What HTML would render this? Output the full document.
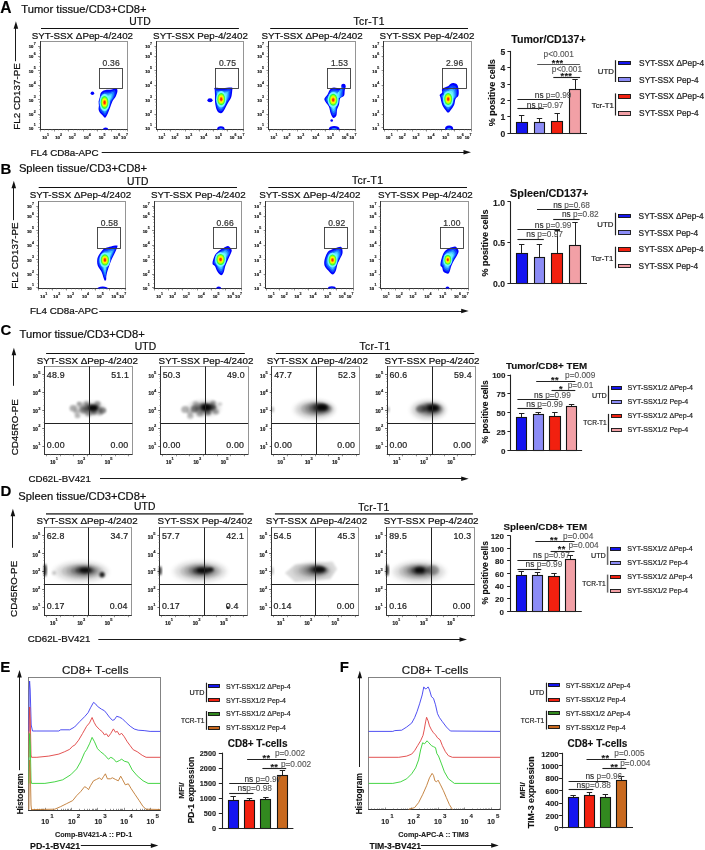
<!DOCTYPE html><html><head><meta charset="utf-8"><title>Figure</title><style>html,body{margin:0;padding:0;background:#fff;width:705px;height:850px;overflow:hidden;}svg{display:block;font-family:"Liberation Sans", sans-serif;will-change:transform;}</style></head><body><svg width="705" height="850" viewBox="0 0 705 850" font-family='"Liberation Sans", sans-serif' fill="#111"><defs><filter id="bl1" x="-20%" y="-20%" width="140%" height="140%"><feGaussianBlur stdDeviation="0.45"/></filter><filter id="bl2" x="-50%" y="-50%" width="200%" height="200%"><feGaussianBlur stdDeviation="1.2"/></filter><filter id="bl3" x="-50%" y="-50%" width="200%" height="200%"><feGaussianBlur stdDeviation="2.2"/></filter><filter id="bl4" x="-50%" y="-50%" width="200%" height="200%"><feGaussianBlur stdDeviation="0.8"/></filter><clipPath id="cA0"><rect x="40" y="41.5" width="87.5" height="88"/></clipPath><clipPath id="cA1"><rect x="156.4" y="41.5" width="87.5" height="88"/></clipPath><clipPath id="cA2"><rect x="268.4" y="41.5" width="87.5" height="88"/></clipPath><clipPath id="cA3"><rect x="383.6" y="41.5" width="87.5" height="88"/></clipPath><clipPath id="cB0"><rect x="38.2" y="201.5" width="87.7" height="87"/></clipPath><clipPath id="cB1"><rect x="154" y="201.5" width="87.7" height="87"/></clipPath><clipPath id="cB2"><rect x="265.6" y="201.5" width="87.7" height="87"/></clipPath><clipPath id="cB3"><rect x="380.7" y="201.5" width="87.7" height="87"/></clipPath></defs><text x="0.2" y="12.8" font-size="15.6" font-weight="bold" fill="#000" stroke="#000" stroke-width="0.13">A</text>
<text x="21.3" y="12.5" font-size="11.2" stroke="#111" stroke-width="0.22">Tumor tissue/CD3+CD8+</text>
<text x="139.95" y="25.4" font-size="10.3" text-anchor="middle" stroke="#111" stroke-width="0.22" letter-spacing="0.15">UTD</text>
<text x="369.1" y="25.4" font-size="10.3" text-anchor="middle" stroke="#111" stroke-width="0.22" letter-spacing="0.35">Tcr-T1</text>
<line x1="41" y1="28.5" x2="238.9" y2="28.5" stroke="#111" stroke-width="1.1"/>
<line x1="270.2" y1="28.5" x2="468" y2="28.5" stroke="#111" stroke-width="1.1"/>
<text x="82.4" y="38.5" font-size="9.8" text-anchor="middle" stroke="#111" stroke-width="0.22">SYT-SSX ΔPep-4/2402</text>
<text x="200.5" y="38.5" font-size="9.8" text-anchor="middle" stroke="#111" stroke-width="0.22">SYT-SSX Pep-4/2402</text>
<text x="312.1" y="38.5" font-size="9.8" text-anchor="middle" stroke="#111" stroke-width="0.22">SYT-SSX ΔPep-4/2402</text>
<text x="427" y="38.5" font-size="9.8" text-anchor="middle" stroke="#111" stroke-width="0.22">SYT-SSX Pep-4/2402</text>
<rect x="40.5" y="41.5" width="87" height="88" fill="none" stroke="#8a8a8a" stroke-width="0.9"/>
<line x1="40.5" y1="41.1" x2="40.5" y2="129.9" stroke="#333" stroke-width="1"/>
<line x1="39.6" y1="129.5" x2="127.5" y2="129.5" stroke="#333" stroke-width="1"/>
<line x1="38" y1="127.5" x2="40" y2="127.5" stroke="#444" stroke-width="0.6"/>
<text x="31.1" y="129.67" font-size="4.2" text-anchor="middle" font-weight="bold" fill="#1a1a1a" stroke="#1a1a1a" stroke-width="0.22">10</text>
<text x="33.7" y="126.31" font-size="3.57" font-weight="bold" fill="#1a1a1a" stroke="#1a1a1a" stroke-width="0.15">1</text>
<line x1="39" y1="123.5" x2="40" y2="123.5" stroke="#777" stroke-width="0.5"/>
<line x1="39" y1="119.5" x2="40" y2="119.5" stroke="#777" stroke-width="0.5"/>
<line x1="39" y1="117.5" x2="40" y2="117.5" stroke="#777" stroke-width="0.5"/>
<line x1="39" y1="115.5" x2="40" y2="115.5" stroke="#777" stroke-width="0.5"/>
<line x1="38" y1="114.5" x2="40" y2="114.5" stroke="#444" stroke-width="0.6"/>
<text x="31.1" y="116.07" font-size="4.2" text-anchor="middle" font-weight="bold" fill="#1a1a1a" stroke="#1a1a1a" stroke-width="0.22">10</text>
<text x="33.7" y="112.71" font-size="3.57" font-weight="bold" fill="#1a1a1a" stroke="#1a1a1a" stroke-width="0.15">2</text>
<line x1="39" y1="109.5" x2="40" y2="109.5" stroke="#777" stroke-width="0.5"/>
<line x1="39" y1="105.5" x2="40" y2="105.5" stroke="#777" stroke-width="0.5"/>
<line x1="39" y1="102.5" x2="40" y2="102.5" stroke="#777" stroke-width="0.5"/>
<line x1="39" y1="101.5" x2="40" y2="101.5" stroke="#777" stroke-width="0.5"/>
<line x1="38" y1="99.5" x2="40" y2="99.5" stroke="#444" stroke-width="0.6"/>
<text x="31.1" y="101.67" font-size="4.2" text-anchor="middle" font-weight="bold" fill="#1a1a1a" stroke="#1a1a1a" stroke-width="0.22">10</text>
<text x="33.7" y="98.31" font-size="3.57" font-weight="bold" fill="#1a1a1a" stroke="#1a1a1a" stroke-width="0.15">3</text>
<line x1="39" y1="95.5" x2="40" y2="95.5" stroke="#777" stroke-width="0.5"/>
<line x1="39" y1="91.5" x2="40" y2="91.5" stroke="#777" stroke-width="0.5"/>
<line x1="39" y1="88.5" x2="40" y2="88.5" stroke="#777" stroke-width="0.5"/>
<line x1="39" y1="86.5" x2="40" y2="86.5" stroke="#777" stroke-width="0.5"/>
<line x1="38" y1="85.5" x2="40" y2="85.5" stroke="#444" stroke-width="0.6"/>
<text x="31.1" y="87.27" font-size="4.2" text-anchor="middle" font-weight="bold" fill="#1a1a1a" stroke="#1a1a1a" stroke-width="0.22">10</text>
<text x="33.7" y="83.91" font-size="3.57" font-weight="bold" fill="#1a1a1a" stroke="#1a1a1a" stroke-width="0.15">4</text>
<line x1="39" y1="80.5" x2="40" y2="80.5" stroke="#777" stroke-width="0.5"/>
<line x1="39" y1="76.5" x2="40" y2="76.5" stroke="#777" stroke-width="0.5"/>
<line x1="39" y1="73.5" x2="40" y2="73.5" stroke="#777" stroke-width="0.5"/>
<line x1="39" y1="72.5" x2="40" y2="72.5" stroke="#777" stroke-width="0.5"/>
<line x1="38" y1="70.5" x2="40" y2="70.5" stroke="#444" stroke-width="0.6"/>
<text x="31.1" y="72.67" font-size="4.2" text-anchor="middle" font-weight="bold" fill="#1a1a1a" stroke="#1a1a1a" stroke-width="0.22">10</text>
<text x="33.7" y="69.31" font-size="3.57" font-weight="bold" fill="#1a1a1a" stroke="#1a1a1a" stroke-width="0.15">5</text>
<line x1="39" y1="66.5" x2="40" y2="66.5" stroke="#777" stroke-width="0.5"/>
<line x1="39" y1="62.5" x2="40" y2="62.5" stroke="#777" stroke-width="0.5"/>
<line x1="39" y1="59.5" x2="40" y2="59.5" stroke="#777" stroke-width="0.5"/>
<line x1="39" y1="57.5" x2="40" y2="57.5" stroke="#777" stroke-width="0.5"/>
<line x1="38" y1="56.5" x2="40" y2="56.5" stroke="#444" stroke-width="0.6"/>
<text x="31.1" y="58.27" font-size="4.2" text-anchor="middle" font-weight="bold" fill="#1a1a1a" stroke="#1a1a1a" stroke-width="0.22">10</text>
<text x="33.7" y="54.91" font-size="3.57" font-weight="bold" fill="#1a1a1a" stroke="#1a1a1a" stroke-width="0.15">6</text>
<line x1="39" y1="53.5" x2="40" y2="53.5" stroke="#777" stroke-width="0.5"/>
<line x1="39" y1="50.5" x2="40" y2="50.5" stroke="#777" stroke-width="0.5"/>
<line x1="39" y1="48.5" x2="40" y2="48.5" stroke="#777" stroke-width="0.5"/>
<line x1="39" y1="47.5" x2="40" y2="47.5" stroke="#777" stroke-width="0.5"/>
<line x1="38" y1="46.5" x2="40" y2="46.5" stroke="#444" stroke-width="0.6"/>
<text x="31.1" y="48.47" font-size="4.2" text-anchor="middle" font-weight="bold" fill="#1a1a1a" stroke="#1a1a1a" stroke-width="0.22">10</text>
<text x="33.7" y="45.11" font-size="3.57" font-weight="bold" fill="#1a1a1a" stroke="#1a1a1a" stroke-width="0.15">7</text>
<text x="44.5" y="138.87" font-size="4.2" text-anchor="middle" font-weight="bold" fill="#1a1a1a" stroke="#1a1a1a" stroke-width="0.22">10</text>
<text x="47.1" y="135.51" font-size="3.57" font-weight="bold" fill="#1a1a1a" stroke="#1a1a1a" stroke-width="0.15">1</text>
<text x="57.5" y="138.87" font-size="4.2" text-anchor="middle" font-weight="bold" fill="#1a1a1a" stroke="#1a1a1a" stroke-width="0.22">10</text>
<text x="60.1" y="135.51" font-size="3.57" font-weight="bold" fill="#1a1a1a" stroke="#1a1a1a" stroke-width="0.15">2</text>
<text x="71.2" y="138.87" font-size="4.2" text-anchor="middle" font-weight="bold" fill="#1a1a1a" stroke="#1a1a1a" stroke-width="0.22">10</text>
<text x="73.8" y="135.51" font-size="3.57" font-weight="bold" fill="#1a1a1a" stroke="#1a1a1a" stroke-width="0.15">3</text>
<text x="86.2" y="138.87" font-size="4.2" text-anchor="middle" font-weight="bold" fill="#1a1a1a" stroke="#1a1a1a" stroke-width="0.22">10</text>
<text x="88.8" y="135.51" font-size="3.57" font-weight="bold" fill="#1a1a1a" stroke="#1a1a1a" stroke-width="0.15">4</text>
<text x="101" y="138.87" font-size="4.2" text-anchor="middle" font-weight="bold" fill="#1a1a1a" stroke="#1a1a1a" stroke-width="0.22">10</text>
<text x="103.6" y="135.51" font-size="3.57" font-weight="bold" fill="#1a1a1a" stroke="#1a1a1a" stroke-width="0.15">5</text>
<text x="115.6" y="138.87" font-size="4.2" text-anchor="middle" font-weight="bold" fill="#1a1a1a" stroke="#1a1a1a" stroke-width="0.22">10</text>
<text x="118.2" y="135.51" font-size="3.57" font-weight="bold" fill="#1a1a1a" stroke="#1a1a1a" stroke-width="0.15">6</text>
<text x="123.4" y="138.87" font-size="4.2" text-anchor="middle" font-weight="bold" fill="#1a1a1a" stroke="#1a1a1a" stroke-width="0.22">10</text>
<text x="126" y="135.51" font-size="3.57" font-weight="bold" fill="#1a1a1a" stroke="#1a1a1a" stroke-width="0.15">7</text>
<line x1="40.5" y1="129.5" x2="40.5" y2="131.5" stroke="#444" stroke-width="0.6"/>
<line x1="44.5" y1="129.5" x2="44.5" y2="130.5" stroke="#777" stroke-width="0.5"/>
<line x1="48.5" y1="129.5" x2="48.5" y2="130.5" stroke="#777" stroke-width="0.5"/>
<line x1="51.5" y1="129.5" x2="51.5" y2="130.5" stroke="#777" stroke-width="0.5"/>
<line x1="52.5" y1="129.5" x2="52.5" y2="130.5" stroke="#777" stroke-width="0.5"/>
<line x1="54.5" y1="129.5" x2="54.5" y2="131.5" stroke="#444" stroke-width="0.6"/>
<line x1="58.5" y1="129.5" x2="58.5" y2="130.5" stroke="#777" stroke-width="0.5"/>
<line x1="62.5" y1="129.5" x2="62.5" y2="130.5" stroke="#777" stroke-width="0.5"/>
<line x1="65.5" y1="129.5" x2="65.5" y2="130.5" stroke="#777" stroke-width="0.5"/>
<line x1="67.5" y1="129.5" x2="67.5" y2="130.5" stroke="#777" stroke-width="0.5"/>
<line x1="68.5" y1="129.5" x2="68.5" y2="131.5" stroke="#444" stroke-width="0.6"/>
<line x1="73.5" y1="129.5" x2="73.5" y2="130.5" stroke="#777" stroke-width="0.5"/>
<line x1="77.5" y1="129.5" x2="77.5" y2="130.5" stroke="#777" stroke-width="0.5"/>
<line x1="79.5" y1="129.5" x2="79.5" y2="130.5" stroke="#777" stroke-width="0.5"/>
<line x1="81.5" y1="129.5" x2="81.5" y2="130.5" stroke="#777" stroke-width="0.5"/>
<line x1="83.5" y1="129.5" x2="83.5" y2="131.5" stroke="#444" stroke-width="0.6"/>
<line x1="87.5" y1="129.5" x2="87.5" y2="130.5" stroke="#777" stroke-width="0.5"/>
<line x1="91.5" y1="129.5" x2="91.5" y2="130.5" stroke="#777" stroke-width="0.5"/>
<line x1="94.5" y1="129.5" x2="94.5" y2="130.5" stroke="#777" stroke-width="0.5"/>
<line x1="96.5" y1="129.5" x2="96.5" y2="130.5" stroke="#777" stroke-width="0.5"/>
<line x1="97.5" y1="129.5" x2="97.5" y2="131.5" stroke="#444" stroke-width="0.6"/>
<line x1="101.5" y1="129.5" x2="101.5" y2="130.5" stroke="#777" stroke-width="0.5"/>
<line x1="105.5" y1="129.5" x2="105.5" y2="130.5" stroke="#777" stroke-width="0.5"/>
<line x1="108.5" y1="129.5" x2="108.5" y2="130.5" stroke="#777" stroke-width="0.5"/>
<line x1="109.5" y1="129.5" x2="109.5" y2="130.5" stroke="#777" stroke-width="0.5"/>
<line x1="111.5" y1="129.5" x2="111.5" y2="131.5" stroke="#444" stroke-width="0.6"/>
<line x1="116.5" y1="129.5" x2="116.5" y2="130.5" stroke="#777" stroke-width="0.5"/>
<line x1="120.5" y1="129.5" x2="120.5" y2="130.5" stroke="#777" stroke-width="0.5"/>
<line x1="123.5" y1="129.5" x2="123.5" y2="130.5" stroke="#777" stroke-width="0.5"/>
<line x1="125.5" y1="129.5" x2="125.5" y2="130.5" stroke="#777" stroke-width="0.5"/>
<line x1="127.5" y1="129.5" x2="127.5" y2="131.5" stroke="#444" stroke-width="0.6"/>
<g filter="url(#bl1)" clip-path="url(#cA0)">
<ellipse cx="92.4" cy="93.2" rx="1.8" ry="1.7" fill="#0000ff"/>
<ellipse cx="105.6" cy="129.2" rx="2.6" ry="1.8" fill="#0000ff"/>
<path d="M116.8 88.5 C117.2 89.02 117.6 90.03 117.4 91.4 C117.2 92.77 116.38 95.13 115.6 96.7 C114.82 98.27 113.57 99.13 112.7 100.8 C111.83 102.47 111.08 104.93 110.4 106.7 C109.72 108.47 109.2 109.93 108.6 111.4 C108 112.87 107.4 114.45 106.8 115.5 C106.2 116.55 105.68 117.7 105 117.7 C104.32 117.7 103.57 116.35 102.7 115.5 C101.83 114.65 100.48 113.58 99.8 112.6 C99.12 111.62 98.75 110.78 98.6 109.6 C98.45 108.42 98.9 106.87 98.9 105.5 C98.9 104.13 98.45 102.77 98.6 101.4 C98.75 100.03 99.5 98.57 99.8 97.3 C100.1 96.03 100.02 94.78 100.4 93.8 C100.78 92.82 101.23 92.03 102.1 91.4 C102.97 90.77 104.03 90.3 105.6 90 C107.17 89.7 109.93 89.88 111.5 89.6 C113.07 89.32 114.12 88.48 115 88.3 C115.88 88.12 116.4 87.98 116.8 88.5Z" fill="#0000ff"/>
<path d="M115.09 90.45 C115.44 90.89 115.78 91.76 115.61 92.94 C115.44 94.12 114.73 96.15 114.06 97.5 C113.39 98.85 112.31 99.59 111.57 101.02 C110.82 102.46 110.18 104.58 109.59 106.1 C109 107.62 108.56 108.88 108.04 110.14 C107.52 111.4 107.01 112.76 106.49 113.67 C105.98 114.57 105.53 115.56 104.94 115.56 C104.36 115.56 103.71 114.4 102.97 113.67 C102.22 112.94 101.06 112.02 100.47 111.17 C99.88 110.33 99.57 109.61 99.44 108.59 C99.31 107.57 99.7 106.24 99.7 105.07 C99.7 103.89 99.31 102.72 99.44 101.54 C99.57 100.36 100.21 99.1 100.47 98.01 C100.73 96.92 100.66 95.85 100.99 95 C101.32 94.16 101.7 93.48 102.45 92.94 C103.2 92.4 104.11 91.99 105.46 91.74 C106.81 91.48 109.19 91.64 110.53 91.39 C111.88 91.15 112.78 90.43 113.54 90.27 C114.3 90.12 114.75 90 115.09 90.45Z" fill="#0a40ff"/>
<path d="M113.51 92.25 C113.8 92.63 114.09 93.37 113.94 94.37 C113.8 95.37 113.2 97.1 112.63 98.24 C112.06 99.38 111.15 100.02 110.51 101.23 C109.88 102.45 109.33 104.25 108.83 105.54 C108.34 106.83 107.96 107.9 107.52 108.97 C107.08 110.04 106.64 111.2 106.21 111.96 C105.77 112.73 105.39 113.57 104.89 113.57 C104.39 113.57 103.85 112.58 103.21 111.96 C102.58 111.34 101.59 110.56 101.1 109.85 C100.6 109.13 100.33 108.52 100.22 107.66 C100.11 106.79 100.44 105.66 100.44 104.66 C100.44 103.67 100.11 102.67 100.22 101.67 C100.33 100.67 100.88 99.6 101.1 98.68 C101.31 97.75 101.25 96.84 101.53 96.12 C101.81 95.4 102.14 94.83 102.77 94.37 C103.41 93.91 104.19 93.57 105.33 93.35 C106.47 93.13 108.49 93.26 109.64 93.06 C110.78 92.85 111.55 92.24 112.19 92.11 C112.84 91.97 113.21 91.88 113.51 92.25Z" fill="#2088ff"/>
<path d="M112.04 93.92 C112.29 94.24 112.53 94.86 112.41 95.69 C112.29 96.52 111.79 97.97 111.31 98.92 C110.83 99.88 110.07 100.41 109.54 101.42 C109.01 102.44 108.55 103.95 108.14 105.02 C107.72 106.1 107.41 107 107.04 107.89 C106.67 108.78 106.31 109.75 105.94 110.39 C105.58 111.03 105.26 111.73 104.84 111.73 C104.43 111.73 103.97 110.91 103.44 110.39 C102.91 109.87 102.09 109.22 101.67 108.62 C101.26 108.02 101.03 107.51 100.94 106.79 C100.85 106.07 101.12 105.12 101.12 104.29 C101.12 103.46 100.85 102.62 100.94 101.79 C101.03 100.96 101.49 100.06 101.67 99.29 C101.85 98.52 101.8 97.75 102.04 97.15 C102.27 96.55 102.55 96.08 103.07 95.69 C103.6 95.3 104.25 95.02 105.21 94.84 C106.17 94.65 107.85 94.76 108.81 94.59 C109.76 94.42 110.41 93.91 110.94 93.8 C111.48 93.69 111.8 93.61 112.04 93.92Z" fill="#40c4ff"/>
<path d="M110.7 95.45 C110.9 95.71 111.1 96.22 111 96.9 C110.9 97.58 110.49 98.77 110.1 99.55 C109.71 100.33 109.08 100.77 108.65 101.6 C108.22 102.43 107.84 103.67 107.5 104.55 C107.16 105.43 106.9 106.17 106.6 106.9 C106.3 107.63 106 108.42 105.7 108.95 C105.4 109.48 105.14 110.05 104.8 110.05 C104.46 110.05 104.08 109.38 103.65 108.95 C103.22 108.53 102.54 107.99 102.2 107.5 C101.86 107.01 101.67 106.59 101.6 106 C101.52 105.41 101.75 104.63 101.75 103.95 C101.75 103.27 101.52 102.58 101.6 101.9 C101.67 101.22 102.05 100.48 102.2 99.85 C102.35 99.22 102.31 98.59 102.5 98.1 C102.69 97.61 102.92 97.22 103.35 96.9 C103.78 96.58 104.32 96.35 105.1 96.2 C105.88 96.05 107.27 96.14 108.05 96 C108.83 95.86 109.36 95.44 109.8 95.35 C110.24 95.26 110.5 95.19 110.7 95.45Z" fill="#64ecff"/>
<ellipse cx="104.6" cy="102.4" rx="5.08" ry="8.58" fill="#74f4ff"/>
<ellipse cx="104.6" cy="102.4" rx="3.85" ry="6.5" fill="#28ff3c"/>
<ellipse cx="104.6" cy="102.4" rx="3.08" ry="5.2" fill="#a4ff10"/>
<ellipse cx="104.6" cy="102.4" rx="2.31" ry="3.9" fill="#ffff00"/>
<ellipse cx="104.6" cy="102.4" rx="1.62" ry="2.73" fill="#ffa400"/>
<ellipse cx="104.6" cy="102.4" rx="1.04" ry="1.76" fill="#ff2800"/>
</g>
<rect x="99.5" y="68.5" width="23" height="20" fill="none" stroke="#3a3a3a" stroke-width="0.9"/>
<text x="111.15" y="66.3" font-size="8.5" text-anchor="middle" fill="#333" stroke="#333" stroke-width="0.22" letter-spacing="0.2">0.36</text>
<rect x="156.5" y="41.5" width="87" height="88" fill="none" stroke="#8a8a8a" stroke-width="0.9"/>
<line x1="156.5" y1="41.1" x2="156.5" y2="129.9" stroke="#333" stroke-width="1"/>
<line x1="156" y1="129.5" x2="243.9" y2="129.5" stroke="#333" stroke-width="1"/>
<line x1="154.4" y1="127.5" x2="156.4" y2="127.5" stroke="#444" stroke-width="0.6"/>
<text x="147.5" y="129.67" font-size="4.2" text-anchor="middle" font-weight="bold" fill="#1a1a1a" stroke="#1a1a1a" stroke-width="0.22">10</text>
<text x="150.1" y="126.31" font-size="3.57" font-weight="bold" fill="#1a1a1a" stroke="#1a1a1a" stroke-width="0.15">1</text>
<line x1="155.4" y1="123.5" x2="156.4" y2="123.5" stroke="#777" stroke-width="0.5"/>
<line x1="155.4" y1="119.5" x2="156.4" y2="119.5" stroke="#777" stroke-width="0.5"/>
<line x1="155.4" y1="117.5" x2="156.4" y2="117.5" stroke="#777" stroke-width="0.5"/>
<line x1="155.4" y1="115.5" x2="156.4" y2="115.5" stroke="#777" stroke-width="0.5"/>
<line x1="154.4" y1="114.5" x2="156.4" y2="114.5" stroke="#444" stroke-width="0.6"/>
<text x="147.5" y="116.07" font-size="4.2" text-anchor="middle" font-weight="bold" fill="#1a1a1a" stroke="#1a1a1a" stroke-width="0.22">10</text>
<text x="150.1" y="112.71" font-size="3.57" font-weight="bold" fill="#1a1a1a" stroke="#1a1a1a" stroke-width="0.15">2</text>
<line x1="155.4" y1="109.5" x2="156.4" y2="109.5" stroke="#777" stroke-width="0.5"/>
<line x1="155.4" y1="105.5" x2="156.4" y2="105.5" stroke="#777" stroke-width="0.5"/>
<line x1="155.4" y1="102.5" x2="156.4" y2="102.5" stroke="#777" stroke-width="0.5"/>
<line x1="155.4" y1="101.5" x2="156.4" y2="101.5" stroke="#777" stroke-width="0.5"/>
<line x1="154.4" y1="99.5" x2="156.4" y2="99.5" stroke="#444" stroke-width="0.6"/>
<text x="147.5" y="101.67" font-size="4.2" text-anchor="middle" font-weight="bold" fill="#1a1a1a" stroke="#1a1a1a" stroke-width="0.22">10</text>
<text x="150.1" y="98.31" font-size="3.57" font-weight="bold" fill="#1a1a1a" stroke="#1a1a1a" stroke-width="0.15">3</text>
<line x1="155.4" y1="95.5" x2="156.4" y2="95.5" stroke="#777" stroke-width="0.5"/>
<line x1="155.4" y1="91.5" x2="156.4" y2="91.5" stroke="#777" stroke-width="0.5"/>
<line x1="155.4" y1="88.5" x2="156.4" y2="88.5" stroke="#777" stroke-width="0.5"/>
<line x1="155.4" y1="86.5" x2="156.4" y2="86.5" stroke="#777" stroke-width="0.5"/>
<line x1="154.4" y1="85.5" x2="156.4" y2="85.5" stroke="#444" stroke-width="0.6"/>
<text x="147.5" y="87.27" font-size="4.2" text-anchor="middle" font-weight="bold" fill="#1a1a1a" stroke="#1a1a1a" stroke-width="0.22">10</text>
<text x="150.1" y="83.91" font-size="3.57" font-weight="bold" fill="#1a1a1a" stroke="#1a1a1a" stroke-width="0.15">4</text>
<line x1="155.4" y1="80.5" x2="156.4" y2="80.5" stroke="#777" stroke-width="0.5"/>
<line x1="155.4" y1="76.5" x2="156.4" y2="76.5" stroke="#777" stroke-width="0.5"/>
<line x1="155.4" y1="73.5" x2="156.4" y2="73.5" stroke="#777" stroke-width="0.5"/>
<line x1="155.4" y1="72.5" x2="156.4" y2="72.5" stroke="#777" stroke-width="0.5"/>
<line x1="154.4" y1="70.5" x2="156.4" y2="70.5" stroke="#444" stroke-width="0.6"/>
<text x="147.5" y="72.67" font-size="4.2" text-anchor="middle" font-weight="bold" fill="#1a1a1a" stroke="#1a1a1a" stroke-width="0.22">10</text>
<text x="150.1" y="69.31" font-size="3.57" font-weight="bold" fill="#1a1a1a" stroke="#1a1a1a" stroke-width="0.15">5</text>
<line x1="155.4" y1="66.5" x2="156.4" y2="66.5" stroke="#777" stroke-width="0.5"/>
<line x1="155.4" y1="62.5" x2="156.4" y2="62.5" stroke="#777" stroke-width="0.5"/>
<line x1="155.4" y1="59.5" x2="156.4" y2="59.5" stroke="#777" stroke-width="0.5"/>
<line x1="155.4" y1="57.5" x2="156.4" y2="57.5" stroke="#777" stroke-width="0.5"/>
<line x1="154.4" y1="56.5" x2="156.4" y2="56.5" stroke="#444" stroke-width="0.6"/>
<text x="147.5" y="58.27" font-size="4.2" text-anchor="middle" font-weight="bold" fill="#1a1a1a" stroke="#1a1a1a" stroke-width="0.22">10</text>
<text x="150.1" y="54.91" font-size="3.57" font-weight="bold" fill="#1a1a1a" stroke="#1a1a1a" stroke-width="0.15">6</text>
<line x1="155.4" y1="53.5" x2="156.4" y2="53.5" stroke="#777" stroke-width="0.5"/>
<line x1="155.4" y1="50.5" x2="156.4" y2="50.5" stroke="#777" stroke-width="0.5"/>
<line x1="155.4" y1="48.5" x2="156.4" y2="48.5" stroke="#777" stroke-width="0.5"/>
<line x1="155.4" y1="47.5" x2="156.4" y2="47.5" stroke="#777" stroke-width="0.5"/>
<line x1="154.4" y1="46.5" x2="156.4" y2="46.5" stroke="#444" stroke-width="0.6"/>
<text x="147.5" y="48.47" font-size="4.2" text-anchor="middle" font-weight="bold" fill="#1a1a1a" stroke="#1a1a1a" stroke-width="0.22">10</text>
<text x="150.1" y="45.11" font-size="3.57" font-weight="bold" fill="#1a1a1a" stroke="#1a1a1a" stroke-width="0.15">7</text>
<text x="160.9" y="138.87" font-size="4.2" text-anchor="middle" font-weight="bold" fill="#1a1a1a" stroke="#1a1a1a" stroke-width="0.22">10</text>
<text x="163.5" y="135.51" font-size="3.57" font-weight="bold" fill="#1a1a1a" stroke="#1a1a1a" stroke-width="0.15">1</text>
<text x="173.9" y="138.87" font-size="4.2" text-anchor="middle" font-weight="bold" fill="#1a1a1a" stroke="#1a1a1a" stroke-width="0.22">10</text>
<text x="176.5" y="135.51" font-size="3.57" font-weight="bold" fill="#1a1a1a" stroke="#1a1a1a" stroke-width="0.15">2</text>
<text x="187.6" y="138.87" font-size="4.2" text-anchor="middle" font-weight="bold" fill="#1a1a1a" stroke="#1a1a1a" stroke-width="0.22">10</text>
<text x="190.2" y="135.51" font-size="3.57" font-weight="bold" fill="#1a1a1a" stroke="#1a1a1a" stroke-width="0.15">3</text>
<text x="202.6" y="138.87" font-size="4.2" text-anchor="middle" font-weight="bold" fill="#1a1a1a" stroke="#1a1a1a" stroke-width="0.22">10</text>
<text x="205.2" y="135.51" font-size="3.57" font-weight="bold" fill="#1a1a1a" stroke="#1a1a1a" stroke-width="0.15">4</text>
<text x="217.4" y="138.87" font-size="4.2" text-anchor="middle" font-weight="bold" fill="#1a1a1a" stroke="#1a1a1a" stroke-width="0.22">10</text>
<text x="220" y="135.51" font-size="3.57" font-weight="bold" fill="#1a1a1a" stroke="#1a1a1a" stroke-width="0.15">5</text>
<text x="232" y="138.87" font-size="4.2" text-anchor="middle" font-weight="bold" fill="#1a1a1a" stroke="#1a1a1a" stroke-width="0.22">10</text>
<text x="234.6" y="135.51" font-size="3.57" font-weight="bold" fill="#1a1a1a" stroke="#1a1a1a" stroke-width="0.15">6</text>
<text x="239.8" y="138.87" font-size="4.2" text-anchor="middle" font-weight="bold" fill="#1a1a1a" stroke="#1a1a1a" stroke-width="0.22">10</text>
<text x="242.4" y="135.51" font-size="3.57" font-weight="bold" fill="#1a1a1a" stroke="#1a1a1a" stroke-width="0.15">7</text>
<line x1="157.5" y1="129.5" x2="157.5" y2="131.5" stroke="#444" stroke-width="0.6"/>
<line x1="161.5" y1="129.5" x2="161.5" y2="130.5" stroke="#777" stroke-width="0.5"/>
<line x1="165.5" y1="129.5" x2="165.5" y2="130.5" stroke="#777" stroke-width="0.5"/>
<line x1="167.5" y1="129.5" x2="167.5" y2="130.5" stroke="#777" stroke-width="0.5"/>
<line x1="169.5" y1="129.5" x2="169.5" y2="130.5" stroke="#777" stroke-width="0.5"/>
<line x1="170.5" y1="129.5" x2="170.5" y2="131.5" stroke="#444" stroke-width="0.6"/>
<line x1="175.5" y1="129.5" x2="175.5" y2="130.5" stroke="#777" stroke-width="0.5"/>
<line x1="179.5" y1="129.5" x2="179.5" y2="130.5" stroke="#777" stroke-width="0.5"/>
<line x1="181.5" y1="129.5" x2="181.5" y2="130.5" stroke="#777" stroke-width="0.5"/>
<line x1="183.5" y1="129.5" x2="183.5" y2="130.5" stroke="#777" stroke-width="0.5"/>
<line x1="185.5" y1="129.5" x2="185.5" y2="131.5" stroke="#444" stroke-width="0.6"/>
<line x1="189.5" y1="129.5" x2="189.5" y2="130.5" stroke="#777" stroke-width="0.5"/>
<line x1="193.5" y1="129.5" x2="193.5" y2="130.5" stroke="#777" stroke-width="0.5"/>
<line x1="196.5" y1="129.5" x2="196.5" y2="130.5" stroke="#777" stroke-width="0.5"/>
<line x1="198.5" y1="129.5" x2="198.5" y2="130.5" stroke="#777" stroke-width="0.5"/>
<line x1="199.5" y1="129.5" x2="199.5" y2="131.5" stroke="#444" stroke-width="0.6"/>
<line x1="203.5" y1="129.5" x2="203.5" y2="130.5" stroke="#777" stroke-width="0.5"/>
<line x1="208.5" y1="129.5" x2="208.5" y2="130.5" stroke="#777" stroke-width="0.5"/>
<line x1="210.5" y1="129.5" x2="210.5" y2="130.5" stroke="#777" stroke-width="0.5"/>
<line x1="212.5" y1="129.5" x2="212.5" y2="130.5" stroke="#777" stroke-width="0.5"/>
<line x1="213.5" y1="129.5" x2="213.5" y2="131.5" stroke="#444" stroke-width="0.6"/>
<line x1="217.5" y1="129.5" x2="217.5" y2="130.5" stroke="#777" stroke-width="0.5"/>
<line x1="222.5" y1="129.5" x2="222.5" y2="130.5" stroke="#777" stroke-width="0.5"/>
<line x1="224.5" y1="129.5" x2="224.5" y2="130.5" stroke="#777" stroke-width="0.5"/>
<line x1="226.5" y1="129.5" x2="226.5" y2="130.5" stroke="#777" stroke-width="0.5"/>
<line x1="227.5" y1="129.5" x2="227.5" y2="131.5" stroke="#444" stroke-width="0.6"/>
<line x1="232.5" y1="129.5" x2="232.5" y2="130.5" stroke="#777" stroke-width="0.5"/>
<line x1="237.5" y1="129.5" x2="237.5" y2="130.5" stroke="#777" stroke-width="0.5"/>
<line x1="240.5" y1="129.5" x2="240.5" y2="130.5" stroke="#777" stroke-width="0.5"/>
<line x1="242.5" y1="129.5" x2="242.5" y2="130.5" stroke="#777" stroke-width="0.5"/>
<line x1="243.5" y1="129.5" x2="243.5" y2="131.5" stroke="#444" stroke-width="0.6"/>
<g filter="url(#bl1)" clip-path="url(#cA1)">
<ellipse cx="210" cy="100.2" rx="2.6" ry="2" fill="#0000ff"/>
<ellipse cx="220.9" cy="129.2" rx="3.8" ry="3" fill="#0000ff"/>
<ellipse cx="220.9" cy="129.7" rx="2.09" ry="1.65" fill="#2a8cff"/>
<path d="M214.7 87.9 C216.08 87.67 220.15 88.25 223 88.2 C225.85 88.15 230.27 87.17 231.8 87.6 C233.33 88.03 232.3 89.18 232.2 90.8 C232.1 92.42 231.87 95.33 231.2 97.3 C230.53 99.27 229.18 100.83 228.2 102.6 C227.22 104.37 226.18 106.33 225.3 107.9 C224.42 109.47 223.68 111.12 222.9 112 C222.12 112.88 221.48 113.3 220.6 113.2 C219.72 113.1 218.38 112.38 217.6 111.4 C216.82 110.42 216.33 108.97 215.9 107.3 C215.47 105.63 215.15 103.47 215 101.4 C214.85 99.33 215.05 96.87 215 94.9 C214.95 92.93 214.75 90.77 214.7 89.6 C214.65 88.43 213.32 88.13 214.7 87.9Z" fill="#0000ff"/>
<path d="M215.61 89.48 C216.8 89.28 220.3 89.78 222.75 89.74 C225.2 89.7 229 88.85 230.32 89.22 C231.63 89.6 230.75 90.59 230.66 91.98 C230.57 93.37 230.37 95.87 229.8 97.57 C229.23 99.26 228.07 100.6 227.22 102.12 C226.37 103.64 225.49 105.33 224.73 106.68 C223.97 108.03 223.34 109.45 222.66 110.21 C221.99 110.97 221.44 111.33 220.68 111.24 C219.92 111.15 218.78 110.54 218.1 109.69 C217.43 108.85 217.01 107.6 216.64 106.17 C216.27 104.73 216 102.87 215.87 101.09 C215.74 99.31 215.91 97.19 215.87 95.5 C215.82 93.81 215.65 91.95 215.61 90.94 C215.57 89.94 214.42 89.68 215.61 89.48Z" fill="#0a40ff"/>
<path d="M216.45 90.95 C217.46 90.78 220.43 91.21 222.51 91.17 C224.59 91.13 227.82 90.42 228.94 90.73 C230.06 91.05 229.3 91.89 229.23 93.07 C229.16 94.25 228.99 96.38 228.5 97.81 C228.01 99.25 227.03 100.39 226.31 101.68 C225.59 102.97 224.84 104.41 224.19 105.55 C223.55 106.69 223.01 107.9 222.44 108.54 C221.87 109.19 221.41 109.49 220.76 109.42 C220.12 109.35 219.14 108.82 218.57 108.11 C218 107.39 217.65 106.33 217.33 105.11 C217.01 103.9 216.78 102.31 216.67 100.81 C216.56 99.3 216.71 97.5 216.67 96.06 C216.64 94.63 216.49 93.04 216.45 92.19 C216.42 91.34 215.45 91.12 216.45 90.95Z" fill="#2088ff"/>
<path d="M217.23 92.31 C218.08 92.16 220.56 92.52 222.3 92.49 C224.04 92.46 226.73 91.86 227.67 92.12 C228.6 92.39 227.97 93.09 227.91 94.08 C227.85 95.06 227.71 96.84 227.3 98.04 C226.89 99.24 226.07 100.2 225.47 101.27 C224.87 102.35 224.24 103.55 223.7 104.51 C223.16 105.46 222.71 106.47 222.24 107.01 C221.76 107.55 221.37 107.8 220.83 107.74 C220.3 107.68 219.48 107.24 219 106.64 C218.53 106.04 218.23 105.16 217.97 104.14 C217.7 103.12 217.51 101.8 217.42 100.54 C217.33 99.28 217.45 97.78 217.42 96.58 C217.39 95.38 217.27 94.06 217.23 93.34 C217.2 92.63 216.39 92.45 217.23 92.31Z" fill="#40c4ff"/>
<path d="M217.95 93.55 C218.64 93.43 220.67 93.73 222.1 93.7 C223.53 93.67 225.73 93.18 226.5 93.4 C227.27 93.62 226.75 94.19 226.7 95 C226.65 95.81 226.53 97.27 226.2 98.25 C225.87 99.23 225.19 100.02 224.7 100.9 C224.21 101.78 223.69 102.77 223.25 103.55 C222.81 104.33 222.44 105.16 222.05 105.6 C221.66 106.04 221.34 106.25 220.9 106.2 C220.46 106.15 219.79 105.79 219.4 105.3 C219.01 104.81 218.77 104.08 218.55 103.25 C218.33 102.42 218.18 101.33 218.1 100.3 C218.02 99.27 218.12 98.03 218.1 97.05 C218.07 96.07 217.97 94.98 217.95 94.4 C217.92 93.82 217.26 93.67 217.95 93.55Z" fill="#64ecff"/>
<ellipse cx="221.2" cy="99.2" rx="5.08" ry="8.12" fill="#74f4ff"/>
<ellipse cx="221.2" cy="99.2" rx="3.85" ry="6.15" fill="#28ff3c"/>
<ellipse cx="221.2" cy="99.2" rx="3.08" ry="4.92" fill="#a4ff10"/>
<ellipse cx="221.2" cy="99.2" rx="2.31" ry="3.69" fill="#ffff00"/>
<ellipse cx="221.2" cy="99.2" rx="1.62" ry="2.58" fill="#ffa400"/>
<ellipse cx="221.2" cy="99.2" rx="1.04" ry="1.66" fill="#ff2800"/>
</g>
<rect x="215.5" y="68.5" width="23" height="20" fill="none" stroke="#3a3a3a" stroke-width="0.9"/>
<text x="227.55" y="66.3" font-size="8.5" text-anchor="middle" fill="#333" stroke="#333" stroke-width="0.22" letter-spacing="0.2">0.75</text>
<rect x="268.5" y="41.5" width="87" height="88" fill="none" stroke="#8a8a8a" stroke-width="0.9"/>
<line x1="268.5" y1="41.1" x2="268.5" y2="129.9" stroke="#333" stroke-width="1"/>
<line x1="268" y1="129.5" x2="355.9" y2="129.5" stroke="#333" stroke-width="1"/>
<line x1="266.4" y1="127.5" x2="268.4" y2="127.5" stroke="#444" stroke-width="0.6"/>
<text x="259.5" y="129.67" font-size="4.2" text-anchor="middle" font-weight="bold" fill="#1a1a1a" stroke="#1a1a1a" stroke-width="0.22">10</text>
<text x="262.1" y="126.31" font-size="3.57" font-weight="bold" fill="#1a1a1a" stroke="#1a1a1a" stroke-width="0.15">1</text>
<line x1="267.4" y1="123.5" x2="268.4" y2="123.5" stroke="#777" stroke-width="0.5"/>
<line x1="267.4" y1="119.5" x2="268.4" y2="119.5" stroke="#777" stroke-width="0.5"/>
<line x1="267.4" y1="117.5" x2="268.4" y2="117.5" stroke="#777" stroke-width="0.5"/>
<line x1="267.4" y1="115.5" x2="268.4" y2="115.5" stroke="#777" stroke-width="0.5"/>
<line x1="266.4" y1="114.5" x2="268.4" y2="114.5" stroke="#444" stroke-width="0.6"/>
<text x="259.5" y="116.07" font-size="4.2" text-anchor="middle" font-weight="bold" fill="#1a1a1a" stroke="#1a1a1a" stroke-width="0.22">10</text>
<text x="262.1" y="112.71" font-size="3.57" font-weight="bold" fill="#1a1a1a" stroke="#1a1a1a" stroke-width="0.15">2</text>
<line x1="267.4" y1="109.5" x2="268.4" y2="109.5" stroke="#777" stroke-width="0.5"/>
<line x1="267.4" y1="105.5" x2="268.4" y2="105.5" stroke="#777" stroke-width="0.5"/>
<line x1="267.4" y1="102.5" x2="268.4" y2="102.5" stroke="#777" stroke-width="0.5"/>
<line x1="267.4" y1="101.5" x2="268.4" y2="101.5" stroke="#777" stroke-width="0.5"/>
<line x1="266.4" y1="99.5" x2="268.4" y2="99.5" stroke="#444" stroke-width="0.6"/>
<text x="259.5" y="101.67" font-size="4.2" text-anchor="middle" font-weight="bold" fill="#1a1a1a" stroke="#1a1a1a" stroke-width="0.22">10</text>
<text x="262.1" y="98.31" font-size="3.57" font-weight="bold" fill="#1a1a1a" stroke="#1a1a1a" stroke-width="0.15">3</text>
<line x1="267.4" y1="95.5" x2="268.4" y2="95.5" stroke="#777" stroke-width="0.5"/>
<line x1="267.4" y1="91.5" x2="268.4" y2="91.5" stroke="#777" stroke-width="0.5"/>
<line x1="267.4" y1="88.5" x2="268.4" y2="88.5" stroke="#777" stroke-width="0.5"/>
<line x1="267.4" y1="86.5" x2="268.4" y2="86.5" stroke="#777" stroke-width="0.5"/>
<line x1="266.4" y1="85.5" x2="268.4" y2="85.5" stroke="#444" stroke-width="0.6"/>
<text x="259.5" y="87.27" font-size="4.2" text-anchor="middle" font-weight="bold" fill="#1a1a1a" stroke="#1a1a1a" stroke-width="0.22">10</text>
<text x="262.1" y="83.91" font-size="3.57" font-weight="bold" fill="#1a1a1a" stroke="#1a1a1a" stroke-width="0.15">4</text>
<line x1="267.4" y1="80.5" x2="268.4" y2="80.5" stroke="#777" stroke-width="0.5"/>
<line x1="267.4" y1="76.5" x2="268.4" y2="76.5" stroke="#777" stroke-width="0.5"/>
<line x1="267.4" y1="73.5" x2="268.4" y2="73.5" stroke="#777" stroke-width="0.5"/>
<line x1="267.4" y1="72.5" x2="268.4" y2="72.5" stroke="#777" stroke-width="0.5"/>
<line x1="266.4" y1="70.5" x2="268.4" y2="70.5" stroke="#444" stroke-width="0.6"/>
<text x="259.5" y="72.67" font-size="4.2" text-anchor="middle" font-weight="bold" fill="#1a1a1a" stroke="#1a1a1a" stroke-width="0.22">10</text>
<text x="262.1" y="69.31" font-size="3.57" font-weight="bold" fill="#1a1a1a" stroke="#1a1a1a" stroke-width="0.15">5</text>
<line x1="267.4" y1="66.5" x2="268.4" y2="66.5" stroke="#777" stroke-width="0.5"/>
<line x1="267.4" y1="62.5" x2="268.4" y2="62.5" stroke="#777" stroke-width="0.5"/>
<line x1="267.4" y1="59.5" x2="268.4" y2="59.5" stroke="#777" stroke-width="0.5"/>
<line x1="267.4" y1="57.5" x2="268.4" y2="57.5" stroke="#777" stroke-width="0.5"/>
<line x1="266.4" y1="56.5" x2="268.4" y2="56.5" stroke="#444" stroke-width="0.6"/>
<text x="259.5" y="58.27" font-size="4.2" text-anchor="middle" font-weight="bold" fill="#1a1a1a" stroke="#1a1a1a" stroke-width="0.22">10</text>
<text x="262.1" y="54.91" font-size="3.57" font-weight="bold" fill="#1a1a1a" stroke="#1a1a1a" stroke-width="0.15">6</text>
<line x1="267.4" y1="53.5" x2="268.4" y2="53.5" stroke="#777" stroke-width="0.5"/>
<line x1="267.4" y1="50.5" x2="268.4" y2="50.5" stroke="#777" stroke-width="0.5"/>
<line x1="267.4" y1="48.5" x2="268.4" y2="48.5" stroke="#777" stroke-width="0.5"/>
<line x1="267.4" y1="47.5" x2="268.4" y2="47.5" stroke="#777" stroke-width="0.5"/>
<line x1="266.4" y1="46.5" x2="268.4" y2="46.5" stroke="#444" stroke-width="0.6"/>
<text x="259.5" y="48.47" font-size="4.2" text-anchor="middle" font-weight="bold" fill="#1a1a1a" stroke="#1a1a1a" stroke-width="0.22">10</text>
<text x="262.1" y="45.11" font-size="3.57" font-weight="bold" fill="#1a1a1a" stroke="#1a1a1a" stroke-width="0.15">7</text>
<text x="272.9" y="138.87" font-size="4.2" text-anchor="middle" font-weight="bold" fill="#1a1a1a" stroke="#1a1a1a" stroke-width="0.22">10</text>
<text x="275.5" y="135.51" font-size="3.57" font-weight="bold" fill="#1a1a1a" stroke="#1a1a1a" stroke-width="0.15">1</text>
<text x="285.9" y="138.87" font-size="4.2" text-anchor="middle" font-weight="bold" fill="#1a1a1a" stroke="#1a1a1a" stroke-width="0.22">10</text>
<text x="288.5" y="135.51" font-size="3.57" font-weight="bold" fill="#1a1a1a" stroke="#1a1a1a" stroke-width="0.15">2</text>
<text x="299.6" y="138.87" font-size="4.2" text-anchor="middle" font-weight="bold" fill="#1a1a1a" stroke="#1a1a1a" stroke-width="0.22">10</text>
<text x="302.2" y="135.51" font-size="3.57" font-weight="bold" fill="#1a1a1a" stroke="#1a1a1a" stroke-width="0.15">3</text>
<text x="314.6" y="138.87" font-size="4.2" text-anchor="middle" font-weight="bold" fill="#1a1a1a" stroke="#1a1a1a" stroke-width="0.22">10</text>
<text x="317.2" y="135.51" font-size="3.57" font-weight="bold" fill="#1a1a1a" stroke="#1a1a1a" stroke-width="0.15">4</text>
<text x="329.4" y="138.87" font-size="4.2" text-anchor="middle" font-weight="bold" fill="#1a1a1a" stroke="#1a1a1a" stroke-width="0.22">10</text>
<text x="332" y="135.51" font-size="3.57" font-weight="bold" fill="#1a1a1a" stroke="#1a1a1a" stroke-width="0.15">5</text>
<text x="344" y="138.87" font-size="4.2" text-anchor="middle" font-weight="bold" fill="#1a1a1a" stroke="#1a1a1a" stroke-width="0.22">10</text>
<text x="346.6" y="135.51" font-size="3.57" font-weight="bold" fill="#1a1a1a" stroke="#1a1a1a" stroke-width="0.15">6</text>
<text x="351.8" y="138.87" font-size="4.2" text-anchor="middle" font-weight="bold" fill="#1a1a1a" stroke="#1a1a1a" stroke-width="0.22">10</text>
<text x="354.4" y="135.51" font-size="3.57" font-weight="bold" fill="#1a1a1a" stroke="#1a1a1a" stroke-width="0.15">7</text>
<line x1="269.5" y1="129.5" x2="269.5" y2="131.5" stroke="#444" stroke-width="0.6"/>
<line x1="273.5" y1="129.5" x2="273.5" y2="130.5" stroke="#777" stroke-width="0.5"/>
<line x1="277.5" y1="129.5" x2="277.5" y2="130.5" stroke="#777" stroke-width="0.5"/>
<line x1="279.5" y1="129.5" x2="279.5" y2="130.5" stroke="#777" stroke-width="0.5"/>
<line x1="281.5" y1="129.5" x2="281.5" y2="130.5" stroke="#777" stroke-width="0.5"/>
<line x1="282.5" y1="129.5" x2="282.5" y2="131.5" stroke="#444" stroke-width="0.6"/>
<line x1="287.5" y1="129.5" x2="287.5" y2="130.5" stroke="#777" stroke-width="0.5"/>
<line x1="291.5" y1="129.5" x2="291.5" y2="130.5" stroke="#777" stroke-width="0.5"/>
<line x1="293.5" y1="129.5" x2="293.5" y2="130.5" stroke="#777" stroke-width="0.5"/>
<line x1="295.5" y1="129.5" x2="295.5" y2="130.5" stroke="#777" stroke-width="0.5"/>
<line x1="297.5" y1="129.5" x2="297.5" y2="131.5" stroke="#444" stroke-width="0.6"/>
<line x1="301.5" y1="129.5" x2="301.5" y2="130.5" stroke="#777" stroke-width="0.5"/>
<line x1="305.5" y1="129.5" x2="305.5" y2="130.5" stroke="#777" stroke-width="0.5"/>
<line x1="308.5" y1="129.5" x2="308.5" y2="130.5" stroke="#777" stroke-width="0.5"/>
<line x1="310.5" y1="129.5" x2="310.5" y2="130.5" stroke="#777" stroke-width="0.5"/>
<line x1="311.5" y1="129.5" x2="311.5" y2="131.5" stroke="#444" stroke-width="0.6"/>
<line x1="315.5" y1="129.5" x2="315.5" y2="130.5" stroke="#777" stroke-width="0.5"/>
<line x1="320.5" y1="129.5" x2="320.5" y2="130.5" stroke="#777" stroke-width="0.5"/>
<line x1="322.5" y1="129.5" x2="322.5" y2="130.5" stroke="#777" stroke-width="0.5"/>
<line x1="324.5" y1="129.5" x2="324.5" y2="130.5" stroke="#777" stroke-width="0.5"/>
<line x1="325.5" y1="129.5" x2="325.5" y2="131.5" stroke="#444" stroke-width="0.6"/>
<line x1="329.5" y1="129.5" x2="329.5" y2="130.5" stroke="#777" stroke-width="0.5"/>
<line x1="334.5" y1="129.5" x2="334.5" y2="130.5" stroke="#777" stroke-width="0.5"/>
<line x1="336.5" y1="129.5" x2="336.5" y2="130.5" stroke="#777" stroke-width="0.5"/>
<line x1="338.5" y1="129.5" x2="338.5" y2="130.5" stroke="#777" stroke-width="0.5"/>
<line x1="339.5" y1="129.5" x2="339.5" y2="131.5" stroke="#444" stroke-width="0.6"/>
<line x1="344.5" y1="129.5" x2="344.5" y2="130.5" stroke="#777" stroke-width="0.5"/>
<line x1="349.5" y1="129.5" x2="349.5" y2="130.5" stroke="#777" stroke-width="0.5"/>
<line x1="352.5" y1="129.5" x2="352.5" y2="130.5" stroke="#777" stroke-width="0.5"/>
<line x1="354.5" y1="129.5" x2="354.5" y2="130.5" stroke="#777" stroke-width="0.5"/>
<line x1="355.5" y1="129.5" x2="355.5" y2="131.5" stroke="#444" stroke-width="0.6"/>
<g filter="url(#bl1)" clip-path="url(#cA2)">
<ellipse cx="331.7" cy="120.5" rx="1.3" ry="1.3" fill="#0000ff"/>
<ellipse cx="343.4" cy="85.9" rx="2.2" ry="2.2" fill="#0000ff"/>
<ellipse cx="334.2" cy="129.2" rx="5.4" ry="3.3" fill="#0000ff"/>
<ellipse cx="334.2" cy="129.7" rx="2.97" ry="1.81" fill="#2a8cff"/>
<path d="M333.9 87.5 C335.72 87.35 339.38 89.05 341 88.5 C342.62 87.95 342.85 84.53 343.6 84.2 C344.35 83.87 345.32 85.42 345.5 86.5 C345.68 87.58 344.95 89.15 344.7 90.7 C344.45 92.25 344.75 94.53 344 95.8 C343.25 97.07 341.03 96.82 340.2 98.3 C339.37 99.78 339.53 102.8 339 104.7 C338.47 106.6 337.43 107.9 337 109.7 C336.57 111.5 337.03 114.12 336.4 115.5 C335.77 116.88 334.15 118.32 333.2 118 C332.25 117.68 331.43 115.5 330.7 113.6 C329.97 111.7 329.87 108.93 328.8 106.6 C327.73 104.27 324.52 101.62 324.3 99.6 C324.08 97.58 326.53 96.2 327.5 94.5 C328.47 92.8 329.03 90.57 330.1 89.4 C331.17 88.23 332.08 87.65 333.9 87.5Z" fill="#0000ff"/>
<path d="M333.8 89.22 C335.36 89.09 338.52 90.55 339.91 90.08 C341.3 89.61 341.5 86.67 342.14 86.38 C342.79 86.1 343.62 87.43 343.78 88.36 C343.94 89.29 343.3 90.64 343.09 91.97 C342.88 93.31 343.13 95.27 342.49 96.36 C341.84 97.45 339.94 97.23 339.22 98.51 C338.5 99.79 338.65 102.38 338.19 104.01 C337.73 105.65 336.84 106.77 336.47 108.31 C336.1 109.86 336.5 112.11 335.95 113.3 C335.41 114.49 334.02 115.72 333.2 115.45 C332.38 115.18 331.68 113.3 331.05 111.67 C330.42 110.03 330.33 107.65 329.42 105.65 C328.5 103.64 325.73 101.36 325.55 99.63 C325.36 97.89 327.47 96.7 328.3 95.24 C329.13 93.78 329.62 91.86 330.53 90.86 C331.45 89.85 332.24 89.35 333.8 89.22Z" fill="#0a40ff"/>
<path d="M333.71 90.82 C335.04 90.71 337.71 91.95 338.89 91.55 C340.07 91.15 340.24 88.66 340.79 88.41 C341.34 88.17 342.05 89.3 342.18 90.09 C342.31 90.88 341.78 92.03 341.59 93.16 C341.41 94.29 341.63 95.96 341.08 96.88 C340.54 97.8 338.92 97.62 338.31 98.7 C337.7 99.79 337.82 101.99 337.43 103.38 C337.04 104.76 336.29 105.71 335.97 107.03 C335.66 108.34 336 110.25 335.54 111.26 C335.07 112.27 333.89 113.32 333.2 113.09 C332.51 112.85 331.91 111.26 331.38 109.87 C330.84 108.49 330.77 106.47 329.99 104.76 C329.21 103.06 326.86 101.13 326.7 99.65 C326.54 98.18 328.33 97.17 329.04 95.93 C329.74 94.69 330.16 93.06 330.94 92.21 C331.72 91.36 332.38 90.93 333.71 90.82Z" fill="#2088ff"/>
<path d="M333.63 92.3 C334.74 92.21 336.97 93.24 337.96 92.91 C338.94 92.57 339.09 90.49 339.54 90.28 C340 90.08 340.59 91.03 340.7 91.69 C340.81 92.35 340.37 93.3 340.21 94.25 C340.06 95.19 340.25 96.59 339.79 97.36 C339.33 98.13 337.98 97.98 337.47 98.88 C336.96 99.79 337.06 101.63 336.74 102.79 C336.41 103.95 335.78 104.74 335.52 105.84 C335.25 106.94 335.54 108.53 335.15 109.38 C334.77 110.22 333.78 111.1 333.2 110.9 C332.62 110.71 332.12 109.38 331.68 108.22 C331.23 107.06 331.17 105.37 330.52 103.95 C329.87 102.52 327.9 100.91 327.77 99.68 C327.64 98.45 329.13 97.6 329.72 96.57 C330.31 95.53 330.66 94.17 331.31 93.46 C331.96 92.74 332.52 92.39 333.63 92.3Z" fill="#40c4ff"/>
<path d="M333.55 93.65 C334.46 93.58 336.29 94.43 337.1 94.15 C337.91 93.88 338.02 92.17 338.4 92 C338.77 91.83 339.26 92.61 339.35 93.15 C339.44 93.69 339.07 94.47 338.95 95.25 C338.82 96.03 338.98 97.17 338.6 97.8 C338.23 98.43 337.12 98.31 336.7 99.05 C336.28 99.79 336.37 101.3 336.1 102.25 C335.83 103.2 335.32 103.85 335.1 104.75 C334.88 105.65 335.12 106.96 334.8 107.65 C334.48 108.34 333.67 109.06 333.2 108.9 C332.73 108.74 332.32 107.65 331.95 106.7 C331.58 105.75 331.53 104.37 331 103.2 C330.47 102.03 328.86 100.71 328.75 99.7 C328.64 98.69 329.87 98 330.35 97.15 C330.83 96.3 331.12 95.18 331.65 94.6 C332.18 94.02 332.64 93.73 333.55 93.65Z" fill="#64ecff"/>
<ellipse cx="333.2" cy="99.8" rx="5.48" ry="7.92" fill="#74f4ff"/>
<ellipse cx="333.2" cy="99.8" rx="4.15" ry="6" fill="#28ff3c"/>
<ellipse cx="333.2" cy="99.8" rx="3.32" ry="4.8" fill="#a4ff10"/>
<ellipse cx="333.2" cy="99.8" rx="2.49" ry="3.6" fill="#ffff00"/>
<ellipse cx="333.2" cy="99.8" rx="1.74" ry="2.52" fill="#ffa400"/>
<ellipse cx="333.2" cy="99.8" rx="1.12" ry="1.62" fill="#ff2800"/>
</g>
<rect x="327.5" y="68.5" width="23" height="20" fill="none" stroke="#3a3a3a" stroke-width="0.9"/>
<text x="339.55" y="66.3" font-size="8.5" text-anchor="middle" fill="#333" stroke="#333" stroke-width="0.22" letter-spacing="0.2">1.53</text>
<rect x="383.5" y="41.5" width="88" height="88" fill="none" stroke="#8a8a8a" stroke-width="0.9"/>
<line x1="383.5" y1="41.1" x2="383.5" y2="129.9" stroke="#333" stroke-width="1"/>
<line x1="383.2" y1="129.5" x2="471.1" y2="129.5" stroke="#333" stroke-width="1"/>
<line x1="381.6" y1="127.5" x2="383.6" y2="127.5" stroke="#444" stroke-width="0.6"/>
<text x="374.7" y="129.67" font-size="4.2" text-anchor="middle" font-weight="bold" fill="#1a1a1a" stroke="#1a1a1a" stroke-width="0.22">10</text>
<text x="377.3" y="126.31" font-size="3.57" font-weight="bold" fill="#1a1a1a" stroke="#1a1a1a" stroke-width="0.15">1</text>
<line x1="382.6" y1="123.5" x2="383.6" y2="123.5" stroke="#777" stroke-width="0.5"/>
<line x1="382.6" y1="119.5" x2="383.6" y2="119.5" stroke="#777" stroke-width="0.5"/>
<line x1="382.6" y1="117.5" x2="383.6" y2="117.5" stroke="#777" stroke-width="0.5"/>
<line x1="382.6" y1="115.5" x2="383.6" y2="115.5" stroke="#777" stroke-width="0.5"/>
<line x1="381.6" y1="114.5" x2="383.6" y2="114.5" stroke="#444" stroke-width="0.6"/>
<text x="374.7" y="116.07" font-size="4.2" text-anchor="middle" font-weight="bold" fill="#1a1a1a" stroke="#1a1a1a" stroke-width="0.22">10</text>
<text x="377.3" y="112.71" font-size="3.57" font-weight="bold" fill="#1a1a1a" stroke="#1a1a1a" stroke-width="0.15">2</text>
<line x1="382.6" y1="109.5" x2="383.6" y2="109.5" stroke="#777" stroke-width="0.5"/>
<line x1="382.6" y1="105.5" x2="383.6" y2="105.5" stroke="#777" stroke-width="0.5"/>
<line x1="382.6" y1="102.5" x2="383.6" y2="102.5" stroke="#777" stroke-width="0.5"/>
<line x1="382.6" y1="101.5" x2="383.6" y2="101.5" stroke="#777" stroke-width="0.5"/>
<line x1="381.6" y1="99.5" x2="383.6" y2="99.5" stroke="#444" stroke-width="0.6"/>
<text x="374.7" y="101.67" font-size="4.2" text-anchor="middle" font-weight="bold" fill="#1a1a1a" stroke="#1a1a1a" stroke-width="0.22">10</text>
<text x="377.3" y="98.31" font-size="3.57" font-weight="bold" fill="#1a1a1a" stroke="#1a1a1a" stroke-width="0.15">3</text>
<line x1="382.6" y1="95.5" x2="383.6" y2="95.5" stroke="#777" stroke-width="0.5"/>
<line x1="382.6" y1="91.5" x2="383.6" y2="91.5" stroke="#777" stroke-width="0.5"/>
<line x1="382.6" y1="88.5" x2="383.6" y2="88.5" stroke="#777" stroke-width="0.5"/>
<line x1="382.6" y1="86.5" x2="383.6" y2="86.5" stroke="#777" stroke-width="0.5"/>
<line x1="381.6" y1="85.5" x2="383.6" y2="85.5" stroke="#444" stroke-width="0.6"/>
<text x="374.7" y="87.27" font-size="4.2" text-anchor="middle" font-weight="bold" fill="#1a1a1a" stroke="#1a1a1a" stroke-width="0.22">10</text>
<text x="377.3" y="83.91" font-size="3.57" font-weight="bold" fill="#1a1a1a" stroke="#1a1a1a" stroke-width="0.15">4</text>
<line x1="382.6" y1="80.5" x2="383.6" y2="80.5" stroke="#777" stroke-width="0.5"/>
<line x1="382.6" y1="76.5" x2="383.6" y2="76.5" stroke="#777" stroke-width="0.5"/>
<line x1="382.6" y1="73.5" x2="383.6" y2="73.5" stroke="#777" stroke-width="0.5"/>
<line x1="382.6" y1="72.5" x2="383.6" y2="72.5" stroke="#777" stroke-width="0.5"/>
<line x1="381.6" y1="70.5" x2="383.6" y2="70.5" stroke="#444" stroke-width="0.6"/>
<text x="374.7" y="72.67" font-size="4.2" text-anchor="middle" font-weight="bold" fill="#1a1a1a" stroke="#1a1a1a" stroke-width="0.22">10</text>
<text x="377.3" y="69.31" font-size="3.57" font-weight="bold" fill="#1a1a1a" stroke="#1a1a1a" stroke-width="0.15">5</text>
<line x1="382.6" y1="66.5" x2="383.6" y2="66.5" stroke="#777" stroke-width="0.5"/>
<line x1="382.6" y1="62.5" x2="383.6" y2="62.5" stroke="#777" stroke-width="0.5"/>
<line x1="382.6" y1="59.5" x2="383.6" y2="59.5" stroke="#777" stroke-width="0.5"/>
<line x1="382.6" y1="57.5" x2="383.6" y2="57.5" stroke="#777" stroke-width="0.5"/>
<line x1="381.6" y1="56.5" x2="383.6" y2="56.5" stroke="#444" stroke-width="0.6"/>
<text x="374.7" y="58.27" font-size="4.2" text-anchor="middle" font-weight="bold" fill="#1a1a1a" stroke="#1a1a1a" stroke-width="0.22">10</text>
<text x="377.3" y="54.91" font-size="3.57" font-weight="bold" fill="#1a1a1a" stroke="#1a1a1a" stroke-width="0.15">6</text>
<line x1="382.6" y1="53.5" x2="383.6" y2="53.5" stroke="#777" stroke-width="0.5"/>
<line x1="382.6" y1="50.5" x2="383.6" y2="50.5" stroke="#777" stroke-width="0.5"/>
<line x1="382.6" y1="48.5" x2="383.6" y2="48.5" stroke="#777" stroke-width="0.5"/>
<line x1="382.6" y1="47.5" x2="383.6" y2="47.5" stroke="#777" stroke-width="0.5"/>
<line x1="381.6" y1="46.5" x2="383.6" y2="46.5" stroke="#444" stroke-width="0.6"/>
<text x="374.7" y="48.47" font-size="4.2" text-anchor="middle" font-weight="bold" fill="#1a1a1a" stroke="#1a1a1a" stroke-width="0.22">10</text>
<text x="377.3" y="45.11" font-size="3.57" font-weight="bold" fill="#1a1a1a" stroke="#1a1a1a" stroke-width="0.15">7</text>
<text x="388.1" y="138.87" font-size="4.2" text-anchor="middle" font-weight="bold" fill="#1a1a1a" stroke="#1a1a1a" stroke-width="0.22">10</text>
<text x="390.7" y="135.51" font-size="3.57" font-weight="bold" fill="#1a1a1a" stroke="#1a1a1a" stroke-width="0.15">1</text>
<text x="401.1" y="138.87" font-size="4.2" text-anchor="middle" font-weight="bold" fill="#1a1a1a" stroke="#1a1a1a" stroke-width="0.22">10</text>
<text x="403.7" y="135.51" font-size="3.57" font-weight="bold" fill="#1a1a1a" stroke="#1a1a1a" stroke-width="0.15">2</text>
<text x="414.8" y="138.87" font-size="4.2" text-anchor="middle" font-weight="bold" fill="#1a1a1a" stroke="#1a1a1a" stroke-width="0.22">10</text>
<text x="417.4" y="135.51" font-size="3.57" font-weight="bold" fill="#1a1a1a" stroke="#1a1a1a" stroke-width="0.15">3</text>
<text x="429.8" y="138.87" font-size="4.2" text-anchor="middle" font-weight="bold" fill="#1a1a1a" stroke="#1a1a1a" stroke-width="0.22">10</text>
<text x="432.4" y="135.51" font-size="3.57" font-weight="bold" fill="#1a1a1a" stroke="#1a1a1a" stroke-width="0.15">4</text>
<text x="444.6" y="138.87" font-size="4.2" text-anchor="middle" font-weight="bold" fill="#1a1a1a" stroke="#1a1a1a" stroke-width="0.22">10</text>
<text x="447.2" y="135.51" font-size="3.57" font-weight="bold" fill="#1a1a1a" stroke="#1a1a1a" stroke-width="0.15">5</text>
<text x="459.2" y="138.87" font-size="4.2" text-anchor="middle" font-weight="bold" fill="#1a1a1a" stroke="#1a1a1a" stroke-width="0.22">10</text>
<text x="461.8" y="135.51" font-size="3.57" font-weight="bold" fill="#1a1a1a" stroke="#1a1a1a" stroke-width="0.15">6</text>
<text x="467" y="138.87" font-size="4.2" text-anchor="middle" font-weight="bold" fill="#1a1a1a" stroke="#1a1a1a" stroke-width="0.22">10</text>
<text x="469.6" y="135.51" font-size="3.57" font-weight="bold" fill="#1a1a1a" stroke="#1a1a1a" stroke-width="0.15">7</text>
<line x1="384.5" y1="129.5" x2="384.5" y2="131.5" stroke="#444" stroke-width="0.6"/>
<line x1="388.5" y1="129.5" x2="388.5" y2="130.5" stroke="#777" stroke-width="0.5"/>
<line x1="392.5" y1="129.5" x2="392.5" y2="130.5" stroke="#777" stroke-width="0.5"/>
<line x1="394.5" y1="129.5" x2="394.5" y2="130.5" stroke="#777" stroke-width="0.5"/>
<line x1="396.5" y1="129.5" x2="396.5" y2="130.5" stroke="#777" stroke-width="0.5"/>
<line x1="397.5" y1="129.5" x2="397.5" y2="131.5" stroke="#444" stroke-width="0.6"/>
<line x1="402.5" y1="129.5" x2="402.5" y2="130.5" stroke="#777" stroke-width="0.5"/>
<line x1="406.5" y1="129.5" x2="406.5" y2="130.5" stroke="#777" stroke-width="0.5"/>
<line x1="409.5" y1="129.5" x2="409.5" y2="130.5" stroke="#777" stroke-width="0.5"/>
<line x1="410.5" y1="129.5" x2="410.5" y2="130.5" stroke="#777" stroke-width="0.5"/>
<line x1="412.5" y1="129.5" x2="412.5" y2="131.5" stroke="#444" stroke-width="0.6"/>
<line x1="416.5" y1="129.5" x2="416.5" y2="130.5" stroke="#777" stroke-width="0.5"/>
<line x1="420.5" y1="129.5" x2="420.5" y2="130.5" stroke="#777" stroke-width="0.5"/>
<line x1="423.5" y1="129.5" x2="423.5" y2="130.5" stroke="#777" stroke-width="0.5"/>
<line x1="425.5" y1="129.5" x2="425.5" y2="130.5" stroke="#777" stroke-width="0.5"/>
<line x1="426.5" y1="129.5" x2="426.5" y2="131.5" stroke="#444" stroke-width="0.6"/>
<line x1="430.5" y1="129.5" x2="430.5" y2="130.5" stroke="#777" stroke-width="0.5"/>
<line x1="435.5" y1="129.5" x2="435.5" y2="130.5" stroke="#777" stroke-width="0.5"/>
<line x1="437.5" y1="129.5" x2="437.5" y2="130.5" stroke="#777" stroke-width="0.5"/>
<line x1="439.5" y1="129.5" x2="439.5" y2="130.5" stroke="#777" stroke-width="0.5"/>
<line x1="441.5" y1="129.5" x2="441.5" y2="131.5" stroke="#444" stroke-width="0.6"/>
<line x1="445.5" y1="129.5" x2="445.5" y2="130.5" stroke="#777" stroke-width="0.5"/>
<line x1="449.5" y1="129.5" x2="449.5" y2="130.5" stroke="#777" stroke-width="0.5"/>
<line x1="451.5" y1="129.5" x2="451.5" y2="130.5" stroke="#777" stroke-width="0.5"/>
<line x1="453.5" y1="129.5" x2="453.5" y2="130.5" stroke="#777" stroke-width="0.5"/>
<line x1="454.5" y1="129.5" x2="454.5" y2="131.5" stroke="#444" stroke-width="0.6"/>
<line x1="459.5" y1="129.5" x2="459.5" y2="130.5" stroke="#777" stroke-width="0.5"/>
<line x1="464.5" y1="129.5" x2="464.5" y2="130.5" stroke="#777" stroke-width="0.5"/>
<line x1="467.5" y1="129.5" x2="467.5" y2="130.5" stroke="#777" stroke-width="0.5"/>
<line x1="469.5" y1="129.5" x2="469.5" y2="130.5" stroke="#777" stroke-width="0.5"/>
<line x1="471.5" y1="129.5" x2="471.5" y2="131.5" stroke="#444" stroke-width="0.6"/>
<g filter="url(#bl1)" clip-path="url(#cA3)">
<ellipse cx="449.1" cy="129.2" rx="4.1" ry="3.6" fill="#0000ff"/>
<ellipse cx="449.1" cy="129.7" rx="2.25" ry="1.98" fill="#2a8cff"/>
<path d="M453.6 83.1 C454.77 83.27 456.55 83.73 457.4 85 C458.25 86.27 458.55 88.9 458.7 90.7 C458.85 92.5 458.83 94.42 458.3 95.8 C457.77 97.18 456.18 97.52 455.5 99 C454.82 100.48 454.95 102.92 454.2 104.7 C453.45 106.48 452 108.38 451 109.7 C450 111.02 449.15 112.6 448.2 112.6 C447.25 112.6 446.3 111.02 445.3 109.7 C444.3 108.38 443.03 106.82 442.2 104.7 C441.37 102.58 440.73 98.6 440.3 97 C439.87 95.4 439.28 95.83 439.6 95.1 C439.92 94.37 441.77 93.65 442.2 92.6 C442.63 91.55 441.25 89.85 442.2 88.8 C443.15 87.75 446.53 87.1 447.9 86.3 C449.27 85.5 449.45 84.53 450.4 84 C451.35 83.47 452.43 82.93 453.6 83.1Z" fill="#0000ff"/>
<path d="M452.84 85.34 C453.85 85.48 455.38 85.88 456.11 86.97 C456.84 88.06 457.1 90.33 457.23 91.88 C457.36 93.42 457.34 95.07 456.89 96.26 C456.43 97.45 455.07 97.74 454.48 99.01 C453.89 100.29 454 102.38 453.36 103.92 C452.72 105.45 451.47 107.08 450.61 108.22 C449.75 109.35 449.02 110.71 448.2 110.71 C447.38 110.71 446.57 109.35 445.71 108.22 C444.85 107.08 443.76 105.74 443.04 103.92 C442.32 102.1 441.78 98.67 441.41 97.29 C441.03 95.92 440.53 96.29 440.8 95.66 C441.08 95.03 442.67 94.41 443.04 93.51 C443.41 92.61 442.22 91.14 443.04 90.24 C443.86 89.34 446.77 88.78 447.94 88.09 C449.12 87.4 449.27 86.57 450.09 86.11 C450.91 85.66 451.84 85.2 452.84 85.34Z" fill="#0a40ff"/>
<path d="M452.14 87.42 C452.99 87.54 454.3 87.88 454.92 88.81 C455.54 89.73 455.76 91.65 455.87 92.97 C455.97 94.28 455.96 95.68 455.57 96.69 C455.18 97.7 454.03 97.94 453.53 99.03 C453.03 100.11 453.13 101.89 452.58 103.19 C452.03 104.49 450.97 105.88 450.24 106.84 C449.51 107.8 448.89 108.95 448.2 108.95 C447.51 108.95 446.81 107.8 446.08 106.84 C445.35 105.88 444.43 104.73 443.82 103.19 C443.21 101.64 442.75 98.73 442.43 97.57 C442.12 96.4 441.69 96.72 441.92 96.18 C442.15 95.64 443.5 95.12 443.82 94.35 C444.14 93.59 443.13 92.35 443.82 91.58 C444.51 90.81 446.98 90.34 447.98 89.76 C448.98 89.17 449.11 88.47 449.81 88.08 C450.5 87.69 451.29 87.3 452.14 87.42Z" fill="#2088ff"/>
<path d="M451.49 89.34 C452.21 89.44 453.29 89.73 453.81 90.5 C454.33 91.27 454.51 92.88 454.6 93.98 C454.7 95.07 454.69 96.24 454.36 97.09 C454.04 97.93 453.07 98.13 452.65 99.04 C452.24 99.94 452.32 101.43 451.86 102.52 C451.4 103.6 450.52 104.76 449.91 105.57 C449.3 106.37 448.78 107.33 448.2 107.33 C447.62 107.33 447.04 106.37 446.43 105.57 C445.82 104.76 445.05 103.81 444.54 102.52 C444.03 101.22 443.65 98.8 443.38 97.82 C443.12 96.84 442.76 97.11 442.95 96.66 C443.15 96.21 444.28 95.78 444.54 95.13 C444.8 94.49 443.96 93.46 444.54 92.82 C445.12 92.18 447.18 91.78 448.02 91.29 C448.85 90.8 448.96 90.21 449.54 89.89 C450.12 89.56 450.78 89.24 451.49 89.34Z" fill="#40c4ff"/>
<path d="M450.9 91.1 C451.48 91.18 452.37 91.42 452.8 92.05 C453.22 92.68 453.38 94 453.45 94.9 C453.52 95.8 453.52 96.76 453.25 97.45 C452.98 98.14 452.19 98.31 451.85 99.05 C451.51 99.79 451.57 101.01 451.2 101.9 C450.82 102.79 450.1 103.74 449.6 104.4 C449.1 105.06 448.68 105.85 448.2 105.85 C447.72 105.85 447.25 105.06 446.75 104.4 C446.25 103.74 445.62 102.96 445.2 101.9 C444.78 100.84 444.47 98.85 444.25 98.05 C444.03 97.25 443.74 97.47 443.9 97.1 C444.06 96.73 444.98 96.38 445.2 95.85 C445.42 95.32 444.73 94.47 445.2 93.95 C445.67 93.42 447.37 93.1 448.05 92.7 C448.73 92.3 448.82 91.82 449.3 91.55 C449.77 91.28 450.32 91.02 450.9 91.1Z" fill="#64ecff"/>
<ellipse cx="448.2" cy="99.1" rx="5.21" ry="7.92" fill="#74f4ff"/>
<ellipse cx="448.2" cy="99.1" rx="3.95" ry="6" fill="#28ff3c"/>
<ellipse cx="448.2" cy="99.1" rx="3.16" ry="4.8" fill="#a4ff10"/>
<ellipse cx="448.2" cy="99.1" rx="2.37" ry="3.6" fill="#ffff00"/>
<ellipse cx="448.2" cy="99.1" rx="1.66" ry="2.52" fill="#ffa400"/>
<ellipse cx="448.2" cy="99.1" rx="1.07" ry="1.62" fill="#ff2800"/>
</g>
<rect x="442.5" y="68.5" width="24" height="20" fill="none" stroke="#3a3a3a" stroke-width="0.9"/>
<text x="454.75" y="66.3" font-size="8.5" text-anchor="middle" fill="#333" stroke="#333" stroke-width="0.22" letter-spacing="0.2">2.96</text>
<line x1="15.5" y1="27.3" x2="15.5" y2="61.2" stroke="#1a1a1a" stroke-width="1"/>
<path d="M15.9 21.3 L13.6 28.8 L18.2 28.8Z" fill="#111"/>
<text x="19.8" y="129.7" font-size="9.8" stroke="#111" stroke-width="0.22" transform="rotate(-90 19.8 129.7)">FL2 CD137-PE</text>
<text x="30.6" y="155.6" font-size="9.8" stroke="#111" stroke-width="0.22">FL4 CD8a-APC</text>
<line x1="101.7" y1="152.5" x2="465" y2="152.5" stroke="#1a1a1a" stroke-width="1"/>
<path d="M471 152.2 L463.5 149.9 L463.5 154.5Z" fill="#111"/>
<text x="0.4" y="173.9" font-size="15" font-weight="bold" fill="#000" stroke="#000" stroke-width="0.13">B</text>
<text x="18.9" y="172" font-size="11.2" stroke="#111" stroke-width="0.22">Spleen tissue/CD3+CD8+</text>
<text x="137.85" y="184.6" font-size="10.3" text-anchor="middle" stroke="#111" stroke-width="0.22" letter-spacing="0.15">UTD</text>
<text x="367.65" y="184" font-size="10.3" text-anchor="middle" stroke="#111" stroke-width="0.22" letter-spacing="0.35">Tcr-T1</text>
<line x1="38.7" y1="187.5" x2="237" y2="187.5" stroke="#111" stroke-width="1.1"/>
<line x1="268.3" y1="187.5" x2="467" y2="187.5" stroke="#111" stroke-width="1.1"/>
<text x="80.45" y="197.6" font-size="9.8" text-anchor="middle" stroke="#111" stroke-width="0.22">SYT-SSX ΔPep-4/2402</text>
<text x="198.3" y="197.6" font-size="9.8" text-anchor="middle" stroke="#111" stroke-width="0.22">SYT-SSX Pep-4/2402</text>
<text x="309.8" y="197.6" font-size="9.8" text-anchor="middle" stroke="#111" stroke-width="0.22">SYT-SSX ΔPep-4/2402</text>
<text x="425.4" y="197.6" font-size="9.8" text-anchor="middle" stroke="#111" stroke-width="0.22">SYT-SSX Pep-4/2402</text>
<rect x="38.5" y="201.5" width="87" height="87" fill="none" stroke="#8a8a8a" stroke-width="0.9"/>
<line x1="38.5" y1="201.1" x2="38.5" y2="288.9" stroke="#333" stroke-width="1"/>
<line x1="37.8" y1="288.5" x2="125.9" y2="288.5" stroke="#333" stroke-width="1"/>
<line x1="36.2" y1="287.5" x2="38.2" y2="287.5" stroke="#444" stroke-width="0.6"/>
<text x="29.3" y="289.67" font-size="4.2" text-anchor="middle" font-weight="bold" fill="#1a1a1a" stroke="#1a1a1a" stroke-width="0.22">10</text>
<text x="31.9" y="286.31" font-size="3.57" font-weight="bold" fill="#1a1a1a" stroke="#1a1a1a" stroke-width="0.15">1</text>
<line x1="37.2" y1="283.5" x2="38.2" y2="283.5" stroke="#777" stroke-width="0.5"/>
<line x1="37.2" y1="279.5" x2="38.2" y2="279.5" stroke="#777" stroke-width="0.5"/>
<line x1="37.2" y1="277.5" x2="38.2" y2="277.5" stroke="#777" stroke-width="0.5"/>
<line x1="37.2" y1="275.5" x2="38.2" y2="275.5" stroke="#777" stroke-width="0.5"/>
<line x1="36.2" y1="274.5" x2="38.2" y2="274.5" stroke="#444" stroke-width="0.6"/>
<text x="29.3" y="276.07" font-size="4.2" text-anchor="middle" font-weight="bold" fill="#1a1a1a" stroke="#1a1a1a" stroke-width="0.22">10</text>
<text x="31.9" y="272.71" font-size="3.57" font-weight="bold" fill="#1a1a1a" stroke="#1a1a1a" stroke-width="0.15">2</text>
<line x1="37.2" y1="269.5" x2="38.2" y2="269.5" stroke="#777" stroke-width="0.5"/>
<line x1="37.2" y1="265.5" x2="38.2" y2="265.5" stroke="#777" stroke-width="0.5"/>
<line x1="37.2" y1="262.5" x2="38.2" y2="262.5" stroke="#777" stroke-width="0.5"/>
<line x1="37.2" y1="261.5" x2="38.2" y2="261.5" stroke="#777" stroke-width="0.5"/>
<line x1="36.2" y1="259.5" x2="38.2" y2="259.5" stroke="#444" stroke-width="0.6"/>
<text x="29.3" y="261.67" font-size="4.2" text-anchor="middle" font-weight="bold" fill="#1a1a1a" stroke="#1a1a1a" stroke-width="0.22">10</text>
<text x="31.9" y="258.31" font-size="3.57" font-weight="bold" fill="#1a1a1a" stroke="#1a1a1a" stroke-width="0.15">3</text>
<line x1="37.2" y1="255.5" x2="38.2" y2="255.5" stroke="#777" stroke-width="0.5"/>
<line x1="37.2" y1="251.5" x2="38.2" y2="251.5" stroke="#777" stroke-width="0.5"/>
<line x1="37.2" y1="248.5" x2="38.2" y2="248.5" stroke="#777" stroke-width="0.5"/>
<line x1="37.2" y1="246.5" x2="38.2" y2="246.5" stroke="#777" stroke-width="0.5"/>
<line x1="36.2" y1="245.5" x2="38.2" y2="245.5" stroke="#444" stroke-width="0.6"/>
<text x="29.3" y="247.27" font-size="4.2" text-anchor="middle" font-weight="bold" fill="#1a1a1a" stroke="#1a1a1a" stroke-width="0.22">10</text>
<text x="31.9" y="243.91" font-size="3.57" font-weight="bold" fill="#1a1a1a" stroke="#1a1a1a" stroke-width="0.15">4</text>
<line x1="37.2" y1="240.5" x2="38.2" y2="240.5" stroke="#777" stroke-width="0.5"/>
<line x1="37.2" y1="236.5" x2="38.2" y2="236.5" stroke="#777" stroke-width="0.5"/>
<line x1="37.2" y1="233.5" x2="38.2" y2="233.5" stroke="#777" stroke-width="0.5"/>
<line x1="37.2" y1="232.5" x2="38.2" y2="232.5" stroke="#777" stroke-width="0.5"/>
<line x1="36.2" y1="230.5" x2="38.2" y2="230.5" stroke="#444" stroke-width="0.6"/>
<text x="29.3" y="232.67" font-size="4.2" text-anchor="middle" font-weight="bold" fill="#1a1a1a" stroke="#1a1a1a" stroke-width="0.22">10</text>
<text x="31.9" y="229.31" font-size="3.57" font-weight="bold" fill="#1a1a1a" stroke="#1a1a1a" stroke-width="0.15">5</text>
<line x1="37.2" y1="226.5" x2="38.2" y2="226.5" stroke="#777" stroke-width="0.5"/>
<line x1="37.2" y1="222.5" x2="38.2" y2="222.5" stroke="#777" stroke-width="0.5"/>
<line x1="37.2" y1="219.5" x2="38.2" y2="219.5" stroke="#777" stroke-width="0.5"/>
<line x1="37.2" y1="217.5" x2="38.2" y2="217.5" stroke="#777" stroke-width="0.5"/>
<line x1="36.2" y1="216.5" x2="38.2" y2="216.5" stroke="#444" stroke-width="0.6"/>
<text x="29.3" y="218.27" font-size="4.2" text-anchor="middle" font-weight="bold" fill="#1a1a1a" stroke="#1a1a1a" stroke-width="0.22">10</text>
<text x="31.9" y="214.91" font-size="3.57" font-weight="bold" fill="#1a1a1a" stroke="#1a1a1a" stroke-width="0.15">6</text>
<line x1="37.2" y1="213.5" x2="38.2" y2="213.5" stroke="#777" stroke-width="0.5"/>
<line x1="37.2" y1="210.5" x2="38.2" y2="210.5" stroke="#777" stroke-width="0.5"/>
<line x1="37.2" y1="208.5" x2="38.2" y2="208.5" stroke="#777" stroke-width="0.5"/>
<line x1="37.2" y1="207.5" x2="38.2" y2="207.5" stroke="#777" stroke-width="0.5"/>
<line x1="36.2" y1="206.5" x2="38.2" y2="206.5" stroke="#444" stroke-width="0.6"/>
<text x="29.3" y="208.47" font-size="4.2" text-anchor="middle" font-weight="bold" fill="#1a1a1a" stroke="#1a1a1a" stroke-width="0.22">10</text>
<text x="31.9" y="205.11" font-size="3.57" font-weight="bold" fill="#1a1a1a" stroke="#1a1a1a" stroke-width="0.15">7</text>
<text x="42.7" y="297.87" font-size="4.2" text-anchor="middle" font-weight="bold" fill="#1a1a1a" stroke="#1a1a1a" stroke-width="0.22">10</text>
<text x="45.3" y="294.51" font-size="3.57" font-weight="bold" fill="#1a1a1a" stroke="#1a1a1a" stroke-width="0.15">1</text>
<text x="55.7" y="297.87" font-size="4.2" text-anchor="middle" font-weight="bold" fill="#1a1a1a" stroke="#1a1a1a" stroke-width="0.22">10</text>
<text x="58.3" y="294.51" font-size="3.57" font-weight="bold" fill="#1a1a1a" stroke="#1a1a1a" stroke-width="0.15">2</text>
<text x="69.4" y="297.87" font-size="4.2" text-anchor="middle" font-weight="bold" fill="#1a1a1a" stroke="#1a1a1a" stroke-width="0.22">10</text>
<text x="72" y="294.51" font-size="3.57" font-weight="bold" fill="#1a1a1a" stroke="#1a1a1a" stroke-width="0.15">3</text>
<text x="84.4" y="297.87" font-size="4.2" text-anchor="middle" font-weight="bold" fill="#1a1a1a" stroke="#1a1a1a" stroke-width="0.22">10</text>
<text x="87" y="294.51" font-size="3.57" font-weight="bold" fill="#1a1a1a" stroke="#1a1a1a" stroke-width="0.15">4</text>
<text x="99.2" y="297.87" font-size="4.2" text-anchor="middle" font-weight="bold" fill="#1a1a1a" stroke="#1a1a1a" stroke-width="0.22">10</text>
<text x="101.8" y="294.51" font-size="3.57" font-weight="bold" fill="#1a1a1a" stroke="#1a1a1a" stroke-width="0.15">5</text>
<text x="113.8" y="297.87" font-size="4.2" text-anchor="middle" font-weight="bold" fill="#1a1a1a" stroke="#1a1a1a" stroke-width="0.22">10</text>
<text x="116.4" y="294.51" font-size="3.57" font-weight="bold" fill="#1a1a1a" stroke="#1a1a1a" stroke-width="0.15">6</text>
<text x="121.6" y="297.87" font-size="4.2" text-anchor="middle" font-weight="bold" fill="#1a1a1a" stroke="#1a1a1a" stroke-width="0.22">10</text>
<text x="124.2" y="294.51" font-size="3.57" font-weight="bold" fill="#1a1a1a" stroke="#1a1a1a" stroke-width="0.15">7</text>
<line x1="38.5" y1="288.5" x2="38.5" y2="290.5" stroke="#444" stroke-width="0.6"/>
<line x1="42.5" y1="288.5" x2="42.5" y2="289.5" stroke="#777" stroke-width="0.5"/>
<line x1="47.5" y1="288.5" x2="47.5" y2="289.5" stroke="#777" stroke-width="0.5"/>
<line x1="49.5" y1="288.5" x2="49.5" y2="289.5" stroke="#777" stroke-width="0.5"/>
<line x1="51.5" y1="288.5" x2="51.5" y2="289.5" stroke="#777" stroke-width="0.5"/>
<line x1="52.5" y1="288.5" x2="52.5" y2="290.5" stroke="#444" stroke-width="0.6"/>
<line x1="56.5" y1="288.5" x2="56.5" y2="289.5" stroke="#777" stroke-width="0.5"/>
<line x1="61.5" y1="288.5" x2="61.5" y2="289.5" stroke="#777" stroke-width="0.5"/>
<line x1="63.5" y1="288.5" x2="63.5" y2="289.5" stroke="#777" stroke-width="0.5"/>
<line x1="65.5" y1="288.5" x2="65.5" y2="289.5" stroke="#777" stroke-width="0.5"/>
<line x1="66.5" y1="288.5" x2="66.5" y2="290.5" stroke="#444" stroke-width="0.6"/>
<line x1="71.5" y1="288.5" x2="71.5" y2="289.5" stroke="#777" stroke-width="0.5"/>
<line x1="75.5" y1="288.5" x2="75.5" y2="289.5" stroke="#777" stroke-width="0.5"/>
<line x1="78.5" y1="288.5" x2="78.5" y2="289.5" stroke="#777" stroke-width="0.5"/>
<line x1="79.5" y1="288.5" x2="79.5" y2="289.5" stroke="#777" stroke-width="0.5"/>
<line x1="81.5" y1="288.5" x2="81.5" y2="290.5" stroke="#444" stroke-width="0.6"/>
<line x1="85.5" y1="288.5" x2="85.5" y2="289.5" stroke="#777" stroke-width="0.5"/>
<line x1="89.5" y1="288.5" x2="89.5" y2="289.5" stroke="#777" stroke-width="0.5"/>
<line x1="92.5" y1="288.5" x2="92.5" y2="289.5" stroke="#777" stroke-width="0.5"/>
<line x1="94.5" y1="288.5" x2="94.5" y2="289.5" stroke="#777" stroke-width="0.5"/>
<line x1="95.5" y1="288.5" x2="95.5" y2="290.5" stroke="#444" stroke-width="0.6"/>
<line x1="99.5" y1="288.5" x2="99.5" y2="289.5" stroke="#777" stroke-width="0.5"/>
<line x1="103.5" y1="288.5" x2="103.5" y2="289.5" stroke="#777" stroke-width="0.5"/>
<line x1="106.5" y1="288.5" x2="106.5" y2="289.5" stroke="#777" stroke-width="0.5"/>
<line x1="107.5" y1="288.5" x2="107.5" y2="289.5" stroke="#777" stroke-width="0.5"/>
<line x1="109.5" y1="288.5" x2="109.5" y2="290.5" stroke="#444" stroke-width="0.6"/>
<line x1="114.5" y1="288.5" x2="114.5" y2="289.5" stroke="#777" stroke-width="0.5"/>
<line x1="119.5" y1="288.5" x2="119.5" y2="289.5" stroke="#777" stroke-width="0.5"/>
<line x1="121.5" y1="288.5" x2="121.5" y2="289.5" stroke="#777" stroke-width="0.5"/>
<line x1="124.5" y1="288.5" x2="124.5" y2="289.5" stroke="#777" stroke-width="0.5"/>
<line x1="125.5" y1="288.5" x2="125.5" y2="290.5" stroke="#444" stroke-width="0.6"/>
<g filter="url(#bl1)" clip-path="url(#cB0)">
<ellipse cx="102.7" cy="288.6" rx="5.5" ry="2" fill="#0000ff"/>
<ellipse cx="102.7" cy="289.1" rx="3.03" ry="1.1" fill="#2a8cff"/>
<path d="M116.8 245.5 C117.42 245.65 117.82 245.27 117.4 246.7 C116.98 248.13 115.32 251.85 114.3 254.1 C113.28 256.35 112.32 257.75 111.3 260.2 C110.28 262.65 109.02 266.25 108.2 268.8 C107.38 271.35 106.75 273.67 106.4 275.5 C106.05 277.33 106.37 278.93 106.1 279.8 C105.83 280.67 105.22 281 104.8 280.7 C104.38 280.4 104.15 279.48 103.6 278 C103.05 276.52 102.47 273.85 101.5 271.8 C100.53 269.75 98.52 267.63 97.8 265.7 C97.08 263.77 97.1 261.83 97.2 260.2 C97.3 258.57 97.38 257.73 98.4 255.9 C99.42 254.07 101.67 250.63 103.3 249.2 C104.93 247.77 106.47 247.87 108.2 247.3 C109.93 246.73 112.27 246.1 113.7 245.8 C115.13 245.5 116.18 245.35 116.8 245.5Z" fill="#0000ff"/>
<path d="M115.13 247.52 C115.66 247.64 116.01 247.32 115.65 248.55 C115.29 249.78 113.86 252.98 112.98 254.91 C112.11 256.85 111.28 258.05 110.4 260.16 C109.53 262.27 108.44 265.36 107.74 267.55 C107.04 269.75 106.49 271.74 106.19 273.32 C105.89 274.89 106.16 276.27 105.93 277.01 C105.7 277.76 105.17 278.05 104.81 277.79 C104.46 277.53 104.25 276.74 103.78 275.47 C103.31 274.19 102.81 271.9 101.98 270.13 C101.14 268.37 99.41 266.55 98.79 264.89 C98.18 263.23 98.19 261.56 98.28 260.16 C98.36 258.75 98.44 258.04 99.31 256.46 C100.18 254.88 102.12 251.93 103.52 250.7 C104.93 249.47 106.25 249.55 107.74 249.06 C109.23 248.58 111.24 248.03 112.47 247.77 C113.7 247.52 114.6 247.39 115.13 247.52Z" fill="#0a40ff"/>
<path d="M113.59 249.39 C114.04 249.5 114.33 249.22 114.03 250.26 C113.72 251.31 112.5 254.02 111.76 255.67 C111.02 257.31 110.31 258.33 109.57 260.12 C108.83 261.91 107.91 264.54 107.31 266.4 C106.71 268.26 106.25 269.95 106 271.29 C105.74 272.63 105.97 273.79 105.78 274.43 C105.58 275.06 105.13 275.3 104.83 275.08 C104.52 274.87 104.35 274.2 103.95 273.11 C103.55 272.03 103.12 270.08 102.42 268.59 C101.71 267.09 100.24 265.55 99.72 264.13 C99.19 262.72 99.21 261.31 99.28 260.12 C99.35 258.93 99.41 258.32 100.16 256.98 C100.9 255.64 102.54 253.14 103.73 252.09 C104.92 251.04 106.04 251.12 107.31 250.7 C108.57 250.29 110.28 249.83 111.32 249.61 C112.37 249.39 113.14 249.28 113.59 249.39Z" fill="#2088ff"/>
<path d="M112.16 251.12 C112.54 251.21 112.78 250.97 112.53 251.85 C112.27 252.72 111.25 254.99 110.63 256.36 C110.01 257.73 109.42 258.59 108.8 260.08 C108.18 261.58 107.41 263.77 106.91 265.33 C106.41 266.88 106.03 268.3 105.82 269.42 C105.6 270.53 105.79 271.51 105.63 272.04 C105.47 272.57 105.09 272.77 104.84 272.59 C104.58 272.4 104.44 271.85 104.11 270.94 C103.77 270.04 103.42 268.41 102.83 267.16 C102.24 265.91 101.01 264.62 100.57 263.44 C100.13 262.26 100.14 261.08 100.2 260.08 C100.26 259.09 100.31 258.58 100.94 257.46 C101.56 256.34 102.93 254.25 103.92 253.37 C104.92 252.5 105.86 252.56 106.91 252.21 C107.97 251.87 109.39 251.48 110.27 251.3 C111.14 251.12 111.78 251.02 112.16 251.12Z" fill="#40c4ff"/>
<path d="M110.85 252.7 C111.16 252.77 111.36 252.58 111.15 253.3 C110.94 254.02 110.11 255.88 109.6 257 C109.09 258.12 108.61 258.82 108.1 260.05 C107.59 261.27 106.96 263.08 106.55 264.35 C106.14 265.62 105.83 266.78 105.65 267.7 C105.48 268.62 105.63 269.42 105.5 269.85 C105.37 270.28 105.06 270.45 104.85 270.3 C104.64 270.15 104.53 269.69 104.25 268.95 C103.97 268.21 103.68 266.88 103.2 265.85 C102.72 264.83 101.71 263.77 101.35 262.8 C100.99 261.83 101 260.87 101.05 260.05 C101.1 259.23 101.14 258.82 101.65 257.9 C102.16 256.98 103.28 255.27 104.1 254.55 C104.92 253.83 105.68 253.88 106.55 253.6 C107.42 253.32 108.58 253 109.3 252.85 C110.02 252.7 110.54 252.62 110.85 252.7Z" fill="#64ecff"/>
<ellipse cx="104.9" cy="259.9" rx="5.41" ry="7.46" fill="#74f4ff"/>
<ellipse cx="104.9" cy="259.9" rx="4.1" ry="5.65" fill="#28ff3c"/>
<ellipse cx="104.9" cy="259.9" rx="3.28" ry="4.52" fill="#a4ff10"/>
<ellipse cx="104.9" cy="259.9" rx="2.46" ry="3.39" fill="#ffff00"/>
<ellipse cx="104.9" cy="259.9" rx="1.72" ry="2.37" fill="#ffa400"/>
<ellipse cx="104.9" cy="259.9" rx="1.11" ry="1.53" fill="#ff2800"/>
</g>
<rect x="97.5" y="227.5" width="23" height="21" fill="none" stroke="#3a3a3a" stroke-width="0.9"/>
<text x="109.4" y="225.6" font-size="8.5" text-anchor="middle" fill="#333" stroke="#333" stroke-width="0.22" letter-spacing="0.2">0.58</text>
<rect x="154.5" y="201.5" width="87" height="87" fill="none" stroke="#8a8a8a" stroke-width="0.9"/>
<line x1="154.5" y1="201.1" x2="154.5" y2="288.9" stroke="#333" stroke-width="1"/>
<line x1="153.6" y1="288.5" x2="241.7" y2="288.5" stroke="#333" stroke-width="1"/>
<line x1="152" y1="287.5" x2="154" y2="287.5" stroke="#444" stroke-width="0.6"/>
<text x="145.1" y="289.67" font-size="4.2" text-anchor="middle" font-weight="bold" fill="#1a1a1a" stroke="#1a1a1a" stroke-width="0.22">10</text>
<text x="147.7" y="286.31" font-size="3.57" font-weight="bold" fill="#1a1a1a" stroke="#1a1a1a" stroke-width="0.15">1</text>
<line x1="153" y1="283.5" x2="154" y2="283.5" stroke="#777" stroke-width="0.5"/>
<line x1="153" y1="279.5" x2="154" y2="279.5" stroke="#777" stroke-width="0.5"/>
<line x1="153" y1="277.5" x2="154" y2="277.5" stroke="#777" stroke-width="0.5"/>
<line x1="153" y1="275.5" x2="154" y2="275.5" stroke="#777" stroke-width="0.5"/>
<line x1="152" y1="274.5" x2="154" y2="274.5" stroke="#444" stroke-width="0.6"/>
<text x="145.1" y="276.07" font-size="4.2" text-anchor="middle" font-weight="bold" fill="#1a1a1a" stroke="#1a1a1a" stroke-width="0.22">10</text>
<text x="147.7" y="272.71" font-size="3.57" font-weight="bold" fill="#1a1a1a" stroke="#1a1a1a" stroke-width="0.15">2</text>
<line x1="153" y1="269.5" x2="154" y2="269.5" stroke="#777" stroke-width="0.5"/>
<line x1="153" y1="265.5" x2="154" y2="265.5" stroke="#777" stroke-width="0.5"/>
<line x1="153" y1="262.5" x2="154" y2="262.5" stroke="#777" stroke-width="0.5"/>
<line x1="153" y1="261.5" x2="154" y2="261.5" stroke="#777" stroke-width="0.5"/>
<line x1="152" y1="259.5" x2="154" y2="259.5" stroke="#444" stroke-width="0.6"/>
<text x="145.1" y="261.67" font-size="4.2" text-anchor="middle" font-weight="bold" fill="#1a1a1a" stroke="#1a1a1a" stroke-width="0.22">10</text>
<text x="147.7" y="258.31" font-size="3.57" font-weight="bold" fill="#1a1a1a" stroke="#1a1a1a" stroke-width="0.15">3</text>
<line x1="153" y1="255.5" x2="154" y2="255.5" stroke="#777" stroke-width="0.5"/>
<line x1="153" y1="251.5" x2="154" y2="251.5" stroke="#777" stroke-width="0.5"/>
<line x1="153" y1="248.5" x2="154" y2="248.5" stroke="#777" stroke-width="0.5"/>
<line x1="153" y1="246.5" x2="154" y2="246.5" stroke="#777" stroke-width="0.5"/>
<line x1="152" y1="245.5" x2="154" y2="245.5" stroke="#444" stroke-width="0.6"/>
<text x="145.1" y="247.27" font-size="4.2" text-anchor="middle" font-weight="bold" fill="#1a1a1a" stroke="#1a1a1a" stroke-width="0.22">10</text>
<text x="147.7" y="243.91" font-size="3.57" font-weight="bold" fill="#1a1a1a" stroke="#1a1a1a" stroke-width="0.15">4</text>
<line x1="153" y1="240.5" x2="154" y2="240.5" stroke="#777" stroke-width="0.5"/>
<line x1="153" y1="236.5" x2="154" y2="236.5" stroke="#777" stroke-width="0.5"/>
<line x1="153" y1="233.5" x2="154" y2="233.5" stroke="#777" stroke-width="0.5"/>
<line x1="153" y1="232.5" x2="154" y2="232.5" stroke="#777" stroke-width="0.5"/>
<line x1="152" y1="230.5" x2="154" y2="230.5" stroke="#444" stroke-width="0.6"/>
<text x="145.1" y="232.67" font-size="4.2" text-anchor="middle" font-weight="bold" fill="#1a1a1a" stroke="#1a1a1a" stroke-width="0.22">10</text>
<text x="147.7" y="229.31" font-size="3.57" font-weight="bold" fill="#1a1a1a" stroke="#1a1a1a" stroke-width="0.15">5</text>
<line x1="153" y1="226.5" x2="154" y2="226.5" stroke="#777" stroke-width="0.5"/>
<line x1="153" y1="222.5" x2="154" y2="222.5" stroke="#777" stroke-width="0.5"/>
<line x1="153" y1="219.5" x2="154" y2="219.5" stroke="#777" stroke-width="0.5"/>
<line x1="153" y1="217.5" x2="154" y2="217.5" stroke="#777" stroke-width="0.5"/>
<line x1="152" y1="216.5" x2="154" y2="216.5" stroke="#444" stroke-width="0.6"/>
<text x="145.1" y="218.27" font-size="4.2" text-anchor="middle" font-weight="bold" fill="#1a1a1a" stroke="#1a1a1a" stroke-width="0.22">10</text>
<text x="147.7" y="214.91" font-size="3.57" font-weight="bold" fill="#1a1a1a" stroke="#1a1a1a" stroke-width="0.15">6</text>
<line x1="153" y1="213.5" x2="154" y2="213.5" stroke="#777" stroke-width="0.5"/>
<line x1="153" y1="210.5" x2="154" y2="210.5" stroke="#777" stroke-width="0.5"/>
<line x1="153" y1="208.5" x2="154" y2="208.5" stroke="#777" stroke-width="0.5"/>
<line x1="153" y1="207.5" x2="154" y2="207.5" stroke="#777" stroke-width="0.5"/>
<line x1="152" y1="206.5" x2="154" y2="206.5" stroke="#444" stroke-width="0.6"/>
<text x="145.1" y="208.47" font-size="4.2" text-anchor="middle" font-weight="bold" fill="#1a1a1a" stroke="#1a1a1a" stroke-width="0.22">10</text>
<text x="147.7" y="205.11" font-size="3.57" font-weight="bold" fill="#1a1a1a" stroke="#1a1a1a" stroke-width="0.15">7</text>
<text x="158.5" y="297.87" font-size="4.2" text-anchor="middle" font-weight="bold" fill="#1a1a1a" stroke="#1a1a1a" stroke-width="0.22">10</text>
<text x="161.1" y="294.51" font-size="3.57" font-weight="bold" fill="#1a1a1a" stroke="#1a1a1a" stroke-width="0.15">1</text>
<text x="171.5" y="297.87" font-size="4.2" text-anchor="middle" font-weight="bold" fill="#1a1a1a" stroke="#1a1a1a" stroke-width="0.22">10</text>
<text x="174.1" y="294.51" font-size="3.57" font-weight="bold" fill="#1a1a1a" stroke="#1a1a1a" stroke-width="0.15">2</text>
<text x="185.2" y="297.87" font-size="4.2" text-anchor="middle" font-weight="bold" fill="#1a1a1a" stroke="#1a1a1a" stroke-width="0.22">10</text>
<text x="187.8" y="294.51" font-size="3.57" font-weight="bold" fill="#1a1a1a" stroke="#1a1a1a" stroke-width="0.15">3</text>
<text x="200.2" y="297.87" font-size="4.2" text-anchor="middle" font-weight="bold" fill="#1a1a1a" stroke="#1a1a1a" stroke-width="0.22">10</text>
<text x="202.8" y="294.51" font-size="3.57" font-weight="bold" fill="#1a1a1a" stroke="#1a1a1a" stroke-width="0.15">4</text>
<text x="215" y="297.87" font-size="4.2" text-anchor="middle" font-weight="bold" fill="#1a1a1a" stroke="#1a1a1a" stroke-width="0.22">10</text>
<text x="217.6" y="294.51" font-size="3.57" font-weight="bold" fill="#1a1a1a" stroke="#1a1a1a" stroke-width="0.15">5</text>
<text x="229.6" y="297.87" font-size="4.2" text-anchor="middle" font-weight="bold" fill="#1a1a1a" stroke="#1a1a1a" stroke-width="0.22">10</text>
<text x="232.2" y="294.51" font-size="3.57" font-weight="bold" fill="#1a1a1a" stroke="#1a1a1a" stroke-width="0.15">6</text>
<text x="237.4" y="297.87" font-size="4.2" text-anchor="middle" font-weight="bold" fill="#1a1a1a" stroke="#1a1a1a" stroke-width="0.22">10</text>
<text x="240" y="294.51" font-size="3.57" font-weight="bold" fill="#1a1a1a" stroke="#1a1a1a" stroke-width="0.15">7</text>
<line x1="154.5" y1="288.5" x2="154.5" y2="290.5" stroke="#444" stroke-width="0.6"/>
<line x1="158.5" y1="288.5" x2="158.5" y2="289.5" stroke="#777" stroke-width="0.5"/>
<line x1="162.5" y1="288.5" x2="162.5" y2="289.5" stroke="#777" stroke-width="0.5"/>
<line x1="165.5" y1="288.5" x2="165.5" y2="289.5" stroke="#777" stroke-width="0.5"/>
<line x1="166.5" y1="288.5" x2="166.5" y2="289.5" stroke="#777" stroke-width="0.5"/>
<line x1="168.5" y1="288.5" x2="168.5" y2="290.5" stroke="#444" stroke-width="0.6"/>
<line x1="172.5" y1="288.5" x2="172.5" y2="289.5" stroke="#777" stroke-width="0.5"/>
<line x1="176.5" y1="288.5" x2="176.5" y2="289.5" stroke="#777" stroke-width="0.5"/>
<line x1="179.5" y1="288.5" x2="179.5" y2="289.5" stroke="#777" stroke-width="0.5"/>
<line x1="181.5" y1="288.5" x2="181.5" y2="289.5" stroke="#777" stroke-width="0.5"/>
<line x1="182.5" y1="288.5" x2="182.5" y2="290.5" stroke="#444" stroke-width="0.6"/>
<line x1="187.5" y1="288.5" x2="187.5" y2="289.5" stroke="#777" stroke-width="0.5"/>
<line x1="191.5" y1="288.5" x2="191.5" y2="289.5" stroke="#777" stroke-width="0.5"/>
<line x1="193.5" y1="288.5" x2="193.5" y2="289.5" stroke="#777" stroke-width="0.5"/>
<line x1="195.5" y1="288.5" x2="195.5" y2="289.5" stroke="#777" stroke-width="0.5"/>
<line x1="197.5" y1="288.5" x2="197.5" y2="290.5" stroke="#444" stroke-width="0.6"/>
<line x1="201.5" y1="288.5" x2="201.5" y2="289.5" stroke="#777" stroke-width="0.5"/>
<line x1="205.5" y1="288.5" x2="205.5" y2="289.5" stroke="#777" stroke-width="0.5"/>
<line x1="208.5" y1="288.5" x2="208.5" y2="289.5" stroke="#777" stroke-width="0.5"/>
<line x1="210.5" y1="288.5" x2="210.5" y2="289.5" stroke="#777" stroke-width="0.5"/>
<line x1="211.5" y1="288.5" x2="211.5" y2="290.5" stroke="#444" stroke-width="0.6"/>
<line x1="215.5" y1="288.5" x2="215.5" y2="289.5" stroke="#777" stroke-width="0.5"/>
<line x1="219.5" y1="288.5" x2="219.5" y2="289.5" stroke="#777" stroke-width="0.5"/>
<line x1="222.5" y1="288.5" x2="222.5" y2="289.5" stroke="#777" stroke-width="0.5"/>
<line x1="223.5" y1="288.5" x2="223.5" y2="289.5" stroke="#777" stroke-width="0.5"/>
<line x1="225.5" y1="288.5" x2="225.5" y2="290.5" stroke="#444" stroke-width="0.6"/>
<line x1="230.5" y1="288.5" x2="230.5" y2="289.5" stroke="#777" stroke-width="0.5"/>
<line x1="234.5" y1="288.5" x2="234.5" y2="289.5" stroke="#777" stroke-width="0.5"/>
<line x1="237.5" y1="288.5" x2="237.5" y2="289.5" stroke="#777" stroke-width="0.5"/>
<line x1="239.5" y1="288.5" x2="239.5" y2="289.5" stroke="#777" stroke-width="0.5"/>
<line x1="241.5" y1="288.5" x2="241.5" y2="290.5" stroke="#444" stroke-width="0.6"/>
<g filter="url(#bl1)" clip-path="url(#cB1)">
<ellipse cx="218.7" cy="288.6" rx="2.5" ry="2.2" fill="#0000ff"/>
<path d="M227.9 246.1 C229.12 246.2 230.28 247.68 230.9 248.6 C231.52 249.52 232 249.97 231.6 251.6 C231.2 253.23 229.53 256.05 228.5 258.4 C227.47 260.75 226.22 263.35 225.4 265.7 C224.58 268.05 224.32 270.92 223.6 272.5 C222.88 274.08 222.12 275.32 221.1 275.2 C220.08 275.08 218.52 273.28 217.5 271.8 C216.48 270.32 215.82 267.62 215 266.3 C214.18 264.98 212.9 265.02 212.6 263.9 C212.3 262.78 212.7 261.23 213.2 259.6 C213.7 257.97 214.58 255.63 215.6 254.1 C216.62 252.57 217.97 251.42 219.3 250.4 C220.63 249.38 222.17 248.72 223.6 248 C225.03 247.28 226.68 246 227.9 246.1Z" fill="#0000ff"/>
<path d="M226.88 247.98 C227.92 248.06 228.93 249.34 229.46 250.13 C229.99 250.91 230.4 251.3 230.06 252.71 C229.72 254.11 228.28 256.53 227.39 258.55 C226.51 260.57 225.43 262.81 224.73 264.83 C224.03 266.85 223.8 269.32 223.18 270.68 C222.56 272.04 221.9 273.1 221.03 273 C220.16 272.9 218.81 271.35 217.93 270.08 C217.06 268.8 216.49 266.48 215.78 265.35 C215.08 264.22 213.98 264.24 213.72 263.28 C213.46 262.32 213.81 260.99 214.24 259.59 C214.67 258.18 215.43 256.17 216.3 254.86 C217.17 253.54 218.34 252.55 219.48 251.67 C220.63 250.8 221.95 250.23 223.18 249.61 C224.41 248.99 225.83 247.89 226.88 247.98Z" fill="#0a40ff"/>
<path d="M225.93 249.72 C226.82 249.79 227.67 250.87 228.12 251.54 C228.57 252.21 228.92 252.54 228.63 253.73 C228.34 254.93 227.12 256.98 226.37 258.7 C225.61 260.41 224.7 262.31 224.1 264.03 C223.51 265.74 223.31 267.83 222.79 268.99 C222.27 270.15 221.71 271.05 220.97 270.96 C220.22 270.88 219.08 269.56 218.34 268.48 C217.59 267.4 217.11 265.43 216.51 264.46 C215.92 263.5 214.98 263.53 214.76 262.71 C214.54 261.9 214.83 260.77 215.2 259.57 C215.56 258.38 216.21 256.68 216.95 255.56 C217.69 254.44 218.68 253.6 219.65 252.86 C220.62 252.11 221.74 251.63 222.79 251.1 C223.84 250.58 225.04 249.64 225.93 249.72Z" fill="#2088ff"/>
<path d="M225.05 251.33 C225.8 251.39 226.51 252.29 226.88 252.85 C227.26 253.41 227.55 253.68 227.31 254.68 C227.07 255.68 226.05 257.4 225.42 258.83 C224.79 260.26 224.03 261.85 223.53 263.28 C223.03 264.72 222.87 266.46 222.43 267.43 C221.99 268.4 221.53 269.15 220.91 269.08 C220.28 269.01 219.33 267.91 218.71 267 C218.09 266.1 217.68 264.45 217.18 263.65 C216.69 262.84 215.9 262.87 215.72 262.18 C215.54 261.5 215.78 260.56 216.09 259.56 C216.39 258.56 216.93 257.14 217.55 256.21 C218.17 255.27 218.99 254.57 219.81 253.95 C220.62 253.33 221.56 252.92 222.43 252.49 C223.3 252.05 224.31 251.26 225.05 251.33Z" fill="#40c4ff"/>
<path d="M224.25 252.8 C224.86 252.85 225.44 253.59 225.75 254.05 C226.06 254.51 226.3 254.73 226.1 255.55 C225.9 256.37 225.07 257.77 224.55 258.95 C224.03 260.12 223.41 261.43 223 262.6 C222.59 263.78 222.46 265.21 222.1 266 C221.74 266.79 221.36 267.41 220.85 267.35 C220.34 267.29 219.56 266.39 219.05 265.65 C218.54 264.91 218.21 263.56 217.8 262.9 C217.39 262.24 216.75 262.26 216.6 261.7 C216.45 261.14 216.65 260.37 216.9 259.55 C217.15 258.73 217.59 257.57 218.1 256.8 C218.61 256.03 219.28 255.46 219.95 254.95 C220.62 254.44 221.38 254.11 222.1 253.75 C222.82 253.39 223.64 252.75 224.25 252.8Z" fill="#64ecff"/>
<ellipse cx="220.6" cy="259.5" rx="5.48" ry="7.26" fill="#74f4ff"/>
<ellipse cx="220.6" cy="259.5" rx="4.15" ry="5.5" fill="#28ff3c"/>
<ellipse cx="220.6" cy="259.5" rx="3.32" ry="4.4" fill="#a4ff10"/>
<ellipse cx="220.6" cy="259.5" rx="2.49" ry="3.3" fill="#ffff00"/>
<ellipse cx="220.6" cy="259.5" rx="1.74" ry="2.31" fill="#ffa400"/>
<ellipse cx="220.6" cy="259.5" rx="1.12" ry="1.49" fill="#ff2800"/>
</g>
<rect x="213.5" y="227.5" width="23" height="21" fill="none" stroke="#3a3a3a" stroke-width="0.9"/>
<text x="225.2" y="225.6" font-size="8.5" text-anchor="middle" fill="#333" stroke="#333" stroke-width="0.22" letter-spacing="0.2">0.66</text>
<rect x="265.5" y="201.5" width="88" height="87" fill="none" stroke="#8a8a8a" stroke-width="0.9"/>
<line x1="265.5" y1="201.1" x2="265.5" y2="288.9" stroke="#333" stroke-width="1"/>
<line x1="265.2" y1="288.5" x2="353.3" y2="288.5" stroke="#333" stroke-width="1"/>
<line x1="263.6" y1="287.5" x2="265.6" y2="287.5" stroke="#444" stroke-width="0.6"/>
<text x="256.7" y="289.67" font-size="4.2" text-anchor="middle" font-weight="bold" fill="#1a1a1a" stroke="#1a1a1a" stroke-width="0.22">10</text>
<text x="259.3" y="286.31" font-size="3.57" font-weight="bold" fill="#1a1a1a" stroke="#1a1a1a" stroke-width="0.15">1</text>
<line x1="264.6" y1="283.5" x2="265.6" y2="283.5" stroke="#777" stroke-width="0.5"/>
<line x1="264.6" y1="279.5" x2="265.6" y2="279.5" stroke="#777" stroke-width="0.5"/>
<line x1="264.6" y1="277.5" x2="265.6" y2="277.5" stroke="#777" stroke-width="0.5"/>
<line x1="264.6" y1="275.5" x2="265.6" y2="275.5" stroke="#777" stroke-width="0.5"/>
<line x1="263.6" y1="274.5" x2="265.6" y2="274.5" stroke="#444" stroke-width="0.6"/>
<text x="256.7" y="276.07" font-size="4.2" text-anchor="middle" font-weight="bold" fill="#1a1a1a" stroke="#1a1a1a" stroke-width="0.22">10</text>
<text x="259.3" y="272.71" font-size="3.57" font-weight="bold" fill="#1a1a1a" stroke="#1a1a1a" stroke-width="0.15">2</text>
<line x1="264.6" y1="269.5" x2="265.6" y2="269.5" stroke="#777" stroke-width="0.5"/>
<line x1="264.6" y1="265.5" x2="265.6" y2="265.5" stroke="#777" stroke-width="0.5"/>
<line x1="264.6" y1="262.5" x2="265.6" y2="262.5" stroke="#777" stroke-width="0.5"/>
<line x1="264.6" y1="261.5" x2="265.6" y2="261.5" stroke="#777" stroke-width="0.5"/>
<line x1="263.6" y1="259.5" x2="265.6" y2="259.5" stroke="#444" stroke-width="0.6"/>
<text x="256.7" y="261.67" font-size="4.2" text-anchor="middle" font-weight="bold" fill="#1a1a1a" stroke="#1a1a1a" stroke-width="0.22">10</text>
<text x="259.3" y="258.31" font-size="3.57" font-weight="bold" fill="#1a1a1a" stroke="#1a1a1a" stroke-width="0.15">3</text>
<line x1="264.6" y1="255.5" x2="265.6" y2="255.5" stroke="#777" stroke-width="0.5"/>
<line x1="264.6" y1="251.5" x2="265.6" y2="251.5" stroke="#777" stroke-width="0.5"/>
<line x1="264.6" y1="248.5" x2="265.6" y2="248.5" stroke="#777" stroke-width="0.5"/>
<line x1="264.6" y1="246.5" x2="265.6" y2="246.5" stroke="#777" stroke-width="0.5"/>
<line x1="263.6" y1="245.5" x2="265.6" y2="245.5" stroke="#444" stroke-width="0.6"/>
<text x="256.7" y="247.27" font-size="4.2" text-anchor="middle" font-weight="bold" fill="#1a1a1a" stroke="#1a1a1a" stroke-width="0.22">10</text>
<text x="259.3" y="243.91" font-size="3.57" font-weight="bold" fill="#1a1a1a" stroke="#1a1a1a" stroke-width="0.15">4</text>
<line x1="264.6" y1="240.5" x2="265.6" y2="240.5" stroke="#777" stroke-width="0.5"/>
<line x1="264.6" y1="236.5" x2="265.6" y2="236.5" stroke="#777" stroke-width="0.5"/>
<line x1="264.6" y1="233.5" x2="265.6" y2="233.5" stroke="#777" stroke-width="0.5"/>
<line x1="264.6" y1="232.5" x2="265.6" y2="232.5" stroke="#777" stroke-width="0.5"/>
<line x1="263.6" y1="230.5" x2="265.6" y2="230.5" stroke="#444" stroke-width="0.6"/>
<text x="256.7" y="232.67" font-size="4.2" text-anchor="middle" font-weight="bold" fill="#1a1a1a" stroke="#1a1a1a" stroke-width="0.22">10</text>
<text x="259.3" y="229.31" font-size="3.57" font-weight="bold" fill="#1a1a1a" stroke="#1a1a1a" stroke-width="0.15">5</text>
<line x1="264.6" y1="226.5" x2="265.6" y2="226.5" stroke="#777" stroke-width="0.5"/>
<line x1="264.6" y1="222.5" x2="265.6" y2="222.5" stroke="#777" stroke-width="0.5"/>
<line x1="264.6" y1="219.5" x2="265.6" y2="219.5" stroke="#777" stroke-width="0.5"/>
<line x1="264.6" y1="217.5" x2="265.6" y2="217.5" stroke="#777" stroke-width="0.5"/>
<line x1="263.6" y1="216.5" x2="265.6" y2="216.5" stroke="#444" stroke-width="0.6"/>
<text x="256.7" y="218.27" font-size="4.2" text-anchor="middle" font-weight="bold" fill="#1a1a1a" stroke="#1a1a1a" stroke-width="0.22">10</text>
<text x="259.3" y="214.91" font-size="3.57" font-weight="bold" fill="#1a1a1a" stroke="#1a1a1a" stroke-width="0.15">6</text>
<line x1="264.6" y1="213.5" x2="265.6" y2="213.5" stroke="#777" stroke-width="0.5"/>
<line x1="264.6" y1="210.5" x2="265.6" y2="210.5" stroke="#777" stroke-width="0.5"/>
<line x1="264.6" y1="208.5" x2="265.6" y2="208.5" stroke="#777" stroke-width="0.5"/>
<line x1="264.6" y1="207.5" x2="265.6" y2="207.5" stroke="#777" stroke-width="0.5"/>
<line x1="263.6" y1="206.5" x2="265.6" y2="206.5" stroke="#444" stroke-width="0.6"/>
<text x="256.7" y="208.47" font-size="4.2" text-anchor="middle" font-weight="bold" fill="#1a1a1a" stroke="#1a1a1a" stroke-width="0.22">10</text>
<text x="259.3" y="205.11" font-size="3.57" font-weight="bold" fill="#1a1a1a" stroke="#1a1a1a" stroke-width="0.15">7</text>
<text x="270.1" y="297.87" font-size="4.2" text-anchor="middle" font-weight="bold" fill="#1a1a1a" stroke="#1a1a1a" stroke-width="0.22">10</text>
<text x="272.7" y="294.51" font-size="3.57" font-weight="bold" fill="#1a1a1a" stroke="#1a1a1a" stroke-width="0.15">1</text>
<text x="283.1" y="297.87" font-size="4.2" text-anchor="middle" font-weight="bold" fill="#1a1a1a" stroke="#1a1a1a" stroke-width="0.22">10</text>
<text x="285.7" y="294.51" font-size="3.57" font-weight="bold" fill="#1a1a1a" stroke="#1a1a1a" stroke-width="0.15">2</text>
<text x="296.8" y="297.87" font-size="4.2" text-anchor="middle" font-weight="bold" fill="#1a1a1a" stroke="#1a1a1a" stroke-width="0.22">10</text>
<text x="299.4" y="294.51" font-size="3.57" font-weight="bold" fill="#1a1a1a" stroke="#1a1a1a" stroke-width="0.15">3</text>
<text x="311.8" y="297.87" font-size="4.2" text-anchor="middle" font-weight="bold" fill="#1a1a1a" stroke="#1a1a1a" stroke-width="0.22">10</text>
<text x="314.4" y="294.51" font-size="3.57" font-weight="bold" fill="#1a1a1a" stroke="#1a1a1a" stroke-width="0.15">4</text>
<text x="326.6" y="297.87" font-size="4.2" text-anchor="middle" font-weight="bold" fill="#1a1a1a" stroke="#1a1a1a" stroke-width="0.22">10</text>
<text x="329.2" y="294.51" font-size="3.57" font-weight="bold" fill="#1a1a1a" stroke="#1a1a1a" stroke-width="0.15">5</text>
<text x="341.2" y="297.87" font-size="4.2" text-anchor="middle" font-weight="bold" fill="#1a1a1a" stroke="#1a1a1a" stroke-width="0.22">10</text>
<text x="343.8" y="294.51" font-size="3.57" font-weight="bold" fill="#1a1a1a" stroke="#1a1a1a" stroke-width="0.15">6</text>
<text x="349" y="297.87" font-size="4.2" text-anchor="middle" font-weight="bold" fill="#1a1a1a" stroke="#1a1a1a" stroke-width="0.22">10</text>
<text x="351.6" y="294.51" font-size="3.57" font-weight="bold" fill="#1a1a1a" stroke="#1a1a1a" stroke-width="0.15">7</text>
<line x1="266.5" y1="288.5" x2="266.5" y2="290.5" stroke="#444" stroke-width="0.6"/>
<line x1="270.5" y1="288.5" x2="270.5" y2="289.5" stroke="#777" stroke-width="0.5"/>
<line x1="274.5" y1="288.5" x2="274.5" y2="289.5" stroke="#777" stroke-width="0.5"/>
<line x1="276.5" y1="288.5" x2="276.5" y2="289.5" stroke="#777" stroke-width="0.5"/>
<line x1="278.5" y1="288.5" x2="278.5" y2="289.5" stroke="#777" stroke-width="0.5"/>
<line x1="279.5" y1="288.5" x2="279.5" y2="290.5" stroke="#444" stroke-width="0.6"/>
<line x1="284.5" y1="288.5" x2="284.5" y2="289.5" stroke="#777" stroke-width="0.5"/>
<line x1="288.5" y1="288.5" x2="288.5" y2="289.5" stroke="#777" stroke-width="0.5"/>
<line x1="291.5" y1="288.5" x2="291.5" y2="289.5" stroke="#777" stroke-width="0.5"/>
<line x1="292.5" y1="288.5" x2="292.5" y2="289.5" stroke="#777" stroke-width="0.5"/>
<line x1="294.5" y1="288.5" x2="294.5" y2="290.5" stroke="#444" stroke-width="0.6"/>
<line x1="298.5" y1="288.5" x2="298.5" y2="289.5" stroke="#777" stroke-width="0.5"/>
<line x1="302.5" y1="288.5" x2="302.5" y2="289.5" stroke="#777" stroke-width="0.5"/>
<line x1="305.5" y1="288.5" x2="305.5" y2="289.5" stroke="#777" stroke-width="0.5"/>
<line x1="307.5" y1="288.5" x2="307.5" y2="289.5" stroke="#777" stroke-width="0.5"/>
<line x1="308.5" y1="288.5" x2="308.5" y2="290.5" stroke="#444" stroke-width="0.6"/>
<line x1="312.5" y1="288.5" x2="312.5" y2="289.5" stroke="#777" stroke-width="0.5"/>
<line x1="317.5" y1="288.5" x2="317.5" y2="289.5" stroke="#777" stroke-width="0.5"/>
<line x1="319.5" y1="288.5" x2="319.5" y2="289.5" stroke="#777" stroke-width="0.5"/>
<line x1="321.5" y1="288.5" x2="321.5" y2="289.5" stroke="#777" stroke-width="0.5"/>
<line x1="323.5" y1="288.5" x2="323.5" y2="290.5" stroke="#444" stroke-width="0.6"/>
<line x1="327.5" y1="288.5" x2="327.5" y2="289.5" stroke="#777" stroke-width="0.5"/>
<line x1="331.5" y1="288.5" x2="331.5" y2="289.5" stroke="#777" stroke-width="0.5"/>
<line x1="333.5" y1="288.5" x2="333.5" y2="289.5" stroke="#777" stroke-width="0.5"/>
<line x1="335.5" y1="288.5" x2="335.5" y2="289.5" stroke="#777" stroke-width="0.5"/>
<line x1="336.5" y1="288.5" x2="336.5" y2="290.5" stroke="#444" stroke-width="0.6"/>
<line x1="341.5" y1="288.5" x2="341.5" y2="289.5" stroke="#777" stroke-width="0.5"/>
<line x1="346.5" y1="288.5" x2="346.5" y2="289.5" stroke="#777" stroke-width="0.5"/>
<line x1="349.5" y1="288.5" x2="349.5" y2="289.5" stroke="#777" stroke-width="0.5"/>
<line x1="351.5" y1="288.5" x2="351.5" y2="289.5" stroke="#777" stroke-width="0.5"/>
<line x1="353.5" y1="288.5" x2="353.5" y2="290.5" stroke="#444" stroke-width="0.6"/>
<g filter="url(#bl1)" clip-path="url(#cB2)">
<ellipse cx="331.9" cy="288.6" rx="4" ry="2.4" fill="#0000ff"/>
<ellipse cx="331.9" cy="289.1" rx="2.2" ry="1.32" fill="#2a8cff"/>
<path d="M340.5 246.7 C341.62 246.9 342 247.97 342.3 249.2 C342.6 250.43 342.8 252.27 342.3 254.1 C341.8 255.93 340.12 258.47 339.3 260.2 C338.48 261.93 338.02 262.67 337.4 264.5 C336.78 266.33 336.42 269.52 335.6 271.2 C334.78 272.88 333.73 274.7 332.5 274.6 C331.27 274.5 329.52 272.08 328.2 270.6 C326.88 269.12 325.2 267.53 324.6 265.7 C324 263.87 324.1 261.85 324.6 259.6 C325.1 257.35 326.48 253.83 327.6 252.2 C328.72 250.57 329.97 250.5 331.3 249.8 C332.63 249.1 334.07 248.52 335.6 248 C337.13 247.48 339.38 246.5 340.5 246.7Z" fill="#0000ff"/>
<path d="M339.38 248.56 C340.34 248.73 340.67 249.65 340.93 250.71 C341.19 251.77 341.36 253.35 340.93 254.93 C340.5 256.5 339.05 258.68 338.35 260.17 C337.65 261.66 337.24 262.29 336.71 263.87 C336.18 265.45 335.87 268.18 335.17 269.63 C334.46 271.08 333.56 272.64 332.5 272.56 C331.44 272.47 329.93 270.39 328.8 269.12 C327.67 267.84 326.22 266.48 325.71 264.9 C325.19 263.33 325.28 261.59 325.71 259.66 C326.14 257.72 327.33 254.7 328.29 253.29 C329.25 251.89 330.32 251.83 331.47 251.23 C332.61 250.63 333.85 250.12 335.17 249.68 C336.48 249.24 338.42 248.39 339.38 248.56Z" fill="#0a40ff"/>
<path d="M338.34 250.29 C339.16 250.44 339.44 251.22 339.65 252.12 C339.87 253.02 340.02 254.35 339.65 255.69 C339.29 257.03 338.06 258.88 337.46 260.15 C336.87 261.41 336.53 261.95 336.08 263.29 C335.63 264.62 335.36 266.95 334.76 268.18 C334.17 269.4 333.4 270.73 332.5 270.66 C331.6 270.59 330.32 268.82 329.36 267.74 C328.4 266.66 327.17 265.5 326.73 264.16 C326.3 262.82 326.37 261.35 326.73 259.71 C327.1 258.07 328.11 255.5 328.92 254.31 C329.74 253.11 330.65 253.06 331.62 252.55 C332.6 252.04 333.64 251.62 334.76 251.24 C335.88 250.86 337.52 250.15 338.34 250.29Z" fill="#2088ff"/>
<path d="M337.38 251.89 C338.06 252.01 338.3 252.66 338.48 253.41 C338.66 254.16 338.78 255.28 338.48 256.4 C338.17 257.52 337.15 259.06 336.65 260.12 C336.15 261.18 335.87 261.63 335.49 262.75 C335.11 263.86 334.89 265.81 334.39 266.83 C333.89 267.86 333.25 268.97 332.5 268.91 C331.75 268.85 330.68 267.37 329.88 266.47 C329.07 265.56 328.05 264.6 327.68 263.48 C327.32 262.36 327.38 261.13 327.68 259.76 C327.99 258.38 328.83 256.24 329.51 255.24 C330.19 254.25 330.95 254.21 331.77 253.78 C332.58 253.35 333.46 253 334.39 252.68 C335.33 252.36 336.7 251.76 337.38 251.89Z" fill="#40c4ff"/>
<path d="M336.5 253.35 C337.06 253.45 337.25 253.98 337.4 254.6 C337.55 255.22 337.65 256.13 337.4 257.05 C337.15 257.97 336.31 259.23 335.9 260.1 C335.49 260.97 335.26 261.33 334.95 262.25 C334.64 263.17 334.46 264.76 334.05 265.6 C333.64 266.44 333.12 267.35 332.5 267.3 C331.88 267.25 331.01 266.04 330.35 265.3 C329.69 264.56 328.85 263.77 328.55 262.85 C328.25 261.93 328.3 260.93 328.55 259.8 C328.8 258.68 329.49 256.92 330.05 256.1 C330.61 255.28 331.23 255.25 331.9 254.9 C332.57 254.55 333.28 254.26 334.05 254 C334.82 253.74 335.94 253.25 336.5 253.35Z" fill="#64ecff"/>
<ellipse cx="332.5" cy="260" rx="5.02" ry="7.26" fill="#74f4ff"/>
<ellipse cx="332.5" cy="260" rx="3.8" ry="5.5" fill="#28ff3c"/>
<ellipse cx="332.5" cy="260" rx="3.04" ry="4.4" fill="#a4ff10"/>
<ellipse cx="332.5" cy="260" rx="2.28" ry="3.3" fill="#ffff00"/>
<ellipse cx="332.5" cy="260" rx="1.6" ry="2.31" fill="#ffa400"/>
<ellipse cx="332.5" cy="260" rx="1.03" ry="1.49" fill="#ff2800"/>
</g>
<rect x="324.5" y="227.5" width="23" height="21" fill="none" stroke="#3a3a3a" stroke-width="0.9"/>
<text x="336.8" y="225.6" font-size="8.5" text-anchor="middle" fill="#333" stroke="#333" stroke-width="0.22" letter-spacing="0.2">0.92</text>
<rect x="380.5" y="201.5" width="88" height="87" fill="none" stroke="#8a8a8a" stroke-width="0.9"/>
<line x1="380.5" y1="201.1" x2="380.5" y2="288.9" stroke="#333" stroke-width="1"/>
<line x1="380.3" y1="288.5" x2="468.4" y2="288.5" stroke="#333" stroke-width="1"/>
<line x1="378.7" y1="287.5" x2="380.7" y2="287.5" stroke="#444" stroke-width="0.6"/>
<text x="371.8" y="289.67" font-size="4.2" text-anchor="middle" font-weight="bold" fill="#1a1a1a" stroke="#1a1a1a" stroke-width="0.22">10</text>
<text x="374.4" y="286.31" font-size="3.57" font-weight="bold" fill="#1a1a1a" stroke="#1a1a1a" stroke-width="0.15">1</text>
<line x1="379.7" y1="283.5" x2="380.7" y2="283.5" stroke="#777" stroke-width="0.5"/>
<line x1="379.7" y1="279.5" x2="380.7" y2="279.5" stroke="#777" stroke-width="0.5"/>
<line x1="379.7" y1="277.5" x2="380.7" y2="277.5" stroke="#777" stroke-width="0.5"/>
<line x1="379.7" y1="275.5" x2="380.7" y2="275.5" stroke="#777" stroke-width="0.5"/>
<line x1="378.7" y1="274.5" x2="380.7" y2="274.5" stroke="#444" stroke-width="0.6"/>
<text x="371.8" y="276.07" font-size="4.2" text-anchor="middle" font-weight="bold" fill="#1a1a1a" stroke="#1a1a1a" stroke-width="0.22">10</text>
<text x="374.4" y="272.71" font-size="3.57" font-weight="bold" fill="#1a1a1a" stroke="#1a1a1a" stroke-width="0.15">2</text>
<line x1="379.7" y1="269.5" x2="380.7" y2="269.5" stroke="#777" stroke-width="0.5"/>
<line x1="379.7" y1="265.5" x2="380.7" y2="265.5" stroke="#777" stroke-width="0.5"/>
<line x1="379.7" y1="262.5" x2="380.7" y2="262.5" stroke="#777" stroke-width="0.5"/>
<line x1="379.7" y1="261.5" x2="380.7" y2="261.5" stroke="#777" stroke-width="0.5"/>
<line x1="378.7" y1="259.5" x2="380.7" y2="259.5" stroke="#444" stroke-width="0.6"/>
<text x="371.8" y="261.67" font-size="4.2" text-anchor="middle" font-weight="bold" fill="#1a1a1a" stroke="#1a1a1a" stroke-width="0.22">10</text>
<text x="374.4" y="258.31" font-size="3.57" font-weight="bold" fill="#1a1a1a" stroke="#1a1a1a" stroke-width="0.15">3</text>
<line x1="379.7" y1="255.5" x2="380.7" y2="255.5" stroke="#777" stroke-width="0.5"/>
<line x1="379.7" y1="251.5" x2="380.7" y2="251.5" stroke="#777" stroke-width="0.5"/>
<line x1="379.7" y1="248.5" x2="380.7" y2="248.5" stroke="#777" stroke-width="0.5"/>
<line x1="379.7" y1="246.5" x2="380.7" y2="246.5" stroke="#777" stroke-width="0.5"/>
<line x1="378.7" y1="245.5" x2="380.7" y2="245.5" stroke="#444" stroke-width="0.6"/>
<text x="371.8" y="247.27" font-size="4.2" text-anchor="middle" font-weight="bold" fill="#1a1a1a" stroke="#1a1a1a" stroke-width="0.22">10</text>
<text x="374.4" y="243.91" font-size="3.57" font-weight="bold" fill="#1a1a1a" stroke="#1a1a1a" stroke-width="0.15">4</text>
<line x1="379.7" y1="240.5" x2="380.7" y2="240.5" stroke="#777" stroke-width="0.5"/>
<line x1="379.7" y1="236.5" x2="380.7" y2="236.5" stroke="#777" stroke-width="0.5"/>
<line x1="379.7" y1="233.5" x2="380.7" y2="233.5" stroke="#777" stroke-width="0.5"/>
<line x1="379.7" y1="232.5" x2="380.7" y2="232.5" stroke="#777" stroke-width="0.5"/>
<line x1="378.7" y1="230.5" x2="380.7" y2="230.5" stroke="#444" stroke-width="0.6"/>
<text x="371.8" y="232.67" font-size="4.2" text-anchor="middle" font-weight="bold" fill="#1a1a1a" stroke="#1a1a1a" stroke-width="0.22">10</text>
<text x="374.4" y="229.31" font-size="3.57" font-weight="bold" fill="#1a1a1a" stroke="#1a1a1a" stroke-width="0.15">5</text>
<line x1="379.7" y1="226.5" x2="380.7" y2="226.5" stroke="#777" stroke-width="0.5"/>
<line x1="379.7" y1="222.5" x2="380.7" y2="222.5" stroke="#777" stroke-width="0.5"/>
<line x1="379.7" y1="219.5" x2="380.7" y2="219.5" stroke="#777" stroke-width="0.5"/>
<line x1="379.7" y1="217.5" x2="380.7" y2="217.5" stroke="#777" stroke-width="0.5"/>
<line x1="378.7" y1="216.5" x2="380.7" y2="216.5" stroke="#444" stroke-width="0.6"/>
<text x="371.8" y="218.27" font-size="4.2" text-anchor="middle" font-weight="bold" fill="#1a1a1a" stroke="#1a1a1a" stroke-width="0.22">10</text>
<text x="374.4" y="214.91" font-size="3.57" font-weight="bold" fill="#1a1a1a" stroke="#1a1a1a" stroke-width="0.15">6</text>
<line x1="379.7" y1="213.5" x2="380.7" y2="213.5" stroke="#777" stroke-width="0.5"/>
<line x1="379.7" y1="210.5" x2="380.7" y2="210.5" stroke="#777" stroke-width="0.5"/>
<line x1="379.7" y1="208.5" x2="380.7" y2="208.5" stroke="#777" stroke-width="0.5"/>
<line x1="379.7" y1="207.5" x2="380.7" y2="207.5" stroke="#777" stroke-width="0.5"/>
<line x1="378.7" y1="206.5" x2="380.7" y2="206.5" stroke="#444" stroke-width="0.6"/>
<text x="371.8" y="208.47" font-size="4.2" text-anchor="middle" font-weight="bold" fill="#1a1a1a" stroke="#1a1a1a" stroke-width="0.22">10</text>
<text x="374.4" y="205.11" font-size="3.57" font-weight="bold" fill="#1a1a1a" stroke="#1a1a1a" stroke-width="0.15">7</text>
<text x="385.2" y="297.87" font-size="4.2" text-anchor="middle" font-weight="bold" fill="#1a1a1a" stroke="#1a1a1a" stroke-width="0.22">10</text>
<text x="387.8" y="294.51" font-size="3.57" font-weight="bold" fill="#1a1a1a" stroke="#1a1a1a" stroke-width="0.15">1</text>
<text x="398.2" y="297.87" font-size="4.2" text-anchor="middle" font-weight="bold" fill="#1a1a1a" stroke="#1a1a1a" stroke-width="0.22">10</text>
<text x="400.8" y="294.51" font-size="3.57" font-weight="bold" fill="#1a1a1a" stroke="#1a1a1a" stroke-width="0.15">2</text>
<text x="411.9" y="297.87" font-size="4.2" text-anchor="middle" font-weight="bold" fill="#1a1a1a" stroke="#1a1a1a" stroke-width="0.22">10</text>
<text x="414.5" y="294.51" font-size="3.57" font-weight="bold" fill="#1a1a1a" stroke="#1a1a1a" stroke-width="0.15">3</text>
<text x="426.9" y="297.87" font-size="4.2" text-anchor="middle" font-weight="bold" fill="#1a1a1a" stroke="#1a1a1a" stroke-width="0.22">10</text>
<text x="429.5" y="294.51" font-size="3.57" font-weight="bold" fill="#1a1a1a" stroke="#1a1a1a" stroke-width="0.15">4</text>
<text x="441.7" y="297.87" font-size="4.2" text-anchor="middle" font-weight="bold" fill="#1a1a1a" stroke="#1a1a1a" stroke-width="0.22">10</text>
<text x="444.3" y="294.51" font-size="3.57" font-weight="bold" fill="#1a1a1a" stroke="#1a1a1a" stroke-width="0.15">5</text>
<text x="456.3" y="297.87" font-size="4.2" text-anchor="middle" font-weight="bold" fill="#1a1a1a" stroke="#1a1a1a" stroke-width="0.22">10</text>
<text x="458.9" y="294.51" font-size="3.57" font-weight="bold" fill="#1a1a1a" stroke="#1a1a1a" stroke-width="0.15">6</text>
<text x="464.1" y="297.87" font-size="4.2" text-anchor="middle" font-weight="bold" fill="#1a1a1a" stroke="#1a1a1a" stroke-width="0.22">10</text>
<text x="466.7" y="294.51" font-size="3.57" font-weight="bold" fill="#1a1a1a" stroke="#1a1a1a" stroke-width="0.15">7</text>
<line x1="381.5" y1="288.5" x2="381.5" y2="290.5" stroke="#444" stroke-width="0.6"/>
<line x1="385.5" y1="288.5" x2="385.5" y2="289.5" stroke="#777" stroke-width="0.5"/>
<line x1="389.5" y1="288.5" x2="389.5" y2="289.5" stroke="#777" stroke-width="0.5"/>
<line x1="391.5" y1="288.5" x2="391.5" y2="289.5" stroke="#777" stroke-width="0.5"/>
<line x1="393.5" y1="288.5" x2="393.5" y2="289.5" stroke="#777" stroke-width="0.5"/>
<line x1="395.5" y1="288.5" x2="395.5" y2="290.5" stroke="#444" stroke-width="0.6"/>
<line x1="399.5" y1="288.5" x2="399.5" y2="289.5" stroke="#777" stroke-width="0.5"/>
<line x1="403.5" y1="288.5" x2="403.5" y2="289.5" stroke="#777" stroke-width="0.5"/>
<line x1="406.5" y1="288.5" x2="406.5" y2="289.5" stroke="#777" stroke-width="0.5"/>
<line x1="408.5" y1="288.5" x2="408.5" y2="289.5" stroke="#777" stroke-width="0.5"/>
<line x1="409.5" y1="288.5" x2="409.5" y2="290.5" stroke="#444" stroke-width="0.6"/>
<line x1="413.5" y1="288.5" x2="413.5" y2="289.5" stroke="#777" stroke-width="0.5"/>
<line x1="418.5" y1="288.5" x2="418.5" y2="289.5" stroke="#777" stroke-width="0.5"/>
<line x1="420.5" y1="288.5" x2="420.5" y2="289.5" stroke="#777" stroke-width="0.5"/>
<line x1="422.5" y1="288.5" x2="422.5" y2="289.5" stroke="#777" stroke-width="0.5"/>
<line x1="423.5" y1="288.5" x2="423.5" y2="290.5" stroke="#444" stroke-width="0.6"/>
<line x1="428.5" y1="288.5" x2="428.5" y2="289.5" stroke="#777" stroke-width="0.5"/>
<line x1="432.5" y1="288.5" x2="432.5" y2="289.5" stroke="#777" stroke-width="0.5"/>
<line x1="434.5" y1="288.5" x2="434.5" y2="289.5" stroke="#777" stroke-width="0.5"/>
<line x1="436.5" y1="288.5" x2="436.5" y2="289.5" stroke="#777" stroke-width="0.5"/>
<line x1="438.5" y1="288.5" x2="438.5" y2="290.5" stroke="#444" stroke-width="0.6"/>
<line x1="442.5" y1="288.5" x2="442.5" y2="289.5" stroke="#777" stroke-width="0.5"/>
<line x1="446.5" y1="288.5" x2="446.5" y2="289.5" stroke="#777" stroke-width="0.5"/>
<line x1="448.5" y1="288.5" x2="448.5" y2="289.5" stroke="#777" stroke-width="0.5"/>
<line x1="450.5" y1="288.5" x2="450.5" y2="289.5" stroke="#777" stroke-width="0.5"/>
<line x1="451.5" y1="288.5" x2="451.5" y2="290.5" stroke="#444" stroke-width="0.6"/>
<line x1="456.5" y1="288.5" x2="456.5" y2="289.5" stroke="#777" stroke-width="0.5"/>
<line x1="461.5" y1="288.5" x2="461.5" y2="289.5" stroke="#777" stroke-width="0.5"/>
<line x1="464.5" y1="288.5" x2="464.5" y2="289.5" stroke="#777" stroke-width="0.5"/>
<line x1="466.5" y1="288.5" x2="466.5" y2="289.5" stroke="#777" stroke-width="0.5"/>
<line x1="468.5" y1="288.5" x2="468.5" y2="290.5" stroke="#444" stroke-width="0.6"/>
<g filter="url(#bl1)" clip-path="url(#cB3)">
<ellipse cx="447.5" cy="288.6" rx="2" ry="2.2" fill="#0000ff"/>
<path d="M455.7 246.7 C456.62 247.17 457.78 248.77 458.2 249.8 C458.62 250.83 458.82 251.27 458.2 252.9 C457.58 254.53 455.63 257.47 454.5 259.6 C453.37 261.73 452.22 263.67 451.4 265.7 C450.58 267.73 450.2 270.47 449.6 271.8 C449 273.13 448.82 273.7 447.8 273.7 C446.78 273.7 444.43 272.82 443.5 271.8 C442.57 270.78 442.72 268.72 442.2 267.6 C441.68 266.48 440.5 266.63 440.4 265.1 C440.3 263.57 440.98 260.55 441.6 258.4 C442.22 256.25 442.97 253.83 444.1 252.2 C445.23 250.57 446.97 249.47 448.4 248.6 C449.83 247.73 451.48 247.32 452.7 247 C453.92 246.68 454.78 246.23 455.7 246.7Z" fill="#0000ff"/>
<path d="M454.59 248.53 C455.38 248.94 456.39 250.31 456.74 251.2 C457.1 252.09 457.27 252.46 456.74 253.87 C456.21 255.27 454.54 257.79 453.56 259.63 C452.59 261.46 451.6 263.13 450.9 264.87 C450.19 266.62 449.86 268.97 449.35 270.12 C448.83 271.27 448.67 271.75 447.8 271.75 C446.93 271.75 444.9 270.99 444.1 270.12 C443.3 269.25 443.43 267.47 442.98 266.51 C442.54 265.55 441.52 265.68 441.44 264.36 C441.35 263.04 441.94 260.44 442.47 258.6 C443 256.75 443.64 254.67 444.62 253.26 C445.59 251.86 447.08 250.91 448.32 250.17 C449.55 249.42 450.97 249.06 452.01 248.79 C453.06 248.52 453.81 248.13 454.59 248.53Z" fill="#0a40ff"/>
<path d="M453.57 250.24 C454.24 250.58 455.09 251.75 455.39 252.5 C455.7 253.25 455.84 253.57 455.39 254.76 C454.94 255.96 453.52 258.1 452.69 259.65 C451.86 261.21 451.02 262.62 450.43 264.11 C449.83 265.59 449.55 267.59 449.11 268.56 C448.68 269.53 448.54 269.95 447.8 269.95 C447.06 269.95 445.34 269.3 444.66 268.56 C443.98 267.82 444.09 266.31 443.71 265.49 C443.33 264.68 442.47 264.79 442.4 263.67 C442.32 262.55 442.82 260.35 443.27 258.78 C443.72 257.21 444.27 255.44 445.1 254.25 C445.93 253.06 447.19 252.26 448.24 251.62 C449.28 250.99 450.49 250.69 451.38 250.46 C452.27 250.22 452.9 249.9 453.57 250.24Z" fill="#2088ff"/>
<path d="M452.62 251.81 C453.18 252.09 453.89 253.07 454.14 253.7 C454.4 254.33 454.52 254.59 454.14 255.59 C453.77 256.59 452.58 258.38 451.89 259.68 C451.2 260.98 450.49 262.16 450 263.4 C449.5 264.64 449.26 266.31 448.9 267.12 C448.53 267.93 448.42 268.28 447.8 268.28 C447.18 268.28 445.75 267.74 445.18 267.12 C444.61 266.5 444.7 265.24 444.38 264.56 C444.07 263.88 443.35 263.97 443.29 263.03 C443.23 262.1 443.64 260.26 444.02 258.95 C444.39 257.63 444.85 256.16 445.54 255.16 C446.23 254.17 447.29 253.5 448.17 252.97 C449.04 252.44 450.05 252.19 450.79 251.99 C451.53 251.8 452.06 251.52 452.62 251.81Z" fill="#40c4ff"/>
<path d="M451.75 253.25 C452.21 253.48 452.79 254.28 453 254.8 C453.21 255.32 453.31 255.53 453 256.35 C452.69 257.17 451.72 258.63 451.15 259.7 C450.58 260.77 450.01 261.73 449.6 262.75 C449.19 263.77 449 265.13 448.7 265.8 C448.4 266.47 448.31 266.75 447.8 266.75 C447.29 266.75 446.12 266.31 445.65 265.8 C445.18 265.29 445.26 264.26 445 263.7 C444.74 263.14 444.15 263.22 444.1 262.45 C444.05 261.68 444.39 260.18 444.7 259.1 C445.01 258.03 445.38 256.82 445.95 256 C446.52 255.18 447.38 254.63 448.1 254.2 C448.82 253.77 449.64 253.56 450.25 253.4 C450.86 253.24 451.29 253.02 451.75 253.25Z" fill="#64ecff"/>
<ellipse cx="447.8" cy="259.8" rx="4.49" ry="6.47" fill="#74f4ff"/>
<ellipse cx="447.8" cy="259.8" rx="3.4" ry="4.9" fill="#28ff3c"/>
<ellipse cx="447.8" cy="259.8" rx="2.72" ry="3.92" fill="#a4ff10"/>
<ellipse cx="447.8" cy="259.8" rx="2.04" ry="2.94" fill="#ffff00"/>
<ellipse cx="447.8" cy="259.8" rx="1.43" ry="2.06" fill="#ffa400"/>
<ellipse cx="447.8" cy="259.8" rx="0.92" ry="1.32" fill="#ff2800"/>
</g>
<rect x="440.5" y="227.5" width="23" height="21" fill="none" stroke="#3a3a3a" stroke-width="0.9"/>
<text x="451.9" y="225.6" font-size="8.5" text-anchor="middle" fill="#333" stroke="#333" stroke-width="0.22" letter-spacing="0.2">1.00</text>
<line x1="13.5" y1="186.7" x2="13.5" y2="220.2" stroke="#1a1a1a" stroke-width="1"/>
<path d="M13.8 180.7 L11.5 188.2 L16.1 188.2Z" fill="#111"/>
<text x="18.1" y="288.8" font-size="9.8" stroke="#111" stroke-width="0.22" transform="rotate(-90 18.1 288.8)">FL2 CD137-PE</text>
<text x="30.1" y="314.3" font-size="9.8" stroke="#111" stroke-width="0.22">FL4 CD8a-APC</text>
<line x1="99.3" y1="311.5" x2="462.7" y2="311.5" stroke="#1a1a1a" stroke-width="1"/>
<path d="M468.7 311 L461.2 308.7 L461.2 313.3Z" fill="#111"/>
<text x="0.4" y="334.9" font-size="15" font-weight="bold" fill="#000" stroke="#000" stroke-width="0.13">C</text>
<text x="19.5" y="338.3" font-size="11.2" stroke="#111" stroke-width="0.22">Tumor tissue/CD3+CD8+</text>
<text x="145.45" y="350" font-size="10.3" text-anchor="middle" stroke="#111" stroke-width="0.22" letter-spacing="0.15">UTD</text>
<text x="375.05" y="349.9" font-size="10.3" text-anchor="middle" stroke="#111" stroke-width="0.22" letter-spacing="0.35">Tcr-T1</text>
<line x1="46.1" y1="353.5" x2="244.8" y2="353.5" stroke="#111" stroke-width="1.1"/>
<line x1="275.9" y1="353.5" x2="474.2" y2="353.5" stroke="#111" stroke-width="1.1"/>
<text x="87.35" y="363.7" font-size="9.8" text-anchor="middle" stroke="#111" stroke-width="0.22">SYT-SSX ΔPep-4/2402</text>
<text x="206" y="363.7" font-size="9.8" text-anchor="middle" stroke="#111" stroke-width="0.22">SYT-SSX Pep-4/2402</text>
<text x="317.3" y="363.7" font-size="9.8" text-anchor="middle" stroke="#111" stroke-width="0.22">SYT-SSX ΔPep-4/2402</text>
<text x="432" y="363.7" font-size="9.8" text-anchor="middle" stroke="#111" stroke-width="0.22">SYT-SSX Pep-4/2402</text>
<rect x="44.5" y="366.5" width="88" height="88" fill="none" stroke="#8a8a8a" stroke-width="0.9"/>
<line x1="44.5" y1="366" x2="44.5" y2="454.7" stroke="#333" stroke-width="1"/>
<line x1="44.1" y1="454.5" x2="132.4" y2="454.5" stroke="#333" stroke-width="1"/>
<line x1="42.3" y1="446.5" x2="44.5" y2="446.5" stroke="#333" stroke-width="0.7"/>
<text x="35.3" y="449.14" font-size="4.7" text-anchor="middle" font-weight="bold" fill="#1a1a1a" stroke="#1a1a1a" stroke-width="0.22">10</text>
<text x="38.21" y="445.38" font-size="4" font-weight="bold" fill="#1a1a1a" stroke="#1a1a1a" stroke-width="0.15">1</text>
<line x1="43.4" y1="440.5" x2="44.5" y2="440.5" stroke="#666" stroke-width="0.5"/>
<line x1="43.4" y1="435.5" x2="44.5" y2="435.5" stroke="#666" stroke-width="0.5"/>
<line x1="43.4" y1="432.5" x2="44.5" y2="432.5" stroke="#666" stroke-width="0.5"/>
<line x1="43.4" y1="430.5" x2="44.5" y2="430.5" stroke="#666" stroke-width="0.5"/>
<line x1="42.3" y1="428.5" x2="44.5" y2="428.5" stroke="#333" stroke-width="0.7"/>
<text x="35.3" y="431.24" font-size="4.7" text-anchor="middle" font-weight="bold" fill="#1a1a1a" stroke="#1a1a1a" stroke-width="0.22">10</text>
<text x="38.21" y="427.48" font-size="4" font-weight="bold" fill="#1a1a1a" stroke="#1a1a1a" stroke-width="0.15">2</text>
<line x1="43.4" y1="422.5" x2="44.5" y2="422.5" stroke="#666" stroke-width="0.5"/>
<line x1="43.4" y1="417.5" x2="44.5" y2="417.5" stroke="#666" stroke-width="0.5"/>
<line x1="43.4" y1="414.5" x2="44.5" y2="414.5" stroke="#666" stroke-width="0.5"/>
<line x1="43.4" y1="412.5" x2="44.5" y2="412.5" stroke="#666" stroke-width="0.5"/>
<line x1="42.3" y1="410.5" x2="44.5" y2="410.5" stroke="#333" stroke-width="0.7"/>
<text x="35.3" y="413.34" font-size="4.7" text-anchor="middle" font-weight="bold" fill="#1a1a1a" stroke="#1a1a1a" stroke-width="0.22">10</text>
<text x="38.21" y="409.58" font-size="4" font-weight="bold" fill="#1a1a1a" stroke="#1a1a1a" stroke-width="0.15">3</text>
<line x1="43.4" y1="405.5" x2="44.5" y2="405.5" stroke="#666" stroke-width="0.5"/>
<line x1="43.4" y1="399.5" x2="44.5" y2="399.5" stroke="#666" stroke-width="0.5"/>
<line x1="43.4" y1="396.5" x2="44.5" y2="396.5" stroke="#666" stroke-width="0.5"/>
<line x1="43.4" y1="394.5" x2="44.5" y2="394.5" stroke="#666" stroke-width="0.5"/>
<line x1="42.3" y1="392.5" x2="44.5" y2="392.5" stroke="#333" stroke-width="0.7"/>
<text x="35.3" y="395.44" font-size="4.7" text-anchor="middle" font-weight="bold" fill="#1a1a1a" stroke="#1a1a1a" stroke-width="0.22">10</text>
<text x="38.21" y="391.69" font-size="4" font-weight="bold" fill="#1a1a1a" stroke="#1a1a1a" stroke-width="0.15">4</text>
<line x1="43.4" y1="387.5" x2="44.5" y2="387.5" stroke="#666" stroke-width="0.5"/>
<line x1="43.4" y1="381.5" x2="44.5" y2="381.5" stroke="#666" stroke-width="0.5"/>
<line x1="43.4" y1="378.5" x2="44.5" y2="378.5" stroke="#666" stroke-width="0.5"/>
<line x1="43.4" y1="376.5" x2="44.5" y2="376.5" stroke="#666" stroke-width="0.5"/>
<line x1="42.3" y1="374.5" x2="44.5" y2="374.5" stroke="#333" stroke-width="0.7"/>
<text x="35.3" y="377.54" font-size="4.7" text-anchor="middle" font-weight="bold" fill="#1a1a1a" stroke="#1a1a1a" stroke-width="0.22">10</text>
<text x="38.21" y="373.78" font-size="4" font-weight="bold" fill="#1a1a1a" stroke="#1a1a1a" stroke-width="0.15">5</text>
<text x="52.8" y="464.24" font-size="4.7" text-anchor="middle" font-weight="bold" fill="#1a1a1a" stroke="#1a1a1a" stroke-width="0.22">10</text>
<text x="55.71" y="460.48" font-size="4" font-weight="bold" fill="#1a1a1a" stroke="#1a1a1a" stroke-width="0.15">1</text>
<text x="80.2" y="464.24" font-size="4.7" text-anchor="middle" font-weight="bold" fill="#1a1a1a" stroke="#1a1a1a" stroke-width="0.22">10</text>
<text x="83.11" y="460.48" font-size="4" font-weight="bold" fill="#1a1a1a" stroke="#1a1a1a" stroke-width="0.15">3</text>
<text x="107.4" y="464.24" font-size="4.7" text-anchor="middle" font-weight="bold" fill="#1a1a1a" stroke="#1a1a1a" stroke-width="0.22">10</text>
<text x="110.31" y="460.48" font-size="4" font-weight="bold" fill="#1a1a1a" stroke="#1a1a1a" stroke-width="0.15">5</text>
<line x1="46.5" y1="454.3" x2="46.5" y2="456.3" stroke="#444" stroke-width="0.6"/>
<line x1="50.5" y1="454.3" x2="50.5" y2="455.3" stroke="#777" stroke-width="0.5"/>
<line x1="56.5" y1="454.3" x2="56.5" y2="455.3" stroke="#777" stroke-width="0.5"/>
<line x1="58.5" y1="454.3" x2="58.5" y2="455.3" stroke="#777" stroke-width="0.5"/>
<line x1="60.5" y1="454.3" x2="60.5" y2="456.3" stroke="#444" stroke-width="0.6"/>
<line x1="64.5" y1="454.3" x2="64.5" y2="455.3" stroke="#777" stroke-width="0.5"/>
<line x1="69.5" y1="454.3" x2="69.5" y2="455.3" stroke="#777" stroke-width="0.5"/>
<line x1="72.5" y1="454.3" x2="72.5" y2="455.3" stroke="#777" stroke-width="0.5"/>
<line x1="73.5" y1="454.3" x2="73.5" y2="456.3" stroke="#444" stroke-width="0.6"/>
<line x1="78.5" y1="454.3" x2="78.5" y2="455.3" stroke="#777" stroke-width="0.5"/>
<line x1="83.5" y1="454.3" x2="83.5" y2="455.3" stroke="#777" stroke-width="0.5"/>
<line x1="86.5" y1="454.3" x2="86.5" y2="455.3" stroke="#777" stroke-width="0.5"/>
<line x1="87.5" y1="454.3" x2="87.5" y2="456.3" stroke="#444" stroke-width="0.6"/>
<line x1="91.5" y1="454.3" x2="91.5" y2="455.3" stroke="#777" stroke-width="0.5"/>
<line x1="97.5" y1="454.3" x2="97.5" y2="455.3" stroke="#777" stroke-width="0.5"/>
<line x1="99.5" y1="454.3" x2="99.5" y2="455.3" stroke="#777" stroke-width="0.5"/>
<line x1="101.5" y1="454.3" x2="101.5" y2="456.3" stroke="#444" stroke-width="0.6"/>
<line x1="105.5" y1="454.3" x2="105.5" y2="455.3" stroke="#777" stroke-width="0.5"/>
<line x1="110.5" y1="454.3" x2="110.5" y2="455.3" stroke="#777" stroke-width="0.5"/>
<line x1="113.5" y1="454.3" x2="113.5" y2="455.3" stroke="#777" stroke-width="0.5"/>
<line x1="115.5" y1="454.3" x2="115.5" y2="456.3" stroke="#444" stroke-width="0.6"/>
<line x1="119.5" y1="454.3" x2="119.5" y2="455.3" stroke="#777" stroke-width="0.5"/>
<line x1="124.5" y1="454.3" x2="124.5" y2="455.3" stroke="#777" stroke-width="0.5"/>
<line x1="127.5" y1="454.3" x2="127.5" y2="455.3" stroke="#777" stroke-width="0.5"/>
<line x1="128.5" y1="454.3" x2="128.5" y2="456.3" stroke="#444" stroke-width="0.6"/>
<ellipse cx="89.5" cy="409" rx="15.5" ry="7" fill="#000" opacity="0.08" filter="url(#bl3)"/>
<ellipse cx="90.08" cy="408.82" rx="13.62" ry="6.23" fill="#000" opacity="0.1" filter="url(#bl3)"/>
<ellipse cx="90.67" cy="408.63" rx="11.73" ry="5.47" fill="#000" opacity="0.12" filter="url(#bl2)"/>
<ellipse cx="91.25" cy="408.45" rx="9.85" ry="4.7" fill="#000" opacity="0.16" filter="url(#bl2)"/>
<ellipse cx="91.83" cy="408.27" rx="7.97" ry="3.93" fill="#000" opacity="0.26" filter="url(#bl2)"/>
<ellipse cx="92.42" cy="408.08" rx="6.08" ry="3.17" fill="#000" opacity="0.45" filter="url(#bl4)"/>
<ellipse cx="93" cy="407.9" rx="4.2" ry="2.4" fill="#000" opacity="0.9" filter="url(#bl4)"/>
<ellipse cx="73.2" cy="408.3" rx="3.6" ry="3.2" fill="#000" opacity="0.32" filter="url(#bl2)"/>
<ellipse cx="77.5" cy="416" rx="2.8" ry="2.2" fill="#000" opacity="0.28" filter="url(#bl2)"/>
<ellipse cx="78.7" cy="403.2" rx="2" ry="1.6" fill="#000" opacity="0.22" filter="url(#bl2)"/>
<ellipse cx="102.6" cy="410.4" rx="3.6" ry="3" fill="#000" opacity="0.45" filter="url(#bl2)"/>
<ellipse cx="83.5" cy="410" rx="4" ry="3.5" fill="#000" opacity="0.3" filter="url(#bl2)"/>
<ellipse cx="80" cy="404.5" rx="3" ry="2.5" fill="#000" opacity="0.22" filter="url(#bl2)"/>
<ellipse cx="86.5" cy="403.5" rx="3" ry="2.5" fill="#000" opacity="0.3" filter="url(#bl2)"/>
<ellipse cx="97.5" cy="403.5" rx="3.2" ry="2.5" fill="#000" opacity="0.35" filter="url(#bl2)"/>
<ellipse cx="100" cy="413" rx="3" ry="2.5" fill="#000" opacity="0.28" filter="url(#bl2)"/>
<ellipse cx="88.5" cy="414" rx="3.2" ry="2.5" fill="#000" opacity="0.3" filter="url(#bl2)"/>
<ellipse cx="76.5" cy="412" rx="3" ry="2.5" fill="#000" opacity="0.22" filter="url(#bl2)"/>
<ellipse cx="94" cy="412.5" rx="3" ry="2.5" fill="#000" opacity="0.35" filter="url(#bl2)"/>
<line x1="89.5" y1="366.4" x2="89.5" y2="454.3" stroke="#222" stroke-width="1"/>
<line x1="44.5" y1="423.5" x2="132.4" y2="423.5" stroke="#222" stroke-width="1"/>
<text x="46.8" y="377.8" font-size="8.8" fill="#222" stroke="#222" stroke-width="0.22" letter-spacing="0.2">48.9</text>
<text x="129.1" y="377.8" font-size="8.8" text-anchor="end" fill="#222" stroke="#222" stroke-width="0.22" letter-spacing="0.2">51.1</text>
<text x="46.8" y="447.8" font-size="8.8" fill="#222" stroke="#222" stroke-width="0.22" letter-spacing="0.2">0.00</text>
<text x="128.4" y="447.8" font-size="8.8" text-anchor="end" fill="#222" stroke="#222" stroke-width="0.22" letter-spacing="0.2">0.00</text>
<rect x="160.5" y="366.5" width="88" height="88" fill="none" stroke="#8a8a8a" stroke-width="0.9"/>
<line x1="160.5" y1="366" x2="160.5" y2="454.7" stroke="#333" stroke-width="1"/>
<line x1="160" y1="454.5" x2="248.1" y2="454.5" stroke="#333" stroke-width="1"/>
<line x1="158.2" y1="446.5" x2="160.4" y2="446.5" stroke="#333" stroke-width="0.7"/>
<text x="151.2" y="449.14" font-size="4.7" text-anchor="middle" font-weight="bold" fill="#1a1a1a" stroke="#1a1a1a" stroke-width="0.22">10</text>
<text x="154.11" y="445.38" font-size="4" font-weight="bold" fill="#1a1a1a" stroke="#1a1a1a" stroke-width="0.15">1</text>
<line x1="159.3" y1="440.5" x2="160.4" y2="440.5" stroke="#666" stroke-width="0.5"/>
<line x1="159.3" y1="435.5" x2="160.4" y2="435.5" stroke="#666" stroke-width="0.5"/>
<line x1="159.3" y1="432.5" x2="160.4" y2="432.5" stroke="#666" stroke-width="0.5"/>
<line x1="159.3" y1="430.5" x2="160.4" y2="430.5" stroke="#666" stroke-width="0.5"/>
<line x1="158.2" y1="428.5" x2="160.4" y2="428.5" stroke="#333" stroke-width="0.7"/>
<text x="151.2" y="431.24" font-size="4.7" text-anchor="middle" font-weight="bold" fill="#1a1a1a" stroke="#1a1a1a" stroke-width="0.22">10</text>
<text x="154.11" y="427.48" font-size="4" font-weight="bold" fill="#1a1a1a" stroke="#1a1a1a" stroke-width="0.15">2</text>
<line x1="159.3" y1="422.5" x2="160.4" y2="422.5" stroke="#666" stroke-width="0.5"/>
<line x1="159.3" y1="417.5" x2="160.4" y2="417.5" stroke="#666" stroke-width="0.5"/>
<line x1="159.3" y1="414.5" x2="160.4" y2="414.5" stroke="#666" stroke-width="0.5"/>
<line x1="159.3" y1="412.5" x2="160.4" y2="412.5" stroke="#666" stroke-width="0.5"/>
<line x1="158.2" y1="410.5" x2="160.4" y2="410.5" stroke="#333" stroke-width="0.7"/>
<text x="151.2" y="413.34" font-size="4.7" text-anchor="middle" font-weight="bold" fill="#1a1a1a" stroke="#1a1a1a" stroke-width="0.22">10</text>
<text x="154.11" y="409.58" font-size="4" font-weight="bold" fill="#1a1a1a" stroke="#1a1a1a" stroke-width="0.15">3</text>
<line x1="159.3" y1="405.5" x2="160.4" y2="405.5" stroke="#666" stroke-width="0.5"/>
<line x1="159.3" y1="399.5" x2="160.4" y2="399.5" stroke="#666" stroke-width="0.5"/>
<line x1="159.3" y1="396.5" x2="160.4" y2="396.5" stroke="#666" stroke-width="0.5"/>
<line x1="159.3" y1="394.5" x2="160.4" y2="394.5" stroke="#666" stroke-width="0.5"/>
<line x1="158.2" y1="392.5" x2="160.4" y2="392.5" stroke="#333" stroke-width="0.7"/>
<text x="151.2" y="395.44" font-size="4.7" text-anchor="middle" font-weight="bold" fill="#1a1a1a" stroke="#1a1a1a" stroke-width="0.22">10</text>
<text x="154.11" y="391.69" font-size="4" font-weight="bold" fill="#1a1a1a" stroke="#1a1a1a" stroke-width="0.15">4</text>
<line x1="159.3" y1="387.5" x2="160.4" y2="387.5" stroke="#666" stroke-width="0.5"/>
<line x1="159.3" y1="381.5" x2="160.4" y2="381.5" stroke="#666" stroke-width="0.5"/>
<line x1="159.3" y1="378.5" x2="160.4" y2="378.5" stroke="#666" stroke-width="0.5"/>
<line x1="159.3" y1="376.5" x2="160.4" y2="376.5" stroke="#666" stroke-width="0.5"/>
<line x1="158.2" y1="374.5" x2="160.4" y2="374.5" stroke="#333" stroke-width="0.7"/>
<text x="151.2" y="377.54" font-size="4.7" text-anchor="middle" font-weight="bold" fill="#1a1a1a" stroke="#1a1a1a" stroke-width="0.22">10</text>
<text x="154.11" y="373.78" font-size="4" font-weight="bold" fill="#1a1a1a" stroke="#1a1a1a" stroke-width="0.15">5</text>
<text x="168.7" y="464.24" font-size="4.7" text-anchor="middle" font-weight="bold" fill="#1a1a1a" stroke="#1a1a1a" stroke-width="0.22">10</text>
<text x="171.61" y="460.48" font-size="4" font-weight="bold" fill="#1a1a1a" stroke="#1a1a1a" stroke-width="0.15">1</text>
<text x="196.1" y="464.24" font-size="4.7" text-anchor="middle" font-weight="bold" fill="#1a1a1a" stroke="#1a1a1a" stroke-width="0.22">10</text>
<text x="199.01" y="460.48" font-size="4" font-weight="bold" fill="#1a1a1a" stroke="#1a1a1a" stroke-width="0.15">3</text>
<text x="223.3" y="464.24" font-size="4.7" text-anchor="middle" font-weight="bold" fill="#1a1a1a" stroke="#1a1a1a" stroke-width="0.22">10</text>
<text x="226.21" y="460.48" font-size="4" font-weight="bold" fill="#1a1a1a" stroke="#1a1a1a" stroke-width="0.15">5</text>
<line x1="162.5" y1="454.3" x2="162.5" y2="456.3" stroke="#444" stroke-width="0.6"/>
<line x1="166.5" y1="454.3" x2="166.5" y2="455.3" stroke="#777" stroke-width="0.5"/>
<line x1="171.5" y1="454.3" x2="171.5" y2="455.3" stroke="#777" stroke-width="0.5"/>
<line x1="174.5" y1="454.3" x2="174.5" y2="455.3" stroke="#777" stroke-width="0.5"/>
<line x1="176.5" y1="454.3" x2="176.5" y2="456.3" stroke="#444" stroke-width="0.6"/>
<line x1="180.5" y1="454.3" x2="180.5" y2="455.3" stroke="#777" stroke-width="0.5"/>
<line x1="185.5" y1="454.3" x2="185.5" y2="455.3" stroke="#777" stroke-width="0.5"/>
<line x1="188.5" y1="454.3" x2="188.5" y2="455.3" stroke="#777" stroke-width="0.5"/>
<line x1="189.5" y1="454.3" x2="189.5" y2="456.3" stroke="#444" stroke-width="0.6"/>
<line x1="193.5" y1="454.3" x2="193.5" y2="455.3" stroke="#777" stroke-width="0.5"/>
<line x1="199.5" y1="454.3" x2="199.5" y2="455.3" stroke="#777" stroke-width="0.5"/>
<line x1="202.5" y1="454.3" x2="202.5" y2="455.3" stroke="#777" stroke-width="0.5"/>
<line x1="203.5" y1="454.3" x2="203.5" y2="456.3" stroke="#444" stroke-width="0.6"/>
<line x1="207.5" y1="454.3" x2="207.5" y2="455.3" stroke="#777" stroke-width="0.5"/>
<line x1="213.5" y1="454.3" x2="213.5" y2="455.3" stroke="#777" stroke-width="0.5"/>
<line x1="215.5" y1="454.3" x2="215.5" y2="455.3" stroke="#777" stroke-width="0.5"/>
<line x1="217.5" y1="454.3" x2="217.5" y2="456.3" stroke="#444" stroke-width="0.6"/>
<line x1="221.5" y1="454.3" x2="221.5" y2="455.3" stroke="#777" stroke-width="0.5"/>
<line x1="226.5" y1="454.3" x2="226.5" y2="455.3" stroke="#777" stroke-width="0.5"/>
<line x1="229.5" y1="454.3" x2="229.5" y2="455.3" stroke="#777" stroke-width="0.5"/>
<line x1="230.5" y1="454.3" x2="230.5" y2="456.3" stroke="#444" stroke-width="0.6"/>
<line x1="235.5" y1="454.3" x2="235.5" y2="455.3" stroke="#777" stroke-width="0.5"/>
<line x1="240.5" y1="454.3" x2="240.5" y2="455.3" stroke="#777" stroke-width="0.5"/>
<line x1="243.5" y1="454.3" x2="243.5" y2="455.3" stroke="#777" stroke-width="0.5"/>
<line x1="244.5" y1="454.3" x2="244.5" y2="456.3" stroke="#444" stroke-width="0.6"/>
<ellipse cx="204" cy="408.5" rx="17" ry="8" fill="#000" opacity="0.08" filter="url(#bl3)"/>
<ellipse cx="204.33" cy="408.32" rx="14.87" ry="7.13" fill="#000" opacity="0.1" filter="url(#bl3)"/>
<ellipse cx="204.67" cy="408.13" rx="12.73" ry="6.27" fill="#000" opacity="0.12" filter="url(#bl2)"/>
<ellipse cx="205" cy="407.95" rx="10.6" ry="5.4" fill="#000" opacity="0.16" filter="url(#bl2)"/>
<ellipse cx="205.33" cy="407.77" rx="8.47" ry="4.53" fill="#000" opacity="0.26" filter="url(#bl2)"/>
<ellipse cx="205.67" cy="407.58" rx="6.33" ry="3.67" fill="#000" opacity="0.45" filter="url(#bl4)"/>
<ellipse cx="206" cy="407.4" rx="4.2" ry="2.8" fill="#000" opacity="0.9" filter="url(#bl4)"/>
<ellipse cx="185.2" cy="409.6" rx="4" ry="3.5" fill="#000" opacity="0.3" filter="url(#bl2)"/>
<ellipse cx="190.3" cy="416.5" rx="3.2" ry="2.4" fill="#000" opacity="0.25" filter="url(#bl2)"/>
<ellipse cx="194.6" cy="409.1" rx="4" ry="3.5" fill="#000" opacity="0.4" filter="url(#bl2)"/>
<ellipse cx="212" cy="407.2" rx="4" ry="2.6" fill="#000" opacity="0.5" filter="url(#bl4)"/>
<ellipse cx="220" cy="404" rx="2.5" ry="1.8" fill="#000" opacity="0.18" filter="url(#bl2)"/>
<ellipse cx="195.5" cy="403.5" rx="3" ry="2.5" fill="#000" opacity="0.22" filter="url(#bl2)"/>
<ellipse cx="200" cy="414" rx="3.5" ry="2.8" fill="#000" opacity="0.28" filter="url(#bl2)"/>
<ellipse cx="190" cy="413" rx="3" ry="2.5" fill="#000" opacity="0.22" filter="url(#bl2)"/>
<ellipse cx="213" cy="403" rx="3" ry="2.5" fill="#000" opacity="0.35" filter="url(#bl2)"/>
<ellipse cx="216" cy="412" rx="3" ry="2.5" fill="#000" opacity="0.3" filter="url(#bl2)"/>
<ellipse cx="208" cy="413" rx="3" ry="2.5" fill="#000" opacity="0.4" filter="url(#bl2)"/>
<line x1="205.5" y1="366.4" x2="205.5" y2="454.3" stroke="#222" stroke-width="1"/>
<line x1="160.4" y1="423.5" x2="248.1" y2="423.5" stroke="#222" stroke-width="1"/>
<text x="162.7" y="377.8" font-size="8.8" fill="#222" stroke="#222" stroke-width="0.22" letter-spacing="0.2">50.3</text>
<text x="244.8" y="377.8" font-size="8.8" text-anchor="end" fill="#222" stroke="#222" stroke-width="0.22" letter-spacing="0.2">49.0</text>
<text x="162.7" y="447.8" font-size="8.8" fill="#222" stroke="#222" stroke-width="0.22" letter-spacing="0.2">0.00</text>
<text x="244.1" y="447.8" font-size="8.8" text-anchor="end" fill="#222" stroke="#222" stroke-width="0.22" letter-spacing="0.2">0.00</text>
<rect x="271.5" y="366.5" width="88" height="88" fill="none" stroke="#8a8a8a" stroke-width="0.9"/>
<line x1="271.5" y1="366" x2="271.5" y2="454.7" stroke="#333" stroke-width="1"/>
<line x1="271.5" y1="454.5" x2="359.2" y2="454.5" stroke="#333" stroke-width="1"/>
<line x1="269.7" y1="446.5" x2="271.9" y2="446.5" stroke="#333" stroke-width="0.7"/>
<text x="262.7" y="449.14" font-size="4.7" text-anchor="middle" font-weight="bold" fill="#1a1a1a" stroke="#1a1a1a" stroke-width="0.22">10</text>
<text x="265.61" y="445.38" font-size="4" font-weight="bold" fill="#1a1a1a" stroke="#1a1a1a" stroke-width="0.15">1</text>
<line x1="270.8" y1="440.5" x2="271.9" y2="440.5" stroke="#666" stroke-width="0.5"/>
<line x1="270.8" y1="435.5" x2="271.9" y2="435.5" stroke="#666" stroke-width="0.5"/>
<line x1="270.8" y1="432.5" x2="271.9" y2="432.5" stroke="#666" stroke-width="0.5"/>
<line x1="270.8" y1="430.5" x2="271.9" y2="430.5" stroke="#666" stroke-width="0.5"/>
<line x1="269.7" y1="428.5" x2="271.9" y2="428.5" stroke="#333" stroke-width="0.7"/>
<text x="262.7" y="431.24" font-size="4.7" text-anchor="middle" font-weight="bold" fill="#1a1a1a" stroke="#1a1a1a" stroke-width="0.22">10</text>
<text x="265.61" y="427.48" font-size="4" font-weight="bold" fill="#1a1a1a" stroke="#1a1a1a" stroke-width="0.15">2</text>
<line x1="270.8" y1="422.5" x2="271.9" y2="422.5" stroke="#666" stroke-width="0.5"/>
<line x1="270.8" y1="417.5" x2="271.9" y2="417.5" stroke="#666" stroke-width="0.5"/>
<line x1="270.8" y1="414.5" x2="271.9" y2="414.5" stroke="#666" stroke-width="0.5"/>
<line x1="270.8" y1="412.5" x2="271.9" y2="412.5" stroke="#666" stroke-width="0.5"/>
<line x1="269.7" y1="410.5" x2="271.9" y2="410.5" stroke="#333" stroke-width="0.7"/>
<text x="262.7" y="413.34" font-size="4.7" text-anchor="middle" font-weight="bold" fill="#1a1a1a" stroke="#1a1a1a" stroke-width="0.22">10</text>
<text x="265.61" y="409.58" font-size="4" font-weight="bold" fill="#1a1a1a" stroke="#1a1a1a" stroke-width="0.15">3</text>
<line x1="270.8" y1="405.5" x2="271.9" y2="405.5" stroke="#666" stroke-width="0.5"/>
<line x1="270.8" y1="399.5" x2="271.9" y2="399.5" stroke="#666" stroke-width="0.5"/>
<line x1="270.8" y1="396.5" x2="271.9" y2="396.5" stroke="#666" stroke-width="0.5"/>
<line x1="270.8" y1="394.5" x2="271.9" y2="394.5" stroke="#666" stroke-width="0.5"/>
<line x1="269.7" y1="392.5" x2="271.9" y2="392.5" stroke="#333" stroke-width="0.7"/>
<text x="262.7" y="395.44" font-size="4.7" text-anchor="middle" font-weight="bold" fill="#1a1a1a" stroke="#1a1a1a" stroke-width="0.22">10</text>
<text x="265.61" y="391.69" font-size="4" font-weight="bold" fill="#1a1a1a" stroke="#1a1a1a" stroke-width="0.15">4</text>
<line x1="270.8" y1="387.5" x2="271.9" y2="387.5" stroke="#666" stroke-width="0.5"/>
<line x1="270.8" y1="381.5" x2="271.9" y2="381.5" stroke="#666" stroke-width="0.5"/>
<line x1="270.8" y1="378.5" x2="271.9" y2="378.5" stroke="#666" stroke-width="0.5"/>
<line x1="270.8" y1="376.5" x2="271.9" y2="376.5" stroke="#666" stroke-width="0.5"/>
<line x1="269.7" y1="374.5" x2="271.9" y2="374.5" stroke="#333" stroke-width="0.7"/>
<text x="262.7" y="377.54" font-size="4.7" text-anchor="middle" font-weight="bold" fill="#1a1a1a" stroke="#1a1a1a" stroke-width="0.22">10</text>
<text x="265.61" y="373.78" font-size="4" font-weight="bold" fill="#1a1a1a" stroke="#1a1a1a" stroke-width="0.15">5</text>
<text x="280.2" y="464.24" font-size="4.7" text-anchor="middle" font-weight="bold" fill="#1a1a1a" stroke="#1a1a1a" stroke-width="0.22">10</text>
<text x="283.11" y="460.48" font-size="4" font-weight="bold" fill="#1a1a1a" stroke="#1a1a1a" stroke-width="0.15">1</text>
<text x="307.6" y="464.24" font-size="4.7" text-anchor="middle" font-weight="bold" fill="#1a1a1a" stroke="#1a1a1a" stroke-width="0.22">10</text>
<text x="310.51" y="460.48" font-size="4" font-weight="bold" fill="#1a1a1a" stroke="#1a1a1a" stroke-width="0.15">3</text>
<text x="334.8" y="464.24" font-size="4.7" text-anchor="middle" font-weight="bold" fill="#1a1a1a" stroke="#1a1a1a" stroke-width="0.22">10</text>
<text x="337.71" y="460.48" font-size="4" font-weight="bold" fill="#1a1a1a" stroke="#1a1a1a" stroke-width="0.15">5</text>
<line x1="273.5" y1="454.3" x2="273.5" y2="456.3" stroke="#444" stroke-width="0.6"/>
<line x1="278.5" y1="454.3" x2="278.5" y2="455.3" stroke="#777" stroke-width="0.5"/>
<line x1="283.5" y1="454.3" x2="283.5" y2="455.3" stroke="#777" stroke-width="0.5"/>
<line x1="286.5" y1="454.3" x2="286.5" y2="455.3" stroke="#777" stroke-width="0.5"/>
<line x1="287.5" y1="454.3" x2="287.5" y2="456.3" stroke="#444" stroke-width="0.6"/>
<line x1="291.5" y1="454.3" x2="291.5" y2="455.3" stroke="#777" stroke-width="0.5"/>
<line x1="297.5" y1="454.3" x2="297.5" y2="455.3" stroke="#777" stroke-width="0.5"/>
<line x1="299.5" y1="454.3" x2="299.5" y2="455.3" stroke="#777" stroke-width="0.5"/>
<line x1="301.5" y1="454.3" x2="301.5" y2="456.3" stroke="#444" stroke-width="0.6"/>
<line x1="305.5" y1="454.3" x2="305.5" y2="455.3" stroke="#777" stroke-width="0.5"/>
<line x1="310.5" y1="454.3" x2="310.5" y2="455.3" stroke="#777" stroke-width="0.5"/>
<line x1="313.5" y1="454.3" x2="313.5" y2="455.3" stroke="#777" stroke-width="0.5"/>
<line x1="315.5" y1="454.3" x2="315.5" y2="456.3" stroke="#444" stroke-width="0.6"/>
<line x1="319.5" y1="454.3" x2="319.5" y2="455.3" stroke="#777" stroke-width="0.5"/>
<line x1="324.5" y1="454.3" x2="324.5" y2="455.3" stroke="#777" stroke-width="0.5"/>
<line x1="327.5" y1="454.3" x2="327.5" y2="455.3" stroke="#777" stroke-width="0.5"/>
<line x1="328.5" y1="454.3" x2="328.5" y2="456.3" stroke="#444" stroke-width="0.6"/>
<line x1="332.5" y1="454.3" x2="332.5" y2="455.3" stroke="#777" stroke-width="0.5"/>
<line x1="338.5" y1="454.3" x2="338.5" y2="455.3" stroke="#777" stroke-width="0.5"/>
<line x1="341.5" y1="454.3" x2="341.5" y2="455.3" stroke="#777" stroke-width="0.5"/>
<line x1="342.5" y1="454.3" x2="342.5" y2="456.3" stroke="#444" stroke-width="0.6"/>
<line x1="346.5" y1="454.3" x2="346.5" y2="455.3" stroke="#777" stroke-width="0.5"/>
<line x1="351.5" y1="454.3" x2="351.5" y2="455.3" stroke="#777" stroke-width="0.5"/>
<line x1="354.5" y1="454.3" x2="354.5" y2="455.3" stroke="#777" stroke-width="0.5"/>
<line x1="356.5" y1="454.3" x2="356.5" y2="456.3" stroke="#444" stroke-width="0.6"/>
<ellipse cx="314.4" cy="409.6" rx="21" ry="9.5" fill="#000" opacity="0.1" filter="url(#bl3)"/>
<ellipse cx="315.63" cy="409.23" rx="18.33" ry="8.35" fill="#000" opacity="0.12" filter="url(#bl3)"/>
<ellipse cx="316.87" cy="408.87" rx="15.67" ry="7.2" fill="#000" opacity="0.15" filter="url(#bl2)"/>
<ellipse cx="318.1" cy="408.5" rx="13" ry="6.05" fill="#000" opacity="0.2" filter="url(#bl2)"/>
<ellipse cx="319.33" cy="408.13" rx="10.33" ry="4.9" fill="#000" opacity="0.32" filter="url(#bl2)"/>
<ellipse cx="320.57" cy="407.77" rx="7.67" ry="3.75" fill="#000" opacity="0.5" filter="url(#bl4)"/>
<ellipse cx="321.8" cy="407.4" rx="5" ry="2.6" fill="#000" opacity="0.9" filter="url(#bl4)"/>
<ellipse cx="272.8" cy="409.5" rx="1.2" ry="3" fill="#000" opacity="0.3" filter="url(#bl4)"/>
<line x1="316.5" y1="366.4" x2="316.5" y2="454.3" stroke="#222" stroke-width="1"/>
<line x1="271.9" y1="423.5" x2="359.2" y2="423.5" stroke="#222" stroke-width="1"/>
<text x="274.2" y="377.8" font-size="8.8" fill="#222" stroke="#222" stroke-width="0.22" letter-spacing="0.2">47.7</text>
<text x="355.9" y="377.8" font-size="8.8" text-anchor="end" fill="#222" stroke="#222" stroke-width="0.22" letter-spacing="0.2">52.3</text>
<text x="274.2" y="447.8" font-size="8.8" fill="#222" stroke="#222" stroke-width="0.22" letter-spacing="0.2">0.00</text>
<text x="355.2" y="447.8" font-size="8.8" text-anchor="end" fill="#222" stroke="#222" stroke-width="0.22" letter-spacing="0.2">0.00</text>
<rect x="387.5" y="366.5" width="88" height="88" fill="none" stroke="#8a8a8a" stroke-width="0.9"/>
<line x1="387.5" y1="366" x2="387.5" y2="454.7" stroke="#333" stroke-width="1"/>
<line x1="386.8" y1="454.5" x2="475.1" y2="454.5" stroke="#333" stroke-width="1"/>
<line x1="385" y1="446.5" x2="387.2" y2="446.5" stroke="#333" stroke-width="0.7"/>
<text x="378" y="449.14" font-size="4.7" text-anchor="middle" font-weight="bold" fill="#1a1a1a" stroke="#1a1a1a" stroke-width="0.22">10</text>
<text x="380.91" y="445.38" font-size="4" font-weight="bold" fill="#1a1a1a" stroke="#1a1a1a" stroke-width="0.15">1</text>
<line x1="386.1" y1="440.5" x2="387.2" y2="440.5" stroke="#666" stroke-width="0.5"/>
<line x1="386.1" y1="435.5" x2="387.2" y2="435.5" stroke="#666" stroke-width="0.5"/>
<line x1="386.1" y1="432.5" x2="387.2" y2="432.5" stroke="#666" stroke-width="0.5"/>
<line x1="386.1" y1="430.5" x2="387.2" y2="430.5" stroke="#666" stroke-width="0.5"/>
<line x1="385" y1="428.5" x2="387.2" y2="428.5" stroke="#333" stroke-width="0.7"/>
<text x="378" y="431.24" font-size="4.7" text-anchor="middle" font-weight="bold" fill="#1a1a1a" stroke="#1a1a1a" stroke-width="0.22">10</text>
<text x="380.91" y="427.48" font-size="4" font-weight="bold" fill="#1a1a1a" stroke="#1a1a1a" stroke-width="0.15">2</text>
<line x1="386.1" y1="422.5" x2="387.2" y2="422.5" stroke="#666" stroke-width="0.5"/>
<line x1="386.1" y1="417.5" x2="387.2" y2="417.5" stroke="#666" stroke-width="0.5"/>
<line x1="386.1" y1="414.5" x2="387.2" y2="414.5" stroke="#666" stroke-width="0.5"/>
<line x1="386.1" y1="412.5" x2="387.2" y2="412.5" stroke="#666" stroke-width="0.5"/>
<line x1="385" y1="410.5" x2="387.2" y2="410.5" stroke="#333" stroke-width="0.7"/>
<text x="378" y="413.34" font-size="4.7" text-anchor="middle" font-weight="bold" fill="#1a1a1a" stroke="#1a1a1a" stroke-width="0.22">10</text>
<text x="380.91" y="409.58" font-size="4" font-weight="bold" fill="#1a1a1a" stroke="#1a1a1a" stroke-width="0.15">3</text>
<line x1="386.1" y1="405.5" x2="387.2" y2="405.5" stroke="#666" stroke-width="0.5"/>
<line x1="386.1" y1="399.5" x2="387.2" y2="399.5" stroke="#666" stroke-width="0.5"/>
<line x1="386.1" y1="396.5" x2="387.2" y2="396.5" stroke="#666" stroke-width="0.5"/>
<line x1="386.1" y1="394.5" x2="387.2" y2="394.5" stroke="#666" stroke-width="0.5"/>
<line x1="385" y1="392.5" x2="387.2" y2="392.5" stroke="#333" stroke-width="0.7"/>
<text x="378" y="395.44" font-size="4.7" text-anchor="middle" font-weight="bold" fill="#1a1a1a" stroke="#1a1a1a" stroke-width="0.22">10</text>
<text x="380.91" y="391.69" font-size="4" font-weight="bold" fill="#1a1a1a" stroke="#1a1a1a" stroke-width="0.15">4</text>
<line x1="386.1" y1="387.5" x2="387.2" y2="387.5" stroke="#666" stroke-width="0.5"/>
<line x1="386.1" y1="381.5" x2="387.2" y2="381.5" stroke="#666" stroke-width="0.5"/>
<line x1="386.1" y1="378.5" x2="387.2" y2="378.5" stroke="#666" stroke-width="0.5"/>
<line x1="386.1" y1="376.5" x2="387.2" y2="376.5" stroke="#666" stroke-width="0.5"/>
<line x1="385" y1="374.5" x2="387.2" y2="374.5" stroke="#333" stroke-width="0.7"/>
<text x="378" y="377.54" font-size="4.7" text-anchor="middle" font-weight="bold" fill="#1a1a1a" stroke="#1a1a1a" stroke-width="0.22">10</text>
<text x="380.91" y="373.78" font-size="4" font-weight="bold" fill="#1a1a1a" stroke="#1a1a1a" stroke-width="0.15">5</text>
<text x="395.5" y="464.24" font-size="4.7" text-anchor="middle" font-weight="bold" fill="#1a1a1a" stroke="#1a1a1a" stroke-width="0.22">10</text>
<text x="398.41" y="460.48" font-size="4" font-weight="bold" fill="#1a1a1a" stroke="#1a1a1a" stroke-width="0.15">1</text>
<text x="422.9" y="464.24" font-size="4.7" text-anchor="middle" font-weight="bold" fill="#1a1a1a" stroke="#1a1a1a" stroke-width="0.22">10</text>
<text x="425.81" y="460.48" font-size="4" font-weight="bold" fill="#1a1a1a" stroke="#1a1a1a" stroke-width="0.15">3</text>
<text x="450.1" y="464.24" font-size="4.7" text-anchor="middle" font-weight="bold" fill="#1a1a1a" stroke="#1a1a1a" stroke-width="0.22">10</text>
<text x="453.01" y="460.48" font-size="4" font-weight="bold" fill="#1a1a1a" stroke="#1a1a1a" stroke-width="0.15">5</text>
<line x1="389.5" y1="454.3" x2="389.5" y2="456.3" stroke="#444" stroke-width="0.6"/>
<line x1="393.5" y1="454.3" x2="393.5" y2="455.3" stroke="#777" stroke-width="0.5"/>
<line x1="398.5" y1="454.3" x2="398.5" y2="455.3" stroke="#777" stroke-width="0.5"/>
<line x1="401.5" y1="454.3" x2="401.5" y2="455.3" stroke="#777" stroke-width="0.5"/>
<line x1="402.5" y1="454.3" x2="402.5" y2="456.3" stroke="#444" stroke-width="0.6"/>
<line x1="407.5" y1="454.3" x2="407.5" y2="455.3" stroke="#777" stroke-width="0.5"/>
<line x1="412.5" y1="454.3" x2="412.5" y2="455.3" stroke="#777" stroke-width="0.5"/>
<line x1="415.5" y1="454.3" x2="415.5" y2="455.3" stroke="#777" stroke-width="0.5"/>
<line x1="416.5" y1="454.3" x2="416.5" y2="456.3" stroke="#444" stroke-width="0.6"/>
<line x1="420.5" y1="454.3" x2="420.5" y2="455.3" stroke="#777" stroke-width="0.5"/>
<line x1="426.5" y1="454.3" x2="426.5" y2="455.3" stroke="#777" stroke-width="0.5"/>
<line x1="428.5" y1="454.3" x2="428.5" y2="455.3" stroke="#777" stroke-width="0.5"/>
<line x1="430.5" y1="454.3" x2="430.5" y2="456.3" stroke="#444" stroke-width="0.6"/>
<line x1="434.5" y1="454.3" x2="434.5" y2="455.3" stroke="#777" stroke-width="0.5"/>
<line x1="439.5" y1="454.3" x2="439.5" y2="455.3" stroke="#777" stroke-width="0.5"/>
<line x1="442.5" y1="454.3" x2="442.5" y2="455.3" stroke="#777" stroke-width="0.5"/>
<line x1="444.5" y1="454.3" x2="444.5" y2="456.3" stroke="#444" stroke-width="0.6"/>
<line x1="448.5" y1="454.3" x2="448.5" y2="455.3" stroke="#777" stroke-width="0.5"/>
<line x1="453.5" y1="454.3" x2="453.5" y2="455.3" stroke="#777" stroke-width="0.5"/>
<line x1="456.5" y1="454.3" x2="456.5" y2="455.3" stroke="#777" stroke-width="0.5"/>
<line x1="457.5" y1="454.3" x2="457.5" y2="456.3" stroke="#444" stroke-width="0.6"/>
<line x1="461.5" y1="454.3" x2="461.5" y2="455.3" stroke="#777" stroke-width="0.5"/>
<line x1="467.5" y1="454.3" x2="467.5" y2="455.3" stroke="#777" stroke-width="0.5"/>
<line x1="470.5" y1="454.3" x2="470.5" y2="455.3" stroke="#777" stroke-width="0.5"/>
<line x1="471.5" y1="454.3" x2="471.5" y2="456.3" stroke="#444" stroke-width="0.6"/>
<ellipse cx="428.3" cy="410" rx="18" ry="9.8" fill="#000" opacity="0.1" filter="url(#bl3)"/>
<ellipse cx="429.05" cy="409.65" rx="15.83" ry="8.58" fill="#000" opacity="0.12" filter="url(#bl3)"/>
<ellipse cx="429.8" cy="409.3" rx="13.67" ry="7.37" fill="#000" opacity="0.15" filter="url(#bl2)"/>
<ellipse cx="430.55" cy="408.95" rx="11.5" ry="6.15" fill="#000" opacity="0.2" filter="url(#bl2)"/>
<ellipse cx="431.3" cy="408.6" rx="9.33" ry="4.93" fill="#000" opacity="0.32" filter="url(#bl2)"/>
<ellipse cx="432.05" cy="408.25" rx="7.17" ry="3.72" fill="#000" opacity="0.5" filter="url(#bl4)"/>
<ellipse cx="432.8" cy="407.9" rx="5" ry="2.5" fill="#000" opacity="0.9" filter="url(#bl4)"/>
<ellipse cx="421" cy="409" rx="5" ry="3.5" fill="#000" opacity="0.35" filter="url(#bl2)"/>
<ellipse cx="388.3" cy="409.5" rx="1.2" ry="3" fill="#000" opacity="0.3" filter="url(#bl4)"/>
<line x1="432.5" y1="366.4" x2="432.5" y2="454.3" stroke="#222" stroke-width="1"/>
<line x1="387.2" y1="423.5" x2="475.1" y2="423.5" stroke="#222" stroke-width="1"/>
<text x="389.5" y="377.8" font-size="8.8" fill="#222" stroke="#222" stroke-width="0.22" letter-spacing="0.2">60.6</text>
<text x="471.8" y="377.8" font-size="8.8" text-anchor="end" fill="#222" stroke="#222" stroke-width="0.22" letter-spacing="0.2">59.4</text>
<text x="389.5" y="447.8" font-size="8.8" fill="#222" stroke="#222" stroke-width="0.22" letter-spacing="0.2">0.00</text>
<text x="471.1" y="447.8" font-size="8.8" text-anchor="end" fill="#222" stroke="#222" stroke-width="0.22" letter-spacing="0.2">0.00</text>
<line x1="13.5" y1="353.8" x2="13.5" y2="385.8" stroke="#1a1a1a" stroke-width="1"/>
<path d="M13.9 347.8 L11.6 355.3 L16.2 355.3Z" fill="#111"/>
<text x="17.9" y="455.3" font-size="9.8" stroke="#111" stroke-width="0.22" transform="rotate(-90 17.9 455.3)">CD45RO-PE</text>
<text x="28.4" y="482.2" font-size="9.7" stroke="#111" stroke-width="0.22">CD62L-BV421</text>
<line x1="100" y1="478.5" x2="462.7" y2="478.5" stroke="#1a1a1a" stroke-width="1"/>
<path d="M468.7 478.8 L461.2 476.5 L461.2 481.1Z" fill="#111"/>
<text x="0.4" y="495.9" font-size="15" font-weight="bold" fill="#000" stroke="#000" stroke-width="0.13">D</text>
<text x="18.3" y="499.9" font-size="11.2" stroke="#111" stroke-width="0.22">Spleen tissue/CD3+CD8+</text>
<text x="144.8" y="510.3" font-size="10.3" text-anchor="middle" stroke="#111" stroke-width="0.22" letter-spacing="0.15">UTD</text>
<text x="373.9" y="510.9" font-size="10.3" text-anchor="middle" stroke="#111" stroke-width="0.22" letter-spacing="0.35">Tcr-T1</text>
<line x1="46" y1="513.9" x2="243.6" y2="513.9" stroke="#555" stroke-width="1.6"/>
<line x1="274.9" y1="513.9" x2="472.9" y2="513.9" stroke="#555" stroke-width="1.6"/>
<text x="87.05" y="524.1" font-size="9.8" text-anchor="middle" stroke="#111" stroke-width="0.22">SYT-SSX ΔPep-4/2402</text>
<text x="205" y="524.1" font-size="9.8" text-anchor="middle" stroke="#111" stroke-width="0.22">SYT-SSX Pep-4/2402</text>
<text x="316.5" y="524.1" font-size="9.8" text-anchor="middle" stroke="#111" stroke-width="0.22">SYT-SSX ΔPep-4/2402</text>
<text x="431.2" y="524.1" font-size="9.8" text-anchor="middle" stroke="#111" stroke-width="0.22">SYT-SSX Pep-4/2402</text>
<rect x="44.5" y="527.5" width="87" height="88" fill="none" stroke="#8a8a8a" stroke-width="0.9"/>
<line x1="44.5" y1="527.1" x2="44.5" y2="615.6" stroke="#333" stroke-width="1"/>
<line x1="44" y1="615.5" x2="131.7" y2="615.5" stroke="#333" stroke-width="1"/>
<line x1="42.2" y1="607.5" x2="44.4" y2="607.5" stroke="#333" stroke-width="0.7"/>
<text x="35.2" y="610.24" font-size="4.7" text-anchor="middle" font-weight="bold" fill="#1a1a1a" stroke="#1a1a1a" stroke-width="0.22">10</text>
<text x="38.11" y="606.48" font-size="4" font-weight="bold" fill="#1a1a1a" stroke="#1a1a1a" stroke-width="0.15">1</text>
<line x1="43.3" y1="601.5" x2="44.4" y2="601.5" stroke="#666" stroke-width="0.5"/>
<line x1="43.3" y1="596.5" x2="44.4" y2="596.5" stroke="#666" stroke-width="0.5"/>
<line x1="43.3" y1="593.5" x2="44.4" y2="593.5" stroke="#666" stroke-width="0.5"/>
<line x1="43.3" y1="591.5" x2="44.4" y2="591.5" stroke="#666" stroke-width="0.5"/>
<line x1="42.2" y1="589.5" x2="44.4" y2="589.5" stroke="#333" stroke-width="0.7"/>
<text x="35.2" y="592.34" font-size="4.7" text-anchor="middle" font-weight="bold" fill="#1a1a1a" stroke="#1a1a1a" stroke-width="0.22">10</text>
<text x="38.11" y="588.58" font-size="4" font-weight="bold" fill="#1a1a1a" stroke="#1a1a1a" stroke-width="0.15">2</text>
<line x1="43.3" y1="584.5" x2="44.4" y2="584.5" stroke="#666" stroke-width="0.5"/>
<line x1="43.3" y1="578.5" x2="44.4" y2="578.5" stroke="#666" stroke-width="0.5"/>
<line x1="43.3" y1="575.5" x2="44.4" y2="575.5" stroke="#666" stroke-width="0.5"/>
<line x1="43.3" y1="573.5" x2="44.4" y2="573.5" stroke="#666" stroke-width="0.5"/>
<line x1="42.2" y1="571.5" x2="44.4" y2="571.5" stroke="#333" stroke-width="0.7"/>
<text x="35.2" y="574.44" font-size="4.7" text-anchor="middle" font-weight="bold" fill="#1a1a1a" stroke="#1a1a1a" stroke-width="0.22">10</text>
<text x="38.11" y="570.68" font-size="4" font-weight="bold" fill="#1a1a1a" stroke="#1a1a1a" stroke-width="0.15">3</text>
<line x1="43.3" y1="566.5" x2="44.4" y2="566.5" stroke="#666" stroke-width="0.5"/>
<line x1="43.3" y1="560.5" x2="44.4" y2="560.5" stroke="#666" stroke-width="0.5"/>
<line x1="43.3" y1="557.5" x2="44.4" y2="557.5" stroke="#666" stroke-width="0.5"/>
<line x1="43.3" y1="555.5" x2="44.4" y2="555.5" stroke="#666" stroke-width="0.5"/>
<line x1="42.2" y1="553.5" x2="44.4" y2="553.5" stroke="#333" stroke-width="0.7"/>
<text x="35.2" y="556.54" font-size="4.7" text-anchor="middle" font-weight="bold" fill="#1a1a1a" stroke="#1a1a1a" stroke-width="0.22">10</text>
<text x="38.11" y="552.78" font-size="4" font-weight="bold" fill="#1a1a1a" stroke="#1a1a1a" stroke-width="0.15">4</text>
<line x1="43.3" y1="548.5" x2="44.4" y2="548.5" stroke="#666" stroke-width="0.5"/>
<line x1="43.3" y1="542.5" x2="44.4" y2="542.5" stroke="#666" stroke-width="0.5"/>
<line x1="43.3" y1="539.5" x2="44.4" y2="539.5" stroke="#666" stroke-width="0.5"/>
<line x1="43.3" y1="537.5" x2="44.4" y2="537.5" stroke="#666" stroke-width="0.5"/>
<line x1="42.2" y1="535.5" x2="44.4" y2="535.5" stroke="#333" stroke-width="0.7"/>
<text x="35.2" y="538.64" font-size="4.7" text-anchor="middle" font-weight="bold" fill="#1a1a1a" stroke="#1a1a1a" stroke-width="0.22">10</text>
<text x="38.11" y="534.88" font-size="4" font-weight="bold" fill="#1a1a1a" stroke="#1a1a1a" stroke-width="0.15">5</text>
<text x="52.7" y="625.14" font-size="4.7" text-anchor="middle" font-weight="bold" fill="#1a1a1a" stroke="#1a1a1a" stroke-width="0.22">10</text>
<text x="55.61" y="621.38" font-size="4" font-weight="bold" fill="#1a1a1a" stroke="#1a1a1a" stroke-width="0.15">1</text>
<text x="80.1" y="625.14" font-size="4.7" text-anchor="middle" font-weight="bold" fill="#1a1a1a" stroke="#1a1a1a" stroke-width="0.22">10</text>
<text x="83.01" y="621.38" font-size="4" font-weight="bold" fill="#1a1a1a" stroke="#1a1a1a" stroke-width="0.15">3</text>
<text x="107.3" y="625.14" font-size="4.7" text-anchor="middle" font-weight="bold" fill="#1a1a1a" stroke="#1a1a1a" stroke-width="0.22">10</text>
<text x="110.21" y="621.38" font-size="4" font-weight="bold" fill="#1a1a1a" stroke="#1a1a1a" stroke-width="0.15">5</text>
<line x1="46.5" y1="615.2" x2="46.5" y2="617.2" stroke="#444" stroke-width="0.6"/>
<line x1="50.5" y1="615.2" x2="50.5" y2="616.2" stroke="#777" stroke-width="0.5"/>
<line x1="55.5" y1="615.2" x2="55.5" y2="616.2" stroke="#777" stroke-width="0.5"/>
<line x1="58.5" y1="615.2" x2="58.5" y2="616.2" stroke="#777" stroke-width="0.5"/>
<line x1="60.5" y1="615.2" x2="60.5" y2="617.2" stroke="#444" stroke-width="0.6"/>
<line x1="64.5" y1="615.2" x2="64.5" y2="616.2" stroke="#777" stroke-width="0.5"/>
<line x1="69.5" y1="615.2" x2="69.5" y2="616.2" stroke="#777" stroke-width="0.5"/>
<line x1="72.5" y1="615.2" x2="72.5" y2="616.2" stroke="#777" stroke-width="0.5"/>
<line x1="73.5" y1="615.2" x2="73.5" y2="617.2" stroke="#444" stroke-width="0.6"/>
<line x1="77.5" y1="615.2" x2="77.5" y2="616.2" stroke="#777" stroke-width="0.5"/>
<line x1="83.5" y1="615.2" x2="83.5" y2="616.2" stroke="#777" stroke-width="0.5"/>
<line x1="86.5" y1="615.2" x2="86.5" y2="616.2" stroke="#777" stroke-width="0.5"/>
<line x1="87.5" y1="615.2" x2="87.5" y2="617.2" stroke="#444" stroke-width="0.6"/>
<line x1="91.5" y1="615.2" x2="91.5" y2="616.2" stroke="#777" stroke-width="0.5"/>
<line x1="97.5" y1="615.2" x2="97.5" y2="616.2" stroke="#777" stroke-width="0.5"/>
<line x1="99.5" y1="615.2" x2="99.5" y2="616.2" stroke="#777" stroke-width="0.5"/>
<line x1="101.5" y1="615.2" x2="101.5" y2="617.2" stroke="#444" stroke-width="0.6"/>
<line x1="105.5" y1="615.2" x2="105.5" y2="616.2" stroke="#777" stroke-width="0.5"/>
<line x1="110.5" y1="615.2" x2="110.5" y2="616.2" stroke="#777" stroke-width="0.5"/>
<line x1="113.5" y1="615.2" x2="113.5" y2="616.2" stroke="#777" stroke-width="0.5"/>
<line x1="114.5" y1="615.2" x2="114.5" y2="617.2" stroke="#444" stroke-width="0.6"/>
<line x1="119.5" y1="615.2" x2="119.5" y2="616.2" stroke="#777" stroke-width="0.5"/>
<line x1="124.5" y1="615.2" x2="124.5" y2="616.2" stroke="#777" stroke-width="0.5"/>
<line x1="127.5" y1="615.2" x2="127.5" y2="616.2" stroke="#777" stroke-width="0.5"/>
<line x1="128.5" y1="615.2" x2="128.5" y2="617.2" stroke="#444" stroke-width="0.6"/>
<ellipse cx="81" cy="571.8" rx="28" ry="10.5" fill="#000" opacity="0.08" filter="url(#bl3)"/>
<ellipse cx="81.68" cy="571.53" rx="24.25" ry="9.13" fill="#000" opacity="0.08" filter="url(#bl3)"/>
<ellipse cx="82.37" cy="571.27" rx="20.5" ry="7.77" fill="#000" opacity="0.1" filter="url(#bl2)"/>
<ellipse cx="83.05" cy="571" rx="16.75" ry="6.4" fill="#000" opacity="0.14" filter="url(#bl2)"/>
<ellipse cx="83.73" cy="570.73" rx="13" ry="5.03" fill="#000" opacity="0.24" filter="url(#bl2)"/>
<ellipse cx="84.42" cy="570.47" rx="9.25" ry="3.67" fill="#000" opacity="0.45" filter="url(#bl4)"/>
<ellipse cx="85.1" cy="570.2" rx="5.5" ry="2.3" fill="#000" opacity="0.85" filter="url(#bl4)"/>
<ellipse cx="102.1" cy="574.7" rx="2.7" ry="2.7" fill="#000" opacity="0.85" filter="url(#bl4)"/>
<ellipse cx="54" cy="573" rx="2" ry="2" fill="#000" opacity="0.2" filter="url(#bl2)"/>
<ellipse cx="45.2" cy="570.2" rx="1.3" ry="6.5" fill="#000" opacity="0.95" filter="url(#bl4)"/>
<line x1="88.5" y1="527.5" x2="88.5" y2="615.2" stroke="#222" stroke-width="1"/>
<line x1="44.4" y1="584.5" x2="131.7" y2="584.5" stroke="#222" stroke-width="1"/>
<text x="46.7" y="538.9" font-size="8.8" fill="#222" stroke="#222" stroke-width="0.22" letter-spacing="0.2">62.8</text>
<text x="128.4" y="538.9" font-size="8.8" text-anchor="end" fill="#222" stroke="#222" stroke-width="0.22" letter-spacing="0.2">34.7</text>
<text x="46.7" y="608.7" font-size="8.8" fill="#222" stroke="#222" stroke-width="0.22" letter-spacing="0.2">0.17</text>
<text x="127.7" y="608.7" font-size="8.8" text-anchor="end" fill="#222" stroke="#222" stroke-width="0.22" letter-spacing="0.2">0.04</text>
<rect x="159.5" y="527.5" width="88" height="88" fill="none" stroke="#8a8a8a" stroke-width="0.9"/>
<line x1="159.5" y1="527.1" x2="159.5" y2="615.6" stroke="#333" stroke-width="1"/>
<line x1="159.2" y1="615.5" x2="247.4" y2="615.5" stroke="#333" stroke-width="1"/>
<line x1="157.4" y1="607.5" x2="159.6" y2="607.5" stroke="#333" stroke-width="0.7"/>
<text x="150.4" y="610.24" font-size="4.7" text-anchor="middle" font-weight="bold" fill="#1a1a1a" stroke="#1a1a1a" stroke-width="0.22">10</text>
<text x="153.31" y="606.48" font-size="4" font-weight="bold" fill="#1a1a1a" stroke="#1a1a1a" stroke-width="0.15">1</text>
<line x1="158.5" y1="601.5" x2="159.6" y2="601.5" stroke="#666" stroke-width="0.5"/>
<line x1="158.5" y1="596.5" x2="159.6" y2="596.5" stroke="#666" stroke-width="0.5"/>
<line x1="158.5" y1="593.5" x2="159.6" y2="593.5" stroke="#666" stroke-width="0.5"/>
<line x1="158.5" y1="591.5" x2="159.6" y2="591.5" stroke="#666" stroke-width="0.5"/>
<line x1="157.4" y1="589.5" x2="159.6" y2="589.5" stroke="#333" stroke-width="0.7"/>
<text x="150.4" y="592.34" font-size="4.7" text-anchor="middle" font-weight="bold" fill="#1a1a1a" stroke="#1a1a1a" stroke-width="0.22">10</text>
<text x="153.31" y="588.58" font-size="4" font-weight="bold" fill="#1a1a1a" stroke="#1a1a1a" stroke-width="0.15">2</text>
<line x1="158.5" y1="584.5" x2="159.6" y2="584.5" stroke="#666" stroke-width="0.5"/>
<line x1="158.5" y1="578.5" x2="159.6" y2="578.5" stroke="#666" stroke-width="0.5"/>
<line x1="158.5" y1="575.5" x2="159.6" y2="575.5" stroke="#666" stroke-width="0.5"/>
<line x1="158.5" y1="573.5" x2="159.6" y2="573.5" stroke="#666" stroke-width="0.5"/>
<line x1="157.4" y1="571.5" x2="159.6" y2="571.5" stroke="#333" stroke-width="0.7"/>
<text x="150.4" y="574.44" font-size="4.7" text-anchor="middle" font-weight="bold" fill="#1a1a1a" stroke="#1a1a1a" stroke-width="0.22">10</text>
<text x="153.31" y="570.68" font-size="4" font-weight="bold" fill="#1a1a1a" stroke="#1a1a1a" stroke-width="0.15">3</text>
<line x1="158.5" y1="566.5" x2="159.6" y2="566.5" stroke="#666" stroke-width="0.5"/>
<line x1="158.5" y1="560.5" x2="159.6" y2="560.5" stroke="#666" stroke-width="0.5"/>
<line x1="158.5" y1="557.5" x2="159.6" y2="557.5" stroke="#666" stroke-width="0.5"/>
<line x1="158.5" y1="555.5" x2="159.6" y2="555.5" stroke="#666" stroke-width="0.5"/>
<line x1="157.4" y1="553.5" x2="159.6" y2="553.5" stroke="#333" stroke-width="0.7"/>
<text x="150.4" y="556.54" font-size="4.7" text-anchor="middle" font-weight="bold" fill="#1a1a1a" stroke="#1a1a1a" stroke-width="0.22">10</text>
<text x="153.31" y="552.78" font-size="4" font-weight="bold" fill="#1a1a1a" stroke="#1a1a1a" stroke-width="0.15">4</text>
<line x1="158.5" y1="548.5" x2="159.6" y2="548.5" stroke="#666" stroke-width="0.5"/>
<line x1="158.5" y1="542.5" x2="159.6" y2="542.5" stroke="#666" stroke-width="0.5"/>
<line x1="158.5" y1="539.5" x2="159.6" y2="539.5" stroke="#666" stroke-width="0.5"/>
<line x1="158.5" y1="537.5" x2="159.6" y2="537.5" stroke="#666" stroke-width="0.5"/>
<line x1="157.4" y1="535.5" x2="159.6" y2="535.5" stroke="#333" stroke-width="0.7"/>
<text x="150.4" y="538.64" font-size="4.7" text-anchor="middle" font-weight="bold" fill="#1a1a1a" stroke="#1a1a1a" stroke-width="0.22">10</text>
<text x="153.31" y="534.88" font-size="4" font-weight="bold" fill="#1a1a1a" stroke="#1a1a1a" stroke-width="0.15">5</text>
<text x="167.9" y="625.14" font-size="4.7" text-anchor="middle" font-weight="bold" fill="#1a1a1a" stroke="#1a1a1a" stroke-width="0.22">10</text>
<text x="170.81" y="621.38" font-size="4" font-weight="bold" fill="#1a1a1a" stroke="#1a1a1a" stroke-width="0.15">1</text>
<text x="195.3" y="625.14" font-size="4.7" text-anchor="middle" font-weight="bold" fill="#1a1a1a" stroke="#1a1a1a" stroke-width="0.22">10</text>
<text x="198.21" y="621.38" font-size="4" font-weight="bold" fill="#1a1a1a" stroke="#1a1a1a" stroke-width="0.15">3</text>
<text x="222.5" y="625.14" font-size="4.7" text-anchor="middle" font-weight="bold" fill="#1a1a1a" stroke="#1a1a1a" stroke-width="0.22">10</text>
<text x="225.41" y="621.38" font-size="4" font-weight="bold" fill="#1a1a1a" stroke="#1a1a1a" stroke-width="0.15">5</text>
<line x1="161.5" y1="615.2" x2="161.5" y2="617.2" stroke="#444" stroke-width="0.6"/>
<line x1="165.5" y1="615.2" x2="165.5" y2="616.2" stroke="#777" stroke-width="0.5"/>
<line x1="171.5" y1="615.2" x2="171.5" y2="616.2" stroke="#777" stroke-width="0.5"/>
<line x1="173.5" y1="615.2" x2="173.5" y2="616.2" stroke="#777" stroke-width="0.5"/>
<line x1="175.5" y1="615.2" x2="175.5" y2="617.2" stroke="#444" stroke-width="0.6"/>
<line x1="179.5" y1="615.2" x2="179.5" y2="616.2" stroke="#777" stroke-width="0.5"/>
<line x1="184.5" y1="615.2" x2="184.5" y2="616.2" stroke="#777" stroke-width="0.5"/>
<line x1="187.5" y1="615.2" x2="187.5" y2="616.2" stroke="#777" stroke-width="0.5"/>
<line x1="189.5" y1="615.2" x2="189.5" y2="617.2" stroke="#444" stroke-width="0.6"/>
<line x1="193.5" y1="615.2" x2="193.5" y2="616.2" stroke="#777" stroke-width="0.5"/>
<line x1="198.5" y1="615.2" x2="198.5" y2="616.2" stroke="#777" stroke-width="0.5"/>
<line x1="201.5" y1="615.2" x2="201.5" y2="616.2" stroke="#777" stroke-width="0.5"/>
<line x1="202.5" y1="615.2" x2="202.5" y2="617.2" stroke="#444" stroke-width="0.6"/>
<line x1="206.5" y1="615.2" x2="206.5" y2="616.2" stroke="#777" stroke-width="0.5"/>
<line x1="212.5" y1="615.2" x2="212.5" y2="616.2" stroke="#777" stroke-width="0.5"/>
<line x1="215.5" y1="615.2" x2="215.5" y2="616.2" stroke="#777" stroke-width="0.5"/>
<line x1="216.5" y1="615.2" x2="216.5" y2="617.2" stroke="#444" stroke-width="0.6"/>
<line x1="220.5" y1="615.2" x2="220.5" y2="616.2" stroke="#777" stroke-width="0.5"/>
<line x1="225.5" y1="615.2" x2="225.5" y2="616.2" stroke="#777" stroke-width="0.5"/>
<line x1="228.5" y1="615.2" x2="228.5" y2="616.2" stroke="#777" stroke-width="0.5"/>
<line x1="230.5" y1="615.2" x2="230.5" y2="617.2" stroke="#444" stroke-width="0.6"/>
<line x1="234.5" y1="615.2" x2="234.5" y2="616.2" stroke="#777" stroke-width="0.5"/>
<line x1="239.5" y1="615.2" x2="239.5" y2="616.2" stroke="#777" stroke-width="0.5"/>
<line x1="242.5" y1="615.2" x2="242.5" y2="616.2" stroke="#777" stroke-width="0.5"/>
<line x1="243.5" y1="615.2" x2="243.5" y2="617.2" stroke="#444" stroke-width="0.6"/>
<ellipse cx="200" cy="571.5" rx="27.5" ry="11" fill="#000" opacity="0.08" filter="url(#bl3)"/>
<ellipse cx="200.42" cy="571.33" rx="23.92" ry="9.57" fill="#000" opacity="0.08" filter="url(#bl3)"/>
<ellipse cx="200.83" cy="571.17" rx="20.33" ry="8.13" fill="#000" opacity="0.1" filter="url(#bl2)"/>
<ellipse cx="201.25" cy="571" rx="16.75" ry="6.7" fill="#000" opacity="0.14" filter="url(#bl2)"/>
<ellipse cx="201.67" cy="570.83" rx="13.17" ry="5.27" fill="#000" opacity="0.24" filter="url(#bl2)"/>
<ellipse cx="202.08" cy="570.67" rx="9.58" ry="3.83" fill="#000" opacity="0.45" filter="url(#bl4)"/>
<ellipse cx="202.5" cy="570.5" rx="6" ry="2.4" fill="#000" opacity="0.85" filter="url(#bl4)"/>
<ellipse cx="210.3" cy="569.6" rx="3.2" ry="2" fill="#000" opacity="0.8" filter="url(#bl4)"/>
<ellipse cx="160.3" cy="570.7" rx="1.2" ry="4.5" fill="#000" opacity="0.95" filter="url(#bl4)"/>
<line x1="204.5" y1="527.5" x2="204.5" y2="615.2" stroke="#222" stroke-width="1"/>
<line x1="159.6" y1="584.5" x2="247.4" y2="584.5" stroke="#222" stroke-width="1"/>
<text x="161.9" y="538.9" font-size="8.8" fill="#222" stroke="#222" stroke-width="0.22" letter-spacing="0.2">57.7</text>
<text x="244.1" y="538.9" font-size="8.8" text-anchor="end" fill="#222" stroke="#222" stroke-width="0.22" letter-spacing="0.2">42.1</text>
<text x="161.9" y="608.7" font-size="8.8" fill="#222" stroke="#222" stroke-width="0.22" letter-spacing="0.2">0.17</text>
<text x="243.4" y="608.7" font-size="8.8" text-anchor="end" fill="#222" stroke="#222" stroke-width="0.22" letter-spacing="0.2"></text>
<rect x="271.5" y="527.5" width="87" height="88" fill="none" stroke="#8a8a8a" stroke-width="0.9"/>
<line x1="271.5" y1="527.1" x2="271.5" y2="615.6" stroke="#333" stroke-width="1"/>
<line x1="270.9" y1="615.5" x2="358.7" y2="615.5" stroke="#333" stroke-width="1"/>
<line x1="269.1" y1="607.5" x2="271.3" y2="607.5" stroke="#333" stroke-width="0.7"/>
<text x="262.1" y="610.24" font-size="4.7" text-anchor="middle" font-weight="bold" fill="#1a1a1a" stroke="#1a1a1a" stroke-width="0.22">10</text>
<text x="265.01" y="606.48" font-size="4" font-weight="bold" fill="#1a1a1a" stroke="#1a1a1a" stroke-width="0.15">1</text>
<line x1="270.2" y1="601.5" x2="271.3" y2="601.5" stroke="#666" stroke-width="0.5"/>
<line x1="270.2" y1="596.5" x2="271.3" y2="596.5" stroke="#666" stroke-width="0.5"/>
<line x1="270.2" y1="593.5" x2="271.3" y2="593.5" stroke="#666" stroke-width="0.5"/>
<line x1="270.2" y1="591.5" x2="271.3" y2="591.5" stroke="#666" stroke-width="0.5"/>
<line x1="269.1" y1="589.5" x2="271.3" y2="589.5" stroke="#333" stroke-width="0.7"/>
<text x="262.1" y="592.34" font-size="4.7" text-anchor="middle" font-weight="bold" fill="#1a1a1a" stroke="#1a1a1a" stroke-width="0.22">10</text>
<text x="265.01" y="588.58" font-size="4" font-weight="bold" fill="#1a1a1a" stroke="#1a1a1a" stroke-width="0.15">2</text>
<line x1="270.2" y1="584.5" x2="271.3" y2="584.5" stroke="#666" stroke-width="0.5"/>
<line x1="270.2" y1="578.5" x2="271.3" y2="578.5" stroke="#666" stroke-width="0.5"/>
<line x1="270.2" y1="575.5" x2="271.3" y2="575.5" stroke="#666" stroke-width="0.5"/>
<line x1="270.2" y1="573.5" x2="271.3" y2="573.5" stroke="#666" stroke-width="0.5"/>
<line x1="269.1" y1="571.5" x2="271.3" y2="571.5" stroke="#333" stroke-width="0.7"/>
<text x="262.1" y="574.44" font-size="4.7" text-anchor="middle" font-weight="bold" fill="#1a1a1a" stroke="#1a1a1a" stroke-width="0.22">10</text>
<text x="265.01" y="570.68" font-size="4" font-weight="bold" fill="#1a1a1a" stroke="#1a1a1a" stroke-width="0.15">3</text>
<line x1="270.2" y1="566.5" x2="271.3" y2="566.5" stroke="#666" stroke-width="0.5"/>
<line x1="270.2" y1="560.5" x2="271.3" y2="560.5" stroke="#666" stroke-width="0.5"/>
<line x1="270.2" y1="557.5" x2="271.3" y2="557.5" stroke="#666" stroke-width="0.5"/>
<line x1="270.2" y1="555.5" x2="271.3" y2="555.5" stroke="#666" stroke-width="0.5"/>
<line x1="269.1" y1="553.5" x2="271.3" y2="553.5" stroke="#333" stroke-width="0.7"/>
<text x="262.1" y="556.54" font-size="4.7" text-anchor="middle" font-weight="bold" fill="#1a1a1a" stroke="#1a1a1a" stroke-width="0.22">10</text>
<text x="265.01" y="552.78" font-size="4" font-weight="bold" fill="#1a1a1a" stroke="#1a1a1a" stroke-width="0.15">4</text>
<line x1="270.2" y1="548.5" x2="271.3" y2="548.5" stroke="#666" stroke-width="0.5"/>
<line x1="270.2" y1="542.5" x2="271.3" y2="542.5" stroke="#666" stroke-width="0.5"/>
<line x1="270.2" y1="539.5" x2="271.3" y2="539.5" stroke="#666" stroke-width="0.5"/>
<line x1="270.2" y1="537.5" x2="271.3" y2="537.5" stroke="#666" stroke-width="0.5"/>
<line x1="269.1" y1="535.5" x2="271.3" y2="535.5" stroke="#333" stroke-width="0.7"/>
<text x="262.1" y="538.64" font-size="4.7" text-anchor="middle" font-weight="bold" fill="#1a1a1a" stroke="#1a1a1a" stroke-width="0.22">10</text>
<text x="265.01" y="534.88" font-size="4" font-weight="bold" fill="#1a1a1a" stroke="#1a1a1a" stroke-width="0.15">5</text>
<text x="279.6" y="625.14" font-size="4.7" text-anchor="middle" font-weight="bold" fill="#1a1a1a" stroke="#1a1a1a" stroke-width="0.22">10</text>
<text x="282.51" y="621.38" font-size="4" font-weight="bold" fill="#1a1a1a" stroke="#1a1a1a" stroke-width="0.15">1</text>
<text x="307" y="625.14" font-size="4.7" text-anchor="middle" font-weight="bold" fill="#1a1a1a" stroke="#1a1a1a" stroke-width="0.22">10</text>
<text x="309.91" y="621.38" font-size="4" font-weight="bold" fill="#1a1a1a" stroke="#1a1a1a" stroke-width="0.15">3</text>
<text x="334.2" y="625.14" font-size="4.7" text-anchor="middle" font-weight="bold" fill="#1a1a1a" stroke="#1a1a1a" stroke-width="0.22">10</text>
<text x="337.11" y="621.38" font-size="4" font-weight="bold" fill="#1a1a1a" stroke="#1a1a1a" stroke-width="0.15">5</text>
<line x1="273.5" y1="615.2" x2="273.5" y2="617.2" stroke="#444" stroke-width="0.6"/>
<line x1="277.5" y1="615.2" x2="277.5" y2="616.2" stroke="#777" stroke-width="0.5"/>
<line x1="282.5" y1="615.2" x2="282.5" y2="616.2" stroke="#777" stroke-width="0.5"/>
<line x1="285.5" y1="615.2" x2="285.5" y2="616.2" stroke="#777" stroke-width="0.5"/>
<line x1="287.5" y1="615.2" x2="287.5" y2="617.2" stroke="#444" stroke-width="0.6"/>
<line x1="291.5" y1="615.2" x2="291.5" y2="616.2" stroke="#777" stroke-width="0.5"/>
<line x1="296.5" y1="615.2" x2="296.5" y2="616.2" stroke="#777" stroke-width="0.5"/>
<line x1="299.5" y1="615.2" x2="299.5" y2="616.2" stroke="#777" stroke-width="0.5"/>
<line x1="300.5" y1="615.2" x2="300.5" y2="617.2" stroke="#444" stroke-width="0.6"/>
<line x1="304.5" y1="615.2" x2="304.5" y2="616.2" stroke="#777" stroke-width="0.5"/>
<line x1="310.5" y1="615.2" x2="310.5" y2="616.2" stroke="#777" stroke-width="0.5"/>
<line x1="313.5" y1="615.2" x2="313.5" y2="616.2" stroke="#777" stroke-width="0.5"/>
<line x1="314.5" y1="615.2" x2="314.5" y2="617.2" stroke="#444" stroke-width="0.6"/>
<line x1="318.5" y1="615.2" x2="318.5" y2="616.2" stroke="#777" stroke-width="0.5"/>
<line x1="323.5" y1="615.2" x2="323.5" y2="616.2" stroke="#777" stroke-width="0.5"/>
<line x1="326.5" y1="615.2" x2="326.5" y2="616.2" stroke="#777" stroke-width="0.5"/>
<line x1="328.5" y1="615.2" x2="328.5" y2="617.2" stroke="#444" stroke-width="0.6"/>
<line x1="332.5" y1="615.2" x2="332.5" y2="616.2" stroke="#777" stroke-width="0.5"/>
<line x1="337.5" y1="615.2" x2="337.5" y2="616.2" stroke="#777" stroke-width="0.5"/>
<line x1="340.5" y1="615.2" x2="340.5" y2="616.2" stroke="#777" stroke-width="0.5"/>
<line x1="341.5" y1="615.2" x2="341.5" y2="617.2" stroke="#444" stroke-width="0.6"/>
<line x1="345.5" y1="615.2" x2="345.5" y2="616.2" stroke="#777" stroke-width="0.5"/>
<line x1="351.5" y1="615.2" x2="351.5" y2="616.2" stroke="#777" stroke-width="0.5"/>
<line x1="354.5" y1="615.2" x2="354.5" y2="616.2" stroke="#777" stroke-width="0.5"/>
<line x1="355.5" y1="615.2" x2="355.5" y2="617.2" stroke="#444" stroke-width="0.6"/>
<path d="M284.9 573 L295.1 564.5 L332.5 561.6 L337.1 569 L330.3 579.2 L295.1 582.1Z" fill="#000" opacity="0.14" filter="url(#bl2)"/>
<ellipse cx="312" cy="571" rx="20" ry="8.5" fill="#000" opacity="0.08" filter="url(#bl3)"/>
<ellipse cx="313.15" cy="570.77" rx="17.63" ry="7.5" fill="#000" opacity="0.08" filter="url(#bl3)"/>
<ellipse cx="314.3" cy="570.53" rx="15.27" ry="6.5" fill="#000" opacity="0.1" filter="url(#bl2)"/>
<ellipse cx="315.45" cy="570.3" rx="12.9" ry="5.5" fill="#000" opacity="0.14" filter="url(#bl2)"/>
<ellipse cx="316.6" cy="570.07" rx="10.53" ry="4.5" fill="#000" opacity="0.24" filter="url(#bl2)"/>
<ellipse cx="317.75" cy="569.83" rx="8.17" ry="3.5" fill="#000" opacity="0.45" filter="url(#bl4)"/>
<ellipse cx="318.9" cy="569.6" rx="5.8" ry="2.5" fill="#000" opacity="0.85" filter="url(#bl4)"/>
<ellipse cx="272.5" cy="571" rx="1" ry="4" fill="#000" opacity="0.3" filter="url(#bl4)"/>
<line x1="315.5" y1="527.5" x2="315.5" y2="615.2" stroke="#222" stroke-width="1"/>
<line x1="271.3" y1="584.5" x2="358.7" y2="584.5" stroke="#222" stroke-width="1"/>
<text x="273.6" y="538.9" font-size="8.8" fill="#222" stroke="#222" stroke-width="0.22" letter-spacing="0.2">54.5</text>
<text x="355.4" y="538.9" font-size="8.8" text-anchor="end" fill="#222" stroke="#222" stroke-width="0.22" letter-spacing="0.2">45.3</text>
<text x="273.6" y="608.7" font-size="8.8" fill="#222" stroke="#222" stroke-width="0.22" letter-spacing="0.2">0.14</text>
<text x="354.7" y="608.7" font-size="8.8" text-anchor="end" fill="#222" stroke="#222" stroke-width="0.22" letter-spacing="0.2">0.00</text>
<rect x="386.5" y="527.5" width="88" height="88" fill="none" stroke="#8a8a8a" stroke-width="0.9"/>
<line x1="386.5" y1="527.1" x2="386.5" y2="615.6" stroke="#333" stroke-width="1"/>
<line x1="386.5" y1="615.5" x2="474.6" y2="615.5" stroke="#333" stroke-width="1"/>
<line x1="384.7" y1="607.5" x2="386.9" y2="607.5" stroke="#333" stroke-width="0.7"/>
<text x="377.7" y="610.24" font-size="4.7" text-anchor="middle" font-weight="bold" fill="#1a1a1a" stroke="#1a1a1a" stroke-width="0.22">10</text>
<text x="380.61" y="606.48" font-size="4" font-weight="bold" fill="#1a1a1a" stroke="#1a1a1a" stroke-width="0.15">1</text>
<line x1="385.8" y1="601.5" x2="386.9" y2="601.5" stroke="#666" stroke-width="0.5"/>
<line x1="385.8" y1="596.5" x2="386.9" y2="596.5" stroke="#666" stroke-width="0.5"/>
<line x1="385.8" y1="593.5" x2="386.9" y2="593.5" stroke="#666" stroke-width="0.5"/>
<line x1="385.8" y1="591.5" x2="386.9" y2="591.5" stroke="#666" stroke-width="0.5"/>
<line x1="384.7" y1="589.5" x2="386.9" y2="589.5" stroke="#333" stroke-width="0.7"/>
<text x="377.7" y="592.34" font-size="4.7" text-anchor="middle" font-weight="bold" fill="#1a1a1a" stroke="#1a1a1a" stroke-width="0.22">10</text>
<text x="380.61" y="588.58" font-size="4" font-weight="bold" fill="#1a1a1a" stroke="#1a1a1a" stroke-width="0.15">2</text>
<line x1="385.8" y1="584.5" x2="386.9" y2="584.5" stroke="#666" stroke-width="0.5"/>
<line x1="385.8" y1="578.5" x2="386.9" y2="578.5" stroke="#666" stroke-width="0.5"/>
<line x1="385.8" y1="575.5" x2="386.9" y2="575.5" stroke="#666" stroke-width="0.5"/>
<line x1="385.8" y1="573.5" x2="386.9" y2="573.5" stroke="#666" stroke-width="0.5"/>
<line x1="384.7" y1="571.5" x2="386.9" y2="571.5" stroke="#333" stroke-width="0.7"/>
<text x="377.7" y="574.44" font-size="4.7" text-anchor="middle" font-weight="bold" fill="#1a1a1a" stroke="#1a1a1a" stroke-width="0.22">10</text>
<text x="380.61" y="570.68" font-size="4" font-weight="bold" fill="#1a1a1a" stroke="#1a1a1a" stroke-width="0.15">3</text>
<line x1="385.8" y1="566.5" x2="386.9" y2="566.5" stroke="#666" stroke-width="0.5"/>
<line x1="385.8" y1="560.5" x2="386.9" y2="560.5" stroke="#666" stroke-width="0.5"/>
<line x1="385.8" y1="557.5" x2="386.9" y2="557.5" stroke="#666" stroke-width="0.5"/>
<line x1="385.8" y1="555.5" x2="386.9" y2="555.5" stroke="#666" stroke-width="0.5"/>
<line x1="384.7" y1="553.5" x2="386.9" y2="553.5" stroke="#333" stroke-width="0.7"/>
<text x="377.7" y="556.54" font-size="4.7" text-anchor="middle" font-weight="bold" fill="#1a1a1a" stroke="#1a1a1a" stroke-width="0.22">10</text>
<text x="380.61" y="552.78" font-size="4" font-weight="bold" fill="#1a1a1a" stroke="#1a1a1a" stroke-width="0.15">4</text>
<line x1="385.8" y1="548.5" x2="386.9" y2="548.5" stroke="#666" stroke-width="0.5"/>
<line x1="385.8" y1="542.5" x2="386.9" y2="542.5" stroke="#666" stroke-width="0.5"/>
<line x1="385.8" y1="539.5" x2="386.9" y2="539.5" stroke="#666" stroke-width="0.5"/>
<line x1="385.8" y1="537.5" x2="386.9" y2="537.5" stroke="#666" stroke-width="0.5"/>
<line x1="384.7" y1="535.5" x2="386.9" y2="535.5" stroke="#333" stroke-width="0.7"/>
<text x="377.7" y="538.64" font-size="4.7" text-anchor="middle" font-weight="bold" fill="#1a1a1a" stroke="#1a1a1a" stroke-width="0.22">10</text>
<text x="380.61" y="534.88" font-size="4" font-weight="bold" fill="#1a1a1a" stroke="#1a1a1a" stroke-width="0.15">5</text>
<text x="395.2" y="625.14" font-size="4.7" text-anchor="middle" font-weight="bold" fill="#1a1a1a" stroke="#1a1a1a" stroke-width="0.22">10</text>
<text x="398.11" y="621.38" font-size="4" font-weight="bold" fill="#1a1a1a" stroke="#1a1a1a" stroke-width="0.15">1</text>
<text x="422.6" y="625.14" font-size="4.7" text-anchor="middle" font-weight="bold" fill="#1a1a1a" stroke="#1a1a1a" stroke-width="0.22">10</text>
<text x="425.51" y="621.38" font-size="4" font-weight="bold" fill="#1a1a1a" stroke="#1a1a1a" stroke-width="0.15">3</text>
<text x="449.8" y="625.14" font-size="4.7" text-anchor="middle" font-weight="bold" fill="#1a1a1a" stroke="#1a1a1a" stroke-width="0.22">10</text>
<text x="452.71" y="621.38" font-size="4" font-weight="bold" fill="#1a1a1a" stroke="#1a1a1a" stroke-width="0.15">5</text>
<line x1="388.5" y1="615.2" x2="388.5" y2="617.2" stroke="#444" stroke-width="0.6"/>
<line x1="393.5" y1="615.2" x2="393.5" y2="616.2" stroke="#777" stroke-width="0.5"/>
<line x1="398.5" y1="615.2" x2="398.5" y2="616.2" stroke="#777" stroke-width="0.5"/>
<line x1="401.5" y1="615.2" x2="401.5" y2="616.2" stroke="#777" stroke-width="0.5"/>
<line x1="402.5" y1="615.2" x2="402.5" y2="617.2" stroke="#444" stroke-width="0.6"/>
<line x1="406.5" y1="615.2" x2="406.5" y2="616.2" stroke="#777" stroke-width="0.5"/>
<line x1="412.5" y1="615.2" x2="412.5" y2="616.2" stroke="#777" stroke-width="0.5"/>
<line x1="414.5" y1="615.2" x2="414.5" y2="616.2" stroke="#777" stroke-width="0.5"/>
<line x1="416.5" y1="615.2" x2="416.5" y2="617.2" stroke="#444" stroke-width="0.6"/>
<line x1="420.5" y1="615.2" x2="420.5" y2="616.2" stroke="#777" stroke-width="0.5"/>
<line x1="425.5" y1="615.2" x2="425.5" y2="616.2" stroke="#777" stroke-width="0.5"/>
<line x1="428.5" y1="615.2" x2="428.5" y2="616.2" stroke="#777" stroke-width="0.5"/>
<line x1="430.5" y1="615.2" x2="430.5" y2="617.2" stroke="#444" stroke-width="0.6"/>
<line x1="434.5" y1="615.2" x2="434.5" y2="616.2" stroke="#777" stroke-width="0.5"/>
<line x1="439.5" y1="615.2" x2="439.5" y2="616.2" stroke="#777" stroke-width="0.5"/>
<line x1="442.5" y1="615.2" x2="442.5" y2="616.2" stroke="#777" stroke-width="0.5"/>
<line x1="443.5" y1="615.2" x2="443.5" y2="617.2" stroke="#444" stroke-width="0.6"/>
<line x1="447.5" y1="615.2" x2="447.5" y2="616.2" stroke="#777" stroke-width="0.5"/>
<line x1="453.5" y1="615.2" x2="453.5" y2="616.2" stroke="#777" stroke-width="0.5"/>
<line x1="456.5" y1="615.2" x2="456.5" y2="616.2" stroke="#777" stroke-width="0.5"/>
<line x1="457.5" y1="615.2" x2="457.5" y2="617.2" stroke="#444" stroke-width="0.6"/>
<line x1="461.5" y1="615.2" x2="461.5" y2="616.2" stroke="#777" stroke-width="0.5"/>
<line x1="466.5" y1="615.2" x2="466.5" y2="616.2" stroke="#777" stroke-width="0.5"/>
<line x1="469.5" y1="615.2" x2="469.5" y2="616.2" stroke="#777" stroke-width="0.5"/>
<line x1="471.5" y1="615.2" x2="471.5" y2="617.2" stroke="#444" stroke-width="0.6"/>
<ellipse cx="419" cy="572" rx="27.5" ry="11" fill="#000" opacity="0.08" filter="url(#bl3)"/>
<ellipse cx="419.12" cy="571.7" rx="23.72" ry="9.6" fill="#000" opacity="0.08" filter="url(#bl3)"/>
<ellipse cx="419.23" cy="571.4" rx="19.93" ry="8.2" fill="#000" opacity="0.1" filter="url(#bl2)"/>
<ellipse cx="419.35" cy="571.1" rx="16.15" ry="6.8" fill="#000" opacity="0.14" filter="url(#bl2)"/>
<ellipse cx="419.47" cy="570.8" rx="12.37" ry="5.4" fill="#000" opacity="0.24" filter="url(#bl2)"/>
<ellipse cx="419.58" cy="570.5" rx="8.58" ry="4" fill="#000" opacity="0.45" filter="url(#bl4)"/>
<ellipse cx="419.7" cy="570.2" rx="4.8" ry="2.6" fill="#000" opacity="0.85" filter="url(#bl4)"/>
<ellipse cx="433" cy="570" rx="6" ry="5" fill="#000" opacity="0.25" filter="url(#bl2)"/>
<ellipse cx="387.4" cy="570.2" rx="1.3" ry="6" fill="#000" opacity="0.95" filter="url(#bl4)"/>
<line x1="431.5" y1="527.5" x2="431.5" y2="615.2" stroke="#222" stroke-width="1"/>
<line x1="386.9" y1="584.5" x2="474.6" y2="584.5" stroke="#222" stroke-width="1"/>
<text x="389.2" y="538.9" font-size="8.8" fill="#222" stroke="#222" stroke-width="0.22" letter-spacing="0.2">89.5</text>
<text x="471.3" y="538.9" font-size="8.8" text-anchor="end" fill="#222" stroke="#222" stroke-width="0.22" letter-spacing="0.2">10.3</text>
<text x="389.2" y="608.7" font-size="8.8" fill="#222" stroke="#222" stroke-width="0.22" letter-spacing="0.2">0.16</text>
<text x="470.6" y="608.7" font-size="8.8" text-anchor="end" fill="#222" stroke="#222" stroke-width="0.22" letter-spacing="0.2">0.00</text>
<text x="238.5" y="608.6" font-size="8.8" text-anchor="end" fill="#222" stroke="#222" stroke-width="0.22" letter-spacing="0.2">0.4</text>
<ellipse cx="227.9" cy="607.6" rx="0.9" ry="1.6" fill="#111"/>
<line x1="12.5" y1="514.8" x2="12.5" y2="547.8" stroke="#1a1a1a" stroke-width="1"/>
<path d="M12.9 508.8 L10.6 516.3 L15.2 516.3Z" fill="#111"/>
<text x="17.5" y="616.9" font-size="9.8" stroke="#111" stroke-width="0.22" transform="rotate(-90 17.5 616.9)">CD45RO-PE</text>
<text x="27.8" y="642.1" font-size="9.7" stroke="#111" stroke-width="0.22">CD62L-BV421</text>
<line x1="98.3" y1="639.5" x2="461" y2="639.5" stroke="#1a1a1a" stroke-width="1"/>
<path d="M467 639.5 L459.5 637.2 L459.5 641.8Z" fill="#111"/>
<line x1="507.4" y1="133.5" x2="510.6" y2="133.5" stroke="#222" stroke-width="1"/>
<text x="505.2" y="136.71" font-size="8.6" text-anchor="end" font-weight="bold" fill="#222" stroke="#222" stroke-width="0.13">0</text>
<line x1="507.4" y1="116.5" x2="510.6" y2="116.5" stroke="#222" stroke-width="1"/>
<text x="505.2" y="120.37" font-size="8.6" text-anchor="end" font-weight="bold" fill="#222" stroke="#222" stroke-width="0.13">1</text>
<line x1="507.4" y1="100.5" x2="510.6" y2="100.5" stroke="#222" stroke-width="1"/>
<text x="505.2" y="104.03" font-size="8.6" text-anchor="end" font-weight="bold" fill="#222" stroke="#222" stroke-width="0.13">2</text>
<line x1="507.4" y1="84.5" x2="510.6" y2="84.5" stroke="#222" stroke-width="1"/>
<text x="505.2" y="87.69" font-size="8.6" text-anchor="end" font-weight="bold" fill="#222" stroke="#222" stroke-width="0.13">3</text>
<line x1="507.4" y1="67.5" x2="510.6" y2="67.5" stroke="#222" stroke-width="1"/>
<text x="505.2" y="71.35" font-size="8.6" text-anchor="end" font-weight="bold" fill="#222" stroke="#222" stroke-width="0.13">4</text>
<line x1="507.4" y1="51.5" x2="510.6" y2="51.5" stroke="#222" stroke-width="1"/>
<text x="505.2" y="55.01" font-size="8.6" text-anchor="end" font-weight="bold" fill="#222" stroke="#222" stroke-width="0.13">5</text>
<line x1="521.5" y1="122.4" x2="521.5" y2="115.2" stroke="#222" stroke-width="1"/>
<line x1="518.95" y1="115.5" x2="524.35" y2="115.5" stroke="#222" stroke-width="1"/>
<rect x="516.5" y="122.5" width="11" height="11" fill="#1414f0" stroke="#151515" stroke-width="1.1"/>
<line x1="539.5" y1="122.2" x2="539.5" y2="118.4" stroke="#222" stroke-width="1"/>
<line x1="536.8" y1="118.5" x2="542.2" y2="118.5" stroke="#222" stroke-width="1"/>
<rect x="534.5" y="122.5" width="10" height="11" fill="#8c8cf6" stroke="#151515" stroke-width="1.1"/>
<line x1="557.5" y1="121.9" x2="557.5" y2="113.8" stroke="#222" stroke-width="1"/>
<line x1="554.5" y1="113.5" x2="559.9" y2="113.5" stroke="#222" stroke-width="1"/>
<rect x="551.5" y="121.5" width="11" height="12" fill="#f2200f" stroke="#151515" stroke-width="1.1"/>
<line x1="575.5" y1="89.3" x2="575.5" y2="79.8" stroke="#222" stroke-width="1"/>
<line x1="572.35" y1="79.5" x2="577.75" y2="79.5" stroke="#222" stroke-width="1"/>
<rect x="569.5" y="89.5" width="11" height="44" fill="#f2a0a6" stroke="#151515" stroke-width="1.1"/>
<line x1="510.5" y1="50.9" x2="510.5" y2="133.6" stroke="#222" stroke-width="1.1"/>
<line x1="510.1" y1="133.5" x2="587" y2="133.5" stroke="#222" stroke-width="1.1"/>
<line x1="517.4" y1="108.5" x2="543.8" y2="108.5" stroke="#222" stroke-width="1.1"/>
<text x="526.8" y="107.6" font-size="8.3" fill="#555" stroke="#555" stroke-width="0.12"><tspan fill="#2a2a2a" stroke="#2a2a2a">ns</tspan> p=0.97</text>
<line x1="517.4" y1="99.5" x2="560" y2="99.5" stroke="#222" stroke-width="1.1"/>
<text x="534.8" y="97.9" font-size="8.3" fill="#555" stroke="#555" stroke-width="0.12"><tspan fill="#2a2a2a" stroke="#2a2a2a">ns</tspan> p=0.99</text>
<line x1="537.2" y1="64.5" x2="579.9" y2="64.5" stroke="#555" stroke-width="1.1"/>
<text x="543.6" y="57.4" font-size="8.3" fill="#555" stroke="#555" stroke-width="0.12">p&lt;0.001</text>
<text x="557.6" y="65.6" font-size="9.2" text-anchor="middle" font-weight="bold" stroke="#111" stroke-width="0.13" letter-spacing="0.3">***</text>
<line x1="553.3" y1="77.5" x2="580.1" y2="77.5" stroke="#222" stroke-width="1.1"/>
<text x="551.8" y="71.8" font-size="8.3" fill="#555" stroke="#555" stroke-width="0.12">p&lt;0.001</text>
<text x="566.4" y="78.8" font-size="9.2" text-anchor="middle" font-weight="bold" stroke="#111" stroke-width="0.13" letter-spacing="0.3">***</text>
<text x="511.3" y="42.8" font-size="10.6" font-weight="bold" stroke="#111" stroke-width="0.13">Tumor/CD137+</text>
<text x="494.6" y="126.3" font-size="9" font-weight="bold" stroke="#111" stroke-width="0.13" transform="rotate(-90 494.6 126.3)">% positive cells</text>
<line x1="615.5" y1="60.2" x2="615.5" y2="82" stroke="#222" stroke-width="1.2"/>
<line x1="615.5" y1="93.4" x2="615.5" y2="115.5" stroke="#222" stroke-width="1.2"/>
<text x="613.9" y="74.03" font-size="7.8" text-anchor="end" fill="#222" stroke="#222" stroke-width="0.21">UTD</text>
<text x="613.9" y="107.53" font-size="7.8" text-anchor="end" fill="#222" stroke="#222" stroke-width="0.21">Tcr-T1</text>
<rect x="618.5" y="61.5" width="12" height="3" fill="#1414f0" stroke="#111" stroke-width="0.9"/>
<rect x="618.5" y="77.5" width="12" height="4" fill="#8c8cf6" stroke="#111" stroke-width="0.9"/>
<rect x="618.5" y="94.5" width="12" height="4" fill="#f2200f" stroke="#111" stroke-width="0.9"/>
<rect x="618.5" y="111.5" width="12" height="4" fill="#f2a0a6" stroke="#111" stroke-width="0.9"/>
<text x="639.1" y="65.7" font-size="8.3" fill="#222" stroke="#222" stroke-width="0.22">SYT-SSX ΔPep-4</text>
<text x="639.1" y="82.7" font-size="8.3" fill="#222" stroke="#222" stroke-width="0.22">SYT-SSX Pep-4</text>
<text x="639.1" y="99.2" font-size="8.3" fill="#222" stroke="#222" stroke-width="0.22">SYT-SSX ΔPep-4</text>
<text x="639.1" y="116.2" font-size="8.3" fill="#222" stroke="#222" stroke-width="0.22">SYT-SSX Pep-4</text>
<line x1="507.4" y1="283.5" x2="510.6" y2="283.5" stroke="#222" stroke-width="1"/>
<text x="505" y="287.01" font-size="8.6" text-anchor="end" font-weight="bold" fill="#222" stroke="#222" stroke-width="0.13">0.0</text>
<line x1="507.4" y1="242.5" x2="510.6" y2="242.5" stroke="#222" stroke-width="1"/>
<text x="505" y="246.31" font-size="8.6" text-anchor="end" font-weight="bold" fill="#222" stroke="#222" stroke-width="0.13">0.5</text>
<line x1="507.4" y1="201.5" x2="510.6" y2="201.5" stroke="#222" stroke-width="1"/>
<text x="505" y="205.61" font-size="8.6" text-anchor="end" font-weight="bold" fill="#222" stroke="#222" stroke-width="0.13">1.0</text>
<line x1="521.5" y1="253.9" x2="521.5" y2="244.6" stroke="#222" stroke-width="1"/>
<line x1="519" y1="244.5" x2="524.4" y2="244.5" stroke="#222" stroke-width="1"/>
<rect x="516.5" y="253.5" width="11" height="30" fill="#1414f0" stroke="#151515" stroke-width="1.1"/>
<line x1="539.5" y1="257.9" x2="539.5" y2="244.9" stroke="#222" stroke-width="1"/>
<line x1="536.7" y1="244.5" x2="542.1" y2="244.5" stroke="#222" stroke-width="1"/>
<rect x="534.5" y="257.5" width="10" height="26" fill="#8c8cf6" stroke="#151515" stroke-width="1.1"/>
<line x1="557.5" y1="253.6" x2="557.5" y2="230.1" stroke="#222" stroke-width="1"/>
<line x1="554.5" y1="230.5" x2="559.9" y2="230.5" stroke="#222" stroke-width="1"/>
<rect x="551.5" y="253.5" width="11" height="30" fill="#f2200f" stroke="#151515" stroke-width="1.1"/>
<line x1="575.5" y1="245.9" x2="575.5" y2="222.4" stroke="#222" stroke-width="1"/>
<line x1="572.3" y1="222.5" x2="577.7" y2="222.5" stroke="#222" stroke-width="1"/>
<rect x="569.5" y="245.5" width="11" height="38" fill="#f2a0a6" stroke="#151515" stroke-width="1.1"/>
<line x1="510.5" y1="201.5" x2="510.5" y2="283.9" stroke="#222" stroke-width="1.1"/>
<line x1="510.1" y1="283.5" x2="587" y2="283.5" stroke="#222" stroke-width="1.1"/>
<line x1="517.4" y1="239.5" x2="543.8" y2="239.5" stroke="#222" stroke-width="1.1"/>
<text x="526.3" y="237.4" font-size="8.3" fill="#555" stroke="#555" stroke-width="0.12"><tspan fill="#2a2a2a" stroke="#2a2a2a">ns</tspan> p=0.97</text>
<line x1="517.4" y1="229.5" x2="560" y2="229.5" stroke="#222" stroke-width="1.1"/>
<text x="534.8" y="227.6" font-size="8.3" fill="#555" stroke="#555" stroke-width="0.12"><tspan fill="#2a2a2a" stroke="#2a2a2a">ns</tspan> p=0.99</text>
<line x1="553.2" y1="219.5" x2="579.6" y2="219.5" stroke="#222" stroke-width="1.1"/>
<text x="562" y="217.3" font-size="8.3" fill="#555" stroke="#555" stroke-width="0.12"><tspan fill="#2a2a2a" stroke="#2a2a2a">ns</tspan>  p=0.82</text>
<line x1="537" y1="209.5" x2="579.6" y2="209.5" stroke="#222" stroke-width="1.1"/>
<text x="553.2" y="207.5" font-size="8.3" fill="#555" stroke="#555" stroke-width="0.12"><tspan fill="#2a2a2a" stroke="#2a2a2a">ns</tspan>  p=0.68</text>
<text x="510.1" y="197.2" font-size="10.8" font-weight="bold" stroke="#111" stroke-width="0.13">Spleen/CD137+</text>
<text x="487.9" y="276.5" font-size="9" font-weight="bold" stroke="#111" stroke-width="0.13" transform="rotate(-90 487.9 276.5)">% positive cells</text>
<line x1="615.5" y1="212.7" x2="615.5" y2="235.3" stroke="#222" stroke-width="1.2"/>
<line x1="615.5" y1="246.7" x2="615.5" y2="268.3" stroke="#222" stroke-width="1.2"/>
<text x="613.4" y="227.33" font-size="7.8" text-anchor="end" fill="#222" stroke="#222" stroke-width="0.21">UTD</text>
<text x="613.4" y="260.53" font-size="7.8" text-anchor="end" fill="#222" stroke="#222" stroke-width="0.21">Tcr-T1</text>
<rect x="618.5" y="214.5" width="12" height="3" fill="#1414f0" stroke="#111" stroke-width="0.9"/>
<rect x="618.5" y="230.5" width="12" height="4" fill="#8c8cf6" stroke="#111" stroke-width="0.9"/>
<rect x="618.5" y="247.5" width="12" height="4" fill="#f2200f" stroke="#111" stroke-width="0.9"/>
<rect x="618.5" y="264.5" width="12" height="3" fill="#f2a0a6" stroke="#111" stroke-width="0.9"/>
<text x="638.6" y="219" font-size="8.3" fill="#222" stroke="#222" stroke-width="0.22">SYT-SSX ΔPep-4</text>
<text x="638.6" y="235.5" font-size="8.3" fill="#222" stroke="#222" stroke-width="0.22">SYT-SSX Pep-4</text>
<text x="638.6" y="252.21" font-size="8.3" fill="#222" stroke="#222" stroke-width="0.22">SYT-SSX ΔPep-4</text>
<text x="638.6" y="268.8" font-size="8.3" fill="#222" stroke="#222" stroke-width="0.22">SYT-SSX Pep-4</text>
<line x1="507.4" y1="450.5" x2="510.6" y2="450.5" stroke="#222" stroke-width="1"/>
<text x="505.5" y="453.66" font-size="8" text-anchor="end" font-weight="bold" fill="#222" stroke="#222" stroke-width="0.13">0</text>
<line x1="507.4" y1="431.5" x2="510.6" y2="431.5" stroke="#222" stroke-width="1"/>
<text x="505.5" y="434.86" font-size="8" text-anchor="end" font-weight="bold" fill="#222" stroke="#222" stroke-width="0.13">25</text>
<line x1="507.4" y1="412.5" x2="510.6" y2="412.5" stroke="#222" stroke-width="1"/>
<text x="505.5" y="416.06" font-size="8" text-anchor="end" font-weight="bold" fill="#222" stroke="#222" stroke-width="0.13">50</text>
<line x1="507.4" y1="393.5" x2="510.6" y2="393.5" stroke="#222" stroke-width="1"/>
<text x="505.5" y="397.26" font-size="8" text-anchor="end" font-weight="bold" fill="#222" stroke="#222" stroke-width="0.13">75</text>
<line x1="507.4" y1="375.5" x2="510.6" y2="375.5" stroke="#222" stroke-width="1"/>
<text x="505.5" y="378.46" font-size="8" text-anchor="end" font-weight="bold" fill="#222" stroke="#222" stroke-width="0.13">100</text>
<line x1="521.5" y1="417.1" x2="521.5" y2="413.7" stroke="#222" stroke-width="1"/>
<line x1="519" y1="413.5" x2="524.4" y2="413.5" stroke="#222" stroke-width="1"/>
<rect x="516.5" y="417.5" width="10" height="33" fill="#1414f0" stroke="#151515" stroke-width="1.1"/>
<line x1="538.5" y1="414.9" x2="538.5" y2="412.5" stroke="#222" stroke-width="1"/>
<line x1="535.5" y1="412.5" x2="540.9" y2="412.5" stroke="#222" stroke-width="1"/>
<rect x="533.5" y="414.5" width="10" height="36" fill="#8c8cf6" stroke="#151515" stroke-width="1.1"/>
<line x1="554.5" y1="416.3" x2="554.5" y2="412.4" stroke="#222" stroke-width="1"/>
<line x1="552.2" y1="412.5" x2="557.6" y2="412.5" stroke="#222" stroke-width="1"/>
<rect x="549.5" y="416.5" width="11" height="34" fill="#f2200f" stroke="#151515" stroke-width="1.1"/>
<line x1="571.5" y1="406.4" x2="571.5" y2="404.4" stroke="#222" stroke-width="1"/>
<line x1="568.9" y1="404.5" x2="574.3" y2="404.5" stroke="#222" stroke-width="1"/>
<rect x="566.5" y="406.5" width="10" height="44" fill="#f2a0a6" stroke="#151515" stroke-width="1.1"/>
<line x1="510.5" y1="374.6" x2="510.5" y2="450.8" stroke="#222" stroke-width="1.1"/>
<line x1="510.1" y1="450.5" x2="582.1" y2="450.5" stroke="#222" stroke-width="1.1"/>
<line x1="517.4" y1="408.5" x2="542.1" y2="408.5" stroke="#222" stroke-width="1.1"/>
<text x="526.3" y="406.9" font-size="8.3" fill="#555" stroke="#555" stroke-width="0.12"><tspan fill="#2a2a2a" stroke="#2a2a2a">ns</tspan> p=0.99</text>
<line x1="517.4" y1="399.5" x2="558.3" y2="399.5" stroke="#222" stroke-width="1.1"/>
<text x="534.1" y="397.6" font-size="8.3" fill="#555" stroke="#555" stroke-width="0.12"><tspan fill="#2a2a2a" stroke="#2a2a2a">ns</tspan> p=0.99</text>
<line x1="551.5" y1="390.5" x2="575.3" y2="390.5" stroke="#222" stroke-width="1.1"/>
<text x="560.9" y="391.6" font-size="9.2" text-anchor="middle" font-weight="bold" stroke="#111" stroke-width="0.13" letter-spacing="0.3">*</text>
<text x="567.7" y="388.2" font-size="8.3" fill="#555" stroke="#555" stroke-width="0.12">p=0.01</text>
<line x1="536.2" y1="381.5" x2="575.3" y2="381.5" stroke="#222" stroke-width="1.1"/>
<text x="554.9" y="382.6" font-size="9.2" text-anchor="middle" font-weight="bold" stroke="#111" stroke-width="0.13" letter-spacing="0.3">**</text>
<text x="565.1" y="378" font-size="8.3" fill="#555" stroke="#555" stroke-width="0.12">p=0.009</text>
<text x="505.9" y="369" font-size="9.8" font-weight="bold" stroke="#111" stroke-width="0.13">Tumor/CD8+ TEM</text>
<text x="488.3" y="443.5" font-size="8.5" font-weight="bold" stroke="#111" stroke-width="0.13" transform="rotate(-90 488.3 443.5)">% positive cells</text>
<line x1="608.5" y1="385.7" x2="608.5" y2="404" stroke="#222" stroke-width="1.2"/>
<line x1="608.5" y1="413.9" x2="608.5" y2="432.1" stroke="#222" stroke-width="1.2"/>
<text x="606.8" y="398.02" font-size="7.2" text-anchor="end" fill="#222" stroke="#222" stroke-width="0.2">UTD</text>
<text x="606.8" y="425.41" font-size="6.6" text-anchor="end" fill="#222" stroke="#222" stroke-width="0.18">TCR-T1</text>
<rect x="611.5" y="386.5" width="10" height="3" fill="#1414f0" stroke="#111" stroke-width="0.9"/>
<rect x="611.5" y="400.5" width="10" height="3" fill="#8c8cf6" stroke="#111" stroke-width="0.9"/>
<rect x="611.5" y="414.5" width="10" height="3" fill="#f2200f" stroke="#111" stroke-width="0.9"/>
<rect x="611.5" y="428.5" width="10" height="3" fill="#f2a0a6" stroke="#111" stroke-width="0.9"/>
<text x="627.6" y="390.38" font-size="7.1" fill="#222" stroke="#222" stroke-width="0.2">SYT-SSX1/2 ΔPep-4</text>
<text x="627.6" y="404.29" font-size="7.1" fill="#222" stroke="#222" stroke-width="0.2">SYT-SSX1/2 Pep-4</text>
<text x="627.6" y="418.49" font-size="7.1" fill="#222" stroke="#222" stroke-width="0.2">SYT-SSX1/2 ΔPep-4</text>
<text x="627.6" y="432.38" font-size="7.1" fill="#222" stroke="#222" stroke-width="0.2">SYT-SSX1/2 Pep-4</text>
<line x1="507.1" y1="611.5" x2="510.3" y2="611.5" stroke="#222" stroke-width="1"/>
<text x="504" y="614.56" font-size="8" text-anchor="end" font-weight="bold" fill="#222" stroke="#222" stroke-width="0.13">0</text>
<line x1="507.1" y1="598.5" x2="510.3" y2="598.5" stroke="#222" stroke-width="1"/>
<text x="504" y="601.99" font-size="8" text-anchor="end" font-weight="bold" fill="#222" stroke="#222" stroke-width="0.13">20</text>
<line x1="507.1" y1="586.5" x2="510.3" y2="586.5" stroke="#222" stroke-width="1"/>
<text x="504" y="589.43" font-size="8" text-anchor="end" font-weight="bold" fill="#222" stroke="#222" stroke-width="0.13">40</text>
<line x1="507.1" y1="573.5" x2="510.3" y2="573.5" stroke="#222" stroke-width="1"/>
<text x="504" y="576.86" font-size="8" text-anchor="end" font-weight="bold" fill="#222" stroke="#222" stroke-width="0.13">60</text>
<line x1="507.1" y1="560.5" x2="510.3" y2="560.5" stroke="#222" stroke-width="1"/>
<text x="504" y="564.3" font-size="8" text-anchor="end" font-weight="bold" fill="#222" stroke="#222" stroke-width="0.13">80</text>
<line x1="507.1" y1="548.5" x2="510.3" y2="548.5" stroke="#222" stroke-width="1"/>
<text x="504" y="551.73" font-size="8" text-anchor="end" font-weight="bold" fill="#222" stroke="#222" stroke-width="0.13">100</text>
<line x1="507.1" y1="535.5" x2="510.3" y2="535.5" stroke="#222" stroke-width="1"/>
<text x="504" y="539.16" font-size="8" text-anchor="end" font-weight="bold" fill="#222" stroke="#222" stroke-width="0.13">120</text>
<line x1="521.5" y1="575.4" x2="521.5" y2="571.2" stroke="#222" stroke-width="1"/>
<line x1="518.5" y1="571.5" x2="523.9" y2="571.5" stroke="#222" stroke-width="1"/>
<rect x="516.5" y="575.5" width="10" height="36" fill="#1414f0" stroke="#151515" stroke-width="1.1"/>
<line x1="537.5" y1="575.4" x2="537.5" y2="572.9" stroke="#222" stroke-width="1"/>
<line x1="534.8" y1="572.5" x2="540.2" y2="572.5" stroke="#222" stroke-width="1"/>
<rect x="532.5" y="575.5" width="10" height="36" fill="#8c8cf6" stroke="#151515" stroke-width="1.1"/>
<line x1="554.5" y1="576.6" x2="554.5" y2="573.2" stroke="#222" stroke-width="1"/>
<line x1="551.3" y1="573.5" x2="556.7" y2="573.5" stroke="#222" stroke-width="1"/>
<rect x="548.5" y="576.5" width="11" height="35" fill="#f2200f" stroke="#151515" stroke-width="1.1"/>
<line x1="570.5" y1="559.6" x2="570.5" y2="555.5" stroke="#222" stroke-width="1"/>
<line x1="567.65" y1="555.5" x2="573.05" y2="555.5" stroke="#222" stroke-width="1"/>
<rect x="565.5" y="559.5" width="10" height="52" fill="#f2a0a6" stroke="#151515" stroke-width="1.1"/>
<line x1="510.5" y1="535.3" x2="510.5" y2="611.7" stroke="#222" stroke-width="1.1"/>
<line x1="509.8" y1="611.5" x2="581.8" y2="611.5" stroke="#222" stroke-width="1.1"/>
<line x1="517.4" y1="569.5" x2="541.3" y2="569.5" stroke="#222" stroke-width="1.1"/>
<text x="525.6" y="566.9" font-size="8.3" fill="#555" stroke="#555" stroke-width="0.12"><tspan fill="#2a2a2a" stroke="#2a2a2a">ns</tspan> p=0.99</text>
<line x1="517.4" y1="560.5" x2="557.4" y2="560.5" stroke="#222" stroke-width="1.1"/>
<text x="533.1" y="557.9" font-size="8.3" fill="#555" stroke="#555" stroke-width="0.12"><tspan fill="#2a2a2a" stroke="#2a2a2a">ns</tspan> p=0.97</text>
<line x1="550.6" y1="551.5" x2="574.5" y2="551.5" stroke="#222" stroke-width="1.1"/>
<text x="561.7" y="552.1" font-size="9.2" text-anchor="middle" font-weight="bold" stroke="#111" stroke-width="0.13" letter-spacing="0.3">**</text>
<text x="568.5" y="548.2" font-size="8.3" fill="#555" stroke="#555" stroke-width="0.12">p=0.004</text>
<line x1="535.3" y1="541.5" x2="574.5" y2="541.5" stroke="#222" stroke-width="1.1"/>
<text x="554" y="543.1" font-size="9.2" text-anchor="middle" font-weight="bold" stroke="#111" stroke-width="0.13" letter-spacing="0.3">**</text>
<text x="563.1" y="538.8" font-size="8.3" fill="#555" stroke="#555" stroke-width="0.12">p=0.004</text>
<text x="503.5" y="530" font-size="9.8" font-weight="bold" stroke="#111" stroke-width="0.13">Spleen/CD8+ TEM</text>
<text x="487.7" y="604.4" font-size="8.5" font-weight="bold" stroke="#111" stroke-width="0.13" transform="rotate(-90 487.7 604.4)">% positive cells</text>
<line x1="607.6" y1="546.5" x2="607.6" y2="564.9" stroke="#666" stroke-width="1.5"/>
<line x1="607.6" y1="574.6" x2="607.6" y2="592.6" stroke="#666" stroke-width="1.5"/>
<text x="605.8" y="558.42" font-size="7.2" text-anchor="end" fill="#222" stroke="#222" stroke-width="0.2">UTD</text>
<text x="605.8" y="586.41" font-size="6.6" text-anchor="end" fill="#222" stroke="#222" stroke-width="0.18">TCR-T1</text>
<rect x="610.5" y="547.5" width="10" height="3" fill="#1414f0" stroke="#111" stroke-width="0.9"/>
<rect x="610.5" y="561.5" width="10" height="3" fill="#8c8cf6" stroke="#111" stroke-width="0.9"/>
<rect x="610.5" y="575.5" width="10" height="3" fill="#f2200f" stroke="#111" stroke-width="0.9"/>
<rect x="610.5" y="589.5" width="10" height="3" fill="#f2a0a6" stroke="#111" stroke-width="0.9"/>
<text x="627.2" y="551.19" font-size="7.1" fill="#222" stroke="#222" stroke-width="0.2">SYT-SSX1/2 ΔPep-4</text>
<text x="627.2" y="565.19" font-size="7.1" fill="#222" stroke="#222" stroke-width="0.2">SYT-SSX1/2 Pep-4</text>
<text x="627.2" y="579.28" font-size="7.1" fill="#222" stroke="#222" stroke-width="0.2">SYT-SSX1/2 ΔPep-4</text>
<text x="627.2" y="592.88" font-size="7.1" fill="#222" stroke="#222" stroke-width="0.2">SYT-SSX1/2 Pep-4</text>
<line x1="218.8" y1="828.5" x2="222" y2="828.5" stroke="#222" stroke-width="1"/>
<text x="216" y="831.27" font-size="7.3" text-anchor="end" font-weight="bold" fill="#222" stroke="#222" stroke-width="0.12">0</text>
<line x1="218.8" y1="813.5" x2="222" y2="813.5" stroke="#222" stroke-width="1"/>
<text x="216" y="816.26" font-size="7.3" text-anchor="end" font-weight="bold" fill="#222" stroke="#222" stroke-width="0.12">500</text>
<line x1="218.8" y1="798.5" x2="222" y2="798.5" stroke="#222" stroke-width="1"/>
<text x="216" y="801.25" font-size="7.3" text-anchor="end" font-weight="bold" fill="#222" stroke="#222" stroke-width="0.12">1000</text>
<line x1="218.8" y1="783.5" x2="222" y2="783.5" stroke="#222" stroke-width="1"/>
<text x="216" y="786.24" font-size="7.3" text-anchor="end" font-weight="bold" fill="#222" stroke="#222" stroke-width="0.12">1500</text>
<line x1="218.8" y1="768.5" x2="222" y2="768.5" stroke="#222" stroke-width="1"/>
<text x="216" y="771.23" font-size="7.3" text-anchor="end" font-weight="bold" fill="#222" stroke="#222" stroke-width="0.12">2000</text>
<line x1="218.8" y1="753.5" x2="222" y2="753.5" stroke="#222" stroke-width="1"/>
<text x="216" y="756.22" font-size="7.3" text-anchor="end" font-weight="bold" fill="#222" stroke="#222" stroke-width="0.12">2500</text>
<line x1="233.5" y1="800" x2="233.5" y2="796.4" stroke="#222" stroke-width="1"/>
<line x1="230.45" y1="796.5" x2="235.85" y2="796.5" stroke="#222" stroke-width="1"/>
<rect x="228.5" y="800.5" width="10" height="28" fill="#1414f0" stroke="#151515" stroke-width="1.1"/>
<line x1="249.5" y1="800.7" x2="249.5" y2="798.1" stroke="#222" stroke-width="1"/>
<line x1="246.8" y1="798.5" x2="252.2" y2="798.5" stroke="#222" stroke-width="1"/>
<rect x="244.5" y="800.5" width="10" height="28" fill="#f2200f" stroke="#151515" stroke-width="1.1"/>
<line x1="265.5" y1="799.8" x2="265.5" y2="797.5" stroke="#222" stroke-width="1"/>
<line x1="263.2" y1="797.5" x2="268.6" y2="797.5" stroke="#222" stroke-width="1"/>
<rect x="260.5" y="799.5" width="10" height="29" fill="#32891f" stroke="#151515" stroke-width="1.1"/>
<line x1="282.5" y1="775.3" x2="282.5" y2="770.3" stroke="#222" stroke-width="1"/>
<line x1="279.75" y1="770.5" x2="285.15" y2="770.5" stroke="#222" stroke-width="1"/>
<rect x="277.5" y="775.5" width="10" height="53" fill="#c8691f" stroke="#151515" stroke-width="1.1"/>
<line x1="222.5" y1="752.65" x2="222.5" y2="828.7" stroke="#222" stroke-width="1.1"/>
<line x1="221.5" y1="828.5" x2="293.4" y2="828.5" stroke="#222" stroke-width="1.1"/>
<line x1="229.2" y1="793.5" x2="253.5" y2="793.5" stroke="#222" stroke-width="1.1"/>
<text x="237.6" y="791" font-size="8.3" fill="#555" stroke="#555" stroke-width="0.12"><tspan fill="#2a2a2a" stroke="#2a2a2a">ns</tspan>p=0.98</text>
<line x1="229.2" y1="783.5" x2="269" y2="783.5" stroke="#222" stroke-width="1.1"/>
<text x="244.5" y="781.7" font-size="8.3" fill="#555" stroke="#555" stroke-width="0.12"><tspan fill="#2a2a2a" stroke="#2a2a2a">ns</tspan> p=0.97</text>
<line x1="262.4" y1="768.5" x2="286.2" y2="768.5" stroke="#222" stroke-width="1.1"/>
<text x="274.3" y="769.8" font-size="9.2" text-anchor="middle" font-weight="bold" stroke="#111" stroke-width="0.13" letter-spacing="0.3">**</text>
<text x="280.9" y="766.8" font-size="8.3" fill="#555" stroke="#555" stroke-width="0.12">p=0.002</text>
<line x1="247.1" y1="759.5" x2="286.2" y2="759.5" stroke="#222" stroke-width="1.1"/>
<text x="266.4" y="760.6" font-size="9.2" text-anchor="middle" font-weight="bold" stroke="#111" stroke-width="0.13" letter-spacing="0.3">**</text>
<text x="274.9" y="756.4" font-size="8.3" fill="#555" stroke="#555" stroke-width="0.12">p=0.002</text>
<text x="227.7" y="746.9" font-size="10" font-weight="bold" stroke="#111" stroke-width="0.13">CD8+ T-cells</text>
<text x="184.5" y="798.7" font-size="8.1" font-weight="bold" stroke="#111" stroke-width="0.13" transform="rotate(-90 184.5 798.7)">MFI/</text>
<text x="194.2" y="823.3" font-size="8.5" font-weight="bold" stroke="#111" stroke-width="0.13" transform="rotate(-90 194.2 823.3)">PD-1 expression</text>
<line x1="206.5" y1="682.7" x2="206.5" y2="702.2" stroke="#222" stroke-width="1.2"/>
<line x1="206.5" y1="711.1" x2="206.5" y2="729.8" stroke="#222" stroke-width="1.2"/>
<text x="204.4" y="695.42" font-size="7.2" text-anchor="end" fill="#222" stroke="#222" stroke-width="0.2">UTD</text>
<text x="204.4" y="723.31" font-size="6.6" text-anchor="end" fill="#222" stroke="#222" stroke-width="0.18">TCR-T1</text>
<rect x="208.5" y="684.5" width="11" height="3" fill="#1414f0" stroke="#111" stroke-width="0.9"/>
<rect x="208.5" y="698.5" width="11" height="3" fill="#f2200f" stroke="#111" stroke-width="0.9"/>
<rect x="208.5" y="712.5" width="11" height="3" fill="#32891f" stroke="#111" stroke-width="0.9"/>
<rect x="208.5" y="726.5" width="11" height="3" fill="#c8691f" stroke="#111" stroke-width="0.9"/>
<text x="226" y="688.55" font-size="7" fill="#222" stroke="#222" stroke-width="0.19">SYT-SSX1/2 ΔPep-4</text>
<text x="226" y="702.65" font-size="7" fill="#222" stroke="#222" stroke-width="0.19">SYT-SSX1/2 Pep-4</text>
<text x="226" y="716.25" font-size="7" fill="#222" stroke="#222" stroke-width="0.19">SYT-SSX1/2 ΔPep-4</text>
<text x="226" y="730.25" font-size="7" fill="#222" stroke="#222" stroke-width="0.19">SYT-SSX1/2 Pep-4</text>
<line x1="559.1" y1="827.5" x2="562.3" y2="827.5" stroke="#222" stroke-width="1"/>
<text x="558.7" y="831.22" font-size="7.9" text-anchor="end" font-weight="bold" fill="#222" stroke="#222" stroke-width="0.13">0</text>
<line x1="559.1" y1="815.5" x2="562.3" y2="815.5" stroke="#222" stroke-width="1"/>
<text x="558.7" y="818.78" font-size="7.9" text-anchor="end" font-weight="bold" fill="#222" stroke="#222" stroke-width="0.13">200</text>
<line x1="559.1" y1="803.5" x2="562.3" y2="803.5" stroke="#222" stroke-width="1"/>
<text x="558.7" y="806.35" font-size="7.9" text-anchor="end" font-weight="bold" fill="#222" stroke="#222" stroke-width="0.13">400</text>
<line x1="559.1" y1="790.5" x2="562.3" y2="790.5" stroke="#222" stroke-width="1"/>
<text x="558.7" y="793.92" font-size="7.9" text-anchor="end" font-weight="bold" fill="#222" stroke="#222" stroke-width="0.13">600</text>
<line x1="559.1" y1="778.5" x2="562.3" y2="778.5" stroke="#222" stroke-width="1"/>
<text x="558.7" y="781.48" font-size="7.9" text-anchor="end" font-weight="bold" fill="#222" stroke="#222" stroke-width="0.13">800</text>
<line x1="559.1" y1="765.5" x2="562.3" y2="765.5" stroke="#222" stroke-width="1"/>
<text x="558.7" y="769.05" font-size="7.9" text-anchor="end" font-weight="bold" fill="#222" stroke="#222" stroke-width="0.13">1000</text>
<line x1="559.1" y1="753.5" x2="562.3" y2="753.5" stroke="#222" stroke-width="1"/>
<text x="558.7" y="756.61" font-size="7.9" text-anchor="end" font-weight="bold" fill="#222" stroke="#222" stroke-width="0.13">1200</text>
<line x1="573.5" y1="797.6" x2="573.5" y2="795" stroke="#222" stroke-width="1"/>
<line x1="570.45" y1="795.5" x2="575.85" y2="795.5" stroke="#222" stroke-width="1"/>
<rect x="568.5" y="797.5" width="10" height="30" fill="#1414f0" stroke="#151515" stroke-width="1.1"/>
<line x1="589.5" y1="795" x2="589.5" y2="792.2" stroke="#222" stroke-width="1"/>
<line x1="586.75" y1="792.5" x2="592.15" y2="792.5" stroke="#222" stroke-width="1"/>
<rect x="584.5" y="795.5" width="10" height="32" fill="#f2200f" stroke="#151515" stroke-width="1.1"/>
<line x1="605.5" y1="797" x2="605.5" y2="794.6" stroke="#222" stroke-width="1"/>
<line x1="602.65" y1="794.5" x2="608.05" y2="794.5" stroke="#222" stroke-width="1"/>
<rect x="600.5" y="797.5" width="10" height="30" fill="#32891f" stroke="#151515" stroke-width="1.1"/>
<line x1="621.5" y1="780.7" x2="621.5" y2="776.7" stroke="#222" stroke-width="1"/>
<line x1="618.95" y1="776.5" x2="624.35" y2="776.5" stroke="#222" stroke-width="1"/>
<rect x="616.5" y="780.5" width="10" height="47" fill="#c8691f" stroke="#151515" stroke-width="1.1"/>
<line x1="562.5" y1="752.8" x2="562.5" y2="828.4" stroke="#222" stroke-width="1.1"/>
<line x1="561.8" y1="827.5" x2="633" y2="827.5" stroke="#222" stroke-width="1.1"/>
<line x1="568.6" y1="789.5" x2="593.4" y2="789.5" stroke="#222" stroke-width="1.1"/>
<text x="576.6" y="788.2" font-size="8.3" fill="#555" stroke="#555" stroke-width="0.12"><tspan fill="#2a2a2a" stroke="#2a2a2a">ns</tspan>p=0.88</text>
<line x1="568.6" y1="781.5" x2="608.3" y2="781.5" stroke="#222" stroke-width="1.1"/>
<text x="585.5" y="779.1" font-size="8.3" fill="#555" stroke="#555" stroke-width="0.12"><tspan fill="#2a2a2a" stroke="#2a2a2a">ns</tspan> p=0.96</text>
<line x1="602.4" y1="768.5" x2="626.2" y2="768.5" stroke="#222" stroke-width="1.1"/>
<text x="614.3" y="770.1" font-size="9.2" text-anchor="middle" font-weight="bold" stroke="#111" stroke-width="0.13" letter-spacing="0.3">**</text>
<text x="620.2" y="765.8" font-size="8.3" fill="#555" stroke="#555" stroke-width="0.12">p=0.004</text>
<line x1="586.5" y1="759.5" x2="626.2" y2="759.5" stroke="#222" stroke-width="1.1"/>
<text x="605.4" y="760.6" font-size="9.2" text-anchor="middle" font-weight="bold" stroke="#111" stroke-width="0.13" letter-spacing="0.3">**</text>
<text x="614.3" y="755.9" font-size="8.3" fill="#555" stroke="#555" stroke-width="0.12">p=0.005</text>
<text x="567.6" y="746.5" font-size="10" font-weight="bold" stroke="#111" stroke-width="0.13">CD8+ T-cells</text>
<text x="524.9" y="798.5" font-size="8.1" font-weight="bold" stroke="#111" stroke-width="0.13" transform="rotate(-90 524.9 798.5)">MFI/</text>
<text x="533.9" y="828.3" font-size="8.8" font-weight="bold" stroke="#111" stroke-width="0.13" transform="rotate(-90 533.9 828.3)">TIM-3 expression</text>
<line x1="546.5" y1="682.7" x2="546.5" y2="701.9" stroke="#222" stroke-width="1.2"/>
<line x1="546.5" y1="710.7" x2="546.5" y2="729.5" stroke="#222" stroke-width="1.2"/>
<text x="544.3" y="694.92" font-size="7.2" text-anchor="end" fill="#222" stroke="#222" stroke-width="0.2">UTD</text>
<text x="544.3" y="722.91" font-size="6.6" text-anchor="end" fill="#222" stroke="#222" stroke-width="0.18">TCR-T1</text>
<rect x="548.5" y="683.5" width="11" height="3" fill="#1414f0" stroke="#111" stroke-width="0.9"/>
<rect x="548.5" y="698.5" width="11" height="3" fill="#f2200f" stroke="#111" stroke-width="0.9"/>
<rect x="548.5" y="711.5" width="11" height="3" fill="#32891f" stroke="#111" stroke-width="0.9"/>
<rect x="548.5" y="725.5" width="11" height="3" fill="#c8691f" stroke="#111" stroke-width="0.9"/>
<text x="565.7" y="688.05" font-size="7" fill="#222" stroke="#222" stroke-width="0.19">SYT-SSX1/2 ΔPep-4</text>
<text x="565.7" y="702.15" font-size="7" fill="#222" stroke="#222" stroke-width="0.19">SYT-SSX1/2 Pep-4</text>
<text x="565.7" y="715.75" font-size="7" fill="#222" stroke="#222" stroke-width="0.19">SYT-SSX1/2 ΔPep-4</text>
<text x="565.7" y="729.85" font-size="7" fill="#222" stroke="#222" stroke-width="0.19">SYT-SSX1/2 Pep-4</text>
<text x="0.2" y="672.4" font-size="15" font-weight="bold" fill="#000" stroke="#000" stroke-width="0.13">E</text>
<text x="62" y="673.6" font-size="11.6" fill="#1a1a1a" stroke="#1a1a1a" stroke-width="0.22">CD8+ T-cells</text>
<rect x="28.5" y="677.5" width="132" height="133" fill="none" stroke="#777" stroke-width="0.9"/>
<line x1="28.1" y1="810.5" x2="160.6" y2="810.5" stroke="#333" stroke-width="1"/>
<line x1="31.5" y1="810" x2="31.5" y2="808.8" stroke="#444" stroke-width="0.6"/>
<line x1="34.5" y1="810" x2="34.5" y2="808.8" stroke="#444" stroke-width="0.6"/>
<line x1="37.5" y1="810" x2="37.5" y2="808.8" stroke="#444" stroke-width="0.6"/>
<line x1="39.5" y1="810" x2="39.5" y2="808.8" stroke="#444" stroke-width="0.6"/>
<line x1="41.5" y1="810" x2="41.5" y2="808.8" stroke="#444" stroke-width="0.6"/>
<line x1="42.5" y1="810" x2="42.5" y2="808.8" stroke="#444" stroke-width="0.6"/>
<line x1="43.5" y1="810" x2="43.5" y2="808.8" stroke="#444" stroke-width="0.6"/>
<line x1="45.5" y1="810" x2="45.5" y2="807.8" stroke="#444" stroke-width="0.6"/>
<line x1="53.5" y1="810" x2="53.5" y2="808.8" stroke="#444" stroke-width="0.6"/>
<line x1="57.5" y1="810" x2="57.5" y2="808.8" stroke="#444" stroke-width="0.6"/>
<line x1="61.5" y1="810" x2="61.5" y2="808.8" stroke="#444" stroke-width="0.6"/>
<line x1="63.5" y1="810" x2="63.5" y2="808.8" stroke="#444" stroke-width="0.6"/>
<line x1="65.5" y1="810" x2="65.5" y2="808.8" stroke="#444" stroke-width="0.6"/>
<line x1="67.5" y1="810" x2="67.5" y2="808.8" stroke="#444" stroke-width="0.6"/>
<line x1="68.5" y1="810" x2="68.5" y2="808.8" stroke="#444" stroke-width="0.6"/>
<line x1="70.5" y1="810" x2="70.5" y2="808.8" stroke="#444" stroke-width="0.6"/>
<line x1="71.5" y1="810" x2="71.5" y2="807.8" stroke="#444" stroke-width="0.6"/>
<line x1="79.5" y1="810" x2="79.5" y2="808.8" stroke="#444" stroke-width="0.6"/>
<line x1="84.5" y1="810" x2="84.5" y2="808.8" stroke="#444" stroke-width="0.6"/>
<line x1="87.5" y1="810" x2="87.5" y2="808.8" stroke="#444" stroke-width="0.6"/>
<line x1="89.5" y1="810" x2="89.5" y2="808.8" stroke="#444" stroke-width="0.6"/>
<line x1="92.5" y1="810" x2="92.5" y2="808.8" stroke="#444" stroke-width="0.6"/>
<line x1="93.5" y1="810" x2="93.5" y2="808.8" stroke="#444" stroke-width="0.6"/>
<line x1="95.5" y1="810" x2="95.5" y2="808.8" stroke="#444" stroke-width="0.6"/>
<line x1="96.5" y1="810" x2="96.5" y2="808.8" stroke="#444" stroke-width="0.6"/>
<line x1="97.5" y1="810" x2="97.5" y2="807.8" stroke="#444" stroke-width="0.6"/>
<line x1="105.5" y1="810" x2="105.5" y2="808.8" stroke="#444" stroke-width="0.6"/>
<line x1="110.5" y1="810" x2="110.5" y2="808.8" stroke="#444" stroke-width="0.6"/>
<line x1="113.5" y1="810" x2="113.5" y2="808.8" stroke="#444" stroke-width="0.6"/>
<line x1="116.5" y1="810" x2="116.5" y2="808.8" stroke="#444" stroke-width="0.6"/>
<line x1="118.5" y1="810" x2="118.5" y2="808.8" stroke="#444" stroke-width="0.6"/>
<line x1="120.5" y1="810" x2="120.5" y2="808.8" stroke="#444" stroke-width="0.6"/>
<line x1="121.5" y1="810" x2="121.5" y2="808.8" stroke="#444" stroke-width="0.6"/>
<line x1="122.5" y1="810" x2="122.5" y2="808.8" stroke="#444" stroke-width="0.6"/>
<line x1="124.5" y1="810" x2="124.5" y2="807.8" stroke="#444" stroke-width="0.6"/>
<line x1="132.5" y1="810" x2="132.5" y2="808.8" stroke="#444" stroke-width="0.6"/>
<line x1="136.5" y1="810" x2="136.5" y2="808.8" stroke="#444" stroke-width="0.6"/>
<line x1="140.5" y1="810" x2="140.5" y2="808.8" stroke="#444" stroke-width="0.6"/>
<line x1="142.5" y1="810" x2="142.5" y2="808.8" stroke="#444" stroke-width="0.6"/>
<line x1="144.5" y1="810" x2="144.5" y2="808.8" stroke="#444" stroke-width="0.6"/>
<line x1="146.5" y1="810" x2="146.5" y2="808.8" stroke="#444" stroke-width="0.6"/>
<line x1="147.5" y1="810" x2="147.5" y2="808.8" stroke="#444" stroke-width="0.6"/>
<line x1="149.5" y1="810" x2="149.5" y2="808.8" stroke="#444" stroke-width="0.6"/>
<line x1="150.5" y1="810" x2="150.5" y2="807.8" stroke="#444" stroke-width="0.6"/>
<line x1="158.5" y1="810" x2="158.5" y2="808.8" stroke="#444" stroke-width="0.6"/>
<text x="45.2" y="824" font-size="7" text-anchor="middle" font-weight="bold" fill="#222" stroke="#222" stroke-width="0.12">10</text>
<text x="50.2" y="818" font-size="6.2" font-weight="bold" fill="#222" stroke="#222" stroke-width="0.1">1</text>
<text x="71.8" y="824" font-size="7" text-anchor="middle" font-weight="bold" fill="#222" stroke="#222" stroke-width="0.12">10</text>
<text x="76.8" y="818" font-size="6.2" font-weight="bold" fill="#222" stroke="#222" stroke-width="0.1">2</text>
<text x="98.3" y="824" font-size="7" text-anchor="middle" font-weight="bold" fill="#222" stroke="#222" stroke-width="0.12">10</text>
<text x="103.3" y="818" font-size="6.2" font-weight="bold" fill="#222" stroke="#222" stroke-width="0.1">3</text>
<text x="124.2" y="824" font-size="7" text-anchor="middle" font-weight="bold" fill="#222" stroke="#222" stroke-width="0.12">10</text>
<text x="129.2" y="818" font-size="6.2" font-weight="bold" fill="#222" stroke="#222" stroke-width="0.1">4</text>
<text x="150.5" y="824" font-size="7" text-anchor="middle" font-weight="bold" fill="#222" stroke="#222" stroke-width="0.12">10</text>
<text x="155.5" y="818" font-size="6.2" font-weight="bold" fill="#222" stroke="#222" stroke-width="0.1">5</text>
<path d="M28.9 731.4 L29.2 690 L29.6 681 L30.2 690 L31.2 725 L32.5 731 L36.9 731 L58.8 731 L60.7 729.8 L69.7 729.8 L74.6 727 L79.6 721.7 L84.6 716.7 L88.1 712.7 L90.5 707.8 L93.5 702.4 L95.5 703.8 L97.5 706.4 L101.5 709.2 L104.4 710.7 L106.4 713.1 L109.4 717.1 L112.4 720.3 L114.4 719.7 L116.7 716.3 L119.3 717.1 L122.3 718.7 L126.3 722.7 L130.2 726.2 L134.2 729 L138.2 730.2 L144.1 730.6 L150.1 731.4 L160.3 731.4" fill="none" stroke="#3c3cf0" stroke-width="0.9" stroke-linejoin="round"/>
<path d="M28.9 757.4 L29.3 720 L29.7 707 L30.3 720 L31 755 L31.5 757.3 L36.9 757.3 L48.8 756.1 L58.8 754.1 L64.7 751.7 L69.7 749.3 L72.7 746.1 L74.6 745.3 L78.6 740.2 L82.6 733.4 L86.6 726.3 L89.5 722.9 L92.1 717.5 L94.1 722.3 L96.1 725.9 L99.5 729.5 L102.4 731.8 L104.4 734.8 L106.4 733.8 L108.4 736.8 L110.8 733.4 L113.4 728.9 L115.4 732.2 L117.3 731.4 L119.3 734.8 L121.7 733.4 L124.3 736.8 L127.3 741.8 L130.2 745.7 L133.2 749.7 L137.2 751.7 L142.2 755.3 L146.1 757.3 L160.3 757.3" fill="none" stroke="#e04040" stroke-width="0.9" stroke-linejoin="round"/>
<path d="M28.9 783.5 L29.3 745 L29.7 733.5 L30.3 745 L31 780 L31.5 783.4 L44.9 783.4 L54.8 781.8 L62.7 779.8 L70.7 774.8 L76.6 768.9 L80.6 761.9 L84.6 752.5 L86.6 749.7 L89.5 743.8 L92.1 737.4 L94.5 741.8 L97.5 748.7 L100.5 751.7 L104.4 754.7 L108.4 759.2 L110.8 757.3 L113.4 758.7 L116.3 762 L119.3 760.6 L121.7 759.2 L124.3 761.2 L128.3 762.3 L132.2 769.9 L137.2 775.8 L143.1 780.8 L148.1 783.4 L160.3 783.4" fill="none" stroke="#30d030" stroke-width="0.9" stroke-linejoin="round"/>
<path d="M28.9 809.6 L29.3 772 L29.7 760 L30.3 772 L31 805 L31.5 809.6 L54.8 809.2 L60.7 806.6 L66.7 803.6 L72.7 800.6 L76.6 795.7 L80.6 791.7 L84.6 786.7 L86.6 787.7 L88.5 789.7 L90.5 785.7 L93.5 780.8 L96.5 779.4 L99.5 777.8 L101.5 779.8 L103.4 776.8 L105.4 773.8 L107.4 778.8 L110.4 778.8 L112.4 777.8 L115.4 779.4 L118.3 780.8 L120.7 776.2 L122.7 779.8 L125.3 784.8 L128.3 783.8 L131.2 788.7 L135.2 794.7 L139.2 800.6 L143.1 806.6 L146.1 809.2 L160.3 809.5" fill="none" stroke="#c07830" stroke-width="0.9" stroke-linejoin="round"/>
<line x1="19.5" y1="675.9" x2="19.5" y2="770.2" stroke="#1a1a1a" stroke-width="1"/>
<path d="M19.5 669.9 L17.2 677.4 L21.8 677.4Z" fill="#111"/>
<text x="22.9" y="814.3" font-size="8.3" font-weight="bold" stroke="#111" stroke-width="0.13" transform="rotate(-90 22.9 814.3)">Histogram</text>
<text x="93.6" y="837.4" font-size="7.2" text-anchor="middle" font-weight="bold" fill="#222" stroke="#222" stroke-width="0.12">Comp-BV421-A :: PD-1</text>
<text x="30" y="848.5" font-size="8.85" font-weight="bold" stroke="#111" stroke-width="0.13">PD-1-BV421</text>
<line x1="80.8" y1="845.5" x2="152.3" y2="845.5" stroke="#1a1a1a" stroke-width="1"/>
<path d="M158.3 845.6 L150.8 843.3 L150.8 847.9Z" fill="#111"/>
<text x="339.8" y="672.1" font-size="15" font-weight="bold" fill="#000" stroke="#000" stroke-width="0.13">F</text>
<text x="401.8" y="673.9" font-size="11.6" fill="#1a1a1a" stroke="#1a1a1a" stroke-width="0.22">CD8+ T-cells</text>
<rect x="368.5" y="677.5" width="132" height="132" fill="none" stroke="#777" stroke-width="0.9"/>
<line x1="368.3" y1="809.5" x2="500.3" y2="809.5" stroke="#333" stroke-width="1"/>
<line x1="371.5" y1="809.7" x2="371.5" y2="808.5" stroke="#444" stroke-width="0.6"/>
<line x1="374.5" y1="809.7" x2="374.5" y2="808.5" stroke="#444" stroke-width="0.6"/>
<line x1="377.5" y1="809.7" x2="377.5" y2="808.5" stroke="#444" stroke-width="0.6"/>
<line x1="379.5" y1="809.7" x2="379.5" y2="808.5" stroke="#444" stroke-width="0.6"/>
<line x1="381.5" y1="809.7" x2="381.5" y2="808.5" stroke="#444" stroke-width="0.6"/>
<line x1="382.5" y1="809.7" x2="382.5" y2="808.5" stroke="#444" stroke-width="0.6"/>
<line x1="383.5" y1="809.7" x2="383.5" y2="808.5" stroke="#444" stroke-width="0.6"/>
<line x1="385.5" y1="809.7" x2="385.5" y2="807.5" stroke="#444" stroke-width="0.6"/>
<line x1="393.5" y1="809.7" x2="393.5" y2="808.5" stroke="#444" stroke-width="0.6"/>
<line x1="397.5" y1="809.7" x2="397.5" y2="808.5" stroke="#444" stroke-width="0.6"/>
<line x1="401.5" y1="809.7" x2="401.5" y2="808.5" stroke="#444" stroke-width="0.6"/>
<line x1="403.5" y1="809.7" x2="403.5" y2="808.5" stroke="#444" stroke-width="0.6"/>
<line x1="405.5" y1="809.7" x2="405.5" y2="808.5" stroke="#444" stroke-width="0.6"/>
<line x1="407.5" y1="809.7" x2="407.5" y2="808.5" stroke="#444" stroke-width="0.6"/>
<line x1="409.5" y1="809.7" x2="409.5" y2="808.5" stroke="#444" stroke-width="0.6"/>
<line x1="410.5" y1="809.7" x2="410.5" y2="808.5" stroke="#444" stroke-width="0.6"/>
<line x1="411.5" y1="809.7" x2="411.5" y2="807.5" stroke="#444" stroke-width="0.6"/>
<line x1="419.5" y1="809.7" x2="419.5" y2="808.5" stroke="#444" stroke-width="0.6"/>
<line x1="424.5" y1="809.7" x2="424.5" y2="808.5" stroke="#444" stroke-width="0.6"/>
<line x1="427.5" y1="809.7" x2="427.5" y2="808.5" stroke="#444" stroke-width="0.6"/>
<line x1="430.5" y1="809.7" x2="430.5" y2="808.5" stroke="#444" stroke-width="0.6"/>
<line x1="432.5" y1="809.7" x2="432.5" y2="808.5" stroke="#444" stroke-width="0.6"/>
<line x1="434.5" y1="809.7" x2="434.5" y2="808.5" stroke="#444" stroke-width="0.6"/>
<line x1="435.5" y1="809.7" x2="435.5" y2="808.5" stroke="#444" stroke-width="0.6"/>
<line x1="436.5" y1="809.7" x2="436.5" y2="808.5" stroke="#444" stroke-width="0.6"/>
<line x1="438.5" y1="809.7" x2="438.5" y2="807.5" stroke="#444" stroke-width="0.6"/>
<line x1="446.5" y1="809.7" x2="446.5" y2="808.5" stroke="#444" stroke-width="0.6"/>
<line x1="450.5" y1="809.7" x2="450.5" y2="808.5" stroke="#444" stroke-width="0.6"/>
<line x1="454.5" y1="809.7" x2="454.5" y2="808.5" stroke="#444" stroke-width="0.6"/>
<line x1="456.5" y1="809.7" x2="456.5" y2="808.5" stroke="#444" stroke-width="0.6"/>
<line x1="458.5" y1="809.7" x2="458.5" y2="808.5" stroke="#444" stroke-width="0.6"/>
<line x1="460.5" y1="809.7" x2="460.5" y2="808.5" stroke="#444" stroke-width="0.6"/>
<line x1="462.5" y1="809.7" x2="462.5" y2="808.5" stroke="#444" stroke-width="0.6"/>
<line x1="463.5" y1="809.7" x2="463.5" y2="808.5" stroke="#444" stroke-width="0.6"/>
<line x1="464.5" y1="809.7" x2="464.5" y2="807.5" stroke="#444" stroke-width="0.6"/>
<line x1="472.5" y1="809.7" x2="472.5" y2="808.5" stroke="#444" stroke-width="0.6"/>
<line x1="477.5" y1="809.7" x2="477.5" y2="808.5" stroke="#444" stroke-width="0.6"/>
<line x1="480.5" y1="809.7" x2="480.5" y2="808.5" stroke="#444" stroke-width="0.6"/>
<line x1="483.5" y1="809.7" x2="483.5" y2="808.5" stroke="#444" stroke-width="0.6"/>
<line x1="485.5" y1="809.7" x2="485.5" y2="808.5" stroke="#444" stroke-width="0.6"/>
<line x1="486.5" y1="809.7" x2="486.5" y2="808.5" stroke="#444" stroke-width="0.6"/>
<line x1="488.5" y1="809.7" x2="488.5" y2="808.5" stroke="#444" stroke-width="0.6"/>
<line x1="489.5" y1="809.7" x2="489.5" y2="808.5" stroke="#444" stroke-width="0.6"/>
<line x1="491.5" y1="809.7" x2="491.5" y2="807.5" stroke="#444" stroke-width="0.6"/>
<line x1="499.5" y1="809.7" x2="499.5" y2="808.5" stroke="#444" stroke-width="0.6"/>
<text x="385.2" y="823.7" font-size="7" text-anchor="middle" font-weight="bold" fill="#222" stroke="#222" stroke-width="0.12">10</text>
<text x="390.2" y="817.7" font-size="6.2" font-weight="bold" fill="#222" stroke="#222" stroke-width="0.1">1</text>
<text x="411.5" y="823.7" font-size="7" text-anchor="middle" font-weight="bold" fill="#222" stroke="#222" stroke-width="0.12">10</text>
<text x="416.5" y="817.7" font-size="6.2" font-weight="bold" fill="#222" stroke="#222" stroke-width="0.1">2</text>
<text x="438" y="823.7" font-size="7" text-anchor="middle" font-weight="bold" fill="#222" stroke="#222" stroke-width="0.12">10</text>
<text x="443" y="817.7" font-size="6.2" font-weight="bold" fill="#222" stroke="#222" stroke-width="0.1">3</text>
<text x="464.6" y="823.7" font-size="7" text-anchor="middle" font-weight="bold" fill="#222" stroke="#222" stroke-width="0.12">10</text>
<text x="469.6" y="817.7" font-size="6.2" font-weight="bold" fill="#222" stroke="#222" stroke-width="0.1">4</text>
<text x="491.1" y="823.7" font-size="7" text-anchor="middle" font-weight="bold" fill="#222" stroke="#222" stroke-width="0.12">10</text>
<text x="496.1" y="817.7" font-size="6.2" font-weight="bold" fill="#222" stroke="#222" stroke-width="0.1">5</text>
<path d="M368.6 731.4 L392.8 731.4 L394.8 730.6 L401.7 730.2 L406.7 727 L411.7 723.1 L414.6 717.7 L417 711.7 L419.6 703.8 L422.2 694.9 L423.8 686.9 L425.2 688.9 L426.6 688.5 L428.1 686.9 L429.5 689.9 L431.5 696.8 L433.5 698.4 L435.5 704.8 L437.5 713.7 L439.5 717.7 L442.4 721.7 L446.4 727 L450.4 731 L500 731.4" fill="none" stroke="#3c3cf0" stroke-width="0.9" stroke-linejoin="round"/>
<path d="M368.6 757.3 L398.8 757.3 L406.7 756.1 L411.7 754.1 L414.6 750.7 L417.6 745.7 L420.6 740.8 L423 735.4 L424.2 729.9 L425.6 721.9 L426.6 717.3 L428.1 720.9 L429.5 725.9 L431.5 729.9 L433.5 732.8 L435.5 734.8 L437.5 737.8 L440.1 739.8 L442.4 745.7 L445.4 751.7 L448.4 755.7 L452.4 757.3 L500 757.3" fill="none" stroke="#e04040" stroke-width="0.9" stroke-linejoin="round"/>
<path d="M368.6 783.4 L392.8 783.4 L400.7 781.8 L406.7 778.8 L411.7 773.8 L415.6 767.9 L418.6 759.9 L420.6 750 L422.6 742.8 L424.6 743.8 L427 740.8 L428.9 742.8 L431.5 745.7 L433.5 746.7 L435.5 747.7 L436.9 753.7 L438.5 756 L441.5 763.9 L444.4 771.8 L448.4 778.8 L454.4 783.4 L500 783.4" fill="none" stroke="#30d030" stroke-width="0.9" stroke-linejoin="round"/>
<path d="M408.7 809.4 L414.6 807.6 L418.6 802.6 L422.6 794.7 L426.6 785.7 L429.5 777.8 L432.1 773.4 L433.5 775.4 L434.9 780.8 L436.5 781.8 L438.1 780.2 L440.5 784.8 L443.4 790.7 L446.4 797.7 L449.4 804.6 L452.4 809.4" fill="none" stroke="#c07830" stroke-width="0.9" stroke-linejoin="round"/>
<line x1="359.5" y1="676.7" x2="359.5" y2="767" stroke="#1a1a1a" stroke-width="1"/>
<path d="M359.8 670.7 L357.5 678.2 L362.1 678.2Z" fill="#111"/>
<text x="361.9" y="814.2" font-size="8.3" font-weight="bold" stroke="#111" stroke-width="0.13" transform="rotate(-90 361.9 814.2)">Histogram</text>
<text x="433.5" y="837.2" font-size="7.2" text-anchor="middle" font-weight="bold" fill="#222" stroke="#222" stroke-width="0.12">Comp-APC-A :: TIM3</text>
<text x="369.4" y="848.7" font-size="8.65" font-weight="bold" stroke="#111" stroke-width="0.13">TIM-3-BV421</text>
<line x1="420.8" y1="845.5" x2="492.7" y2="845.5" stroke="#1a1a1a" stroke-width="1"/>
<path d="M498.7 845.4 L491.2 843.1 L491.2 847.7Z" fill="#111"/></svg></body></html>
